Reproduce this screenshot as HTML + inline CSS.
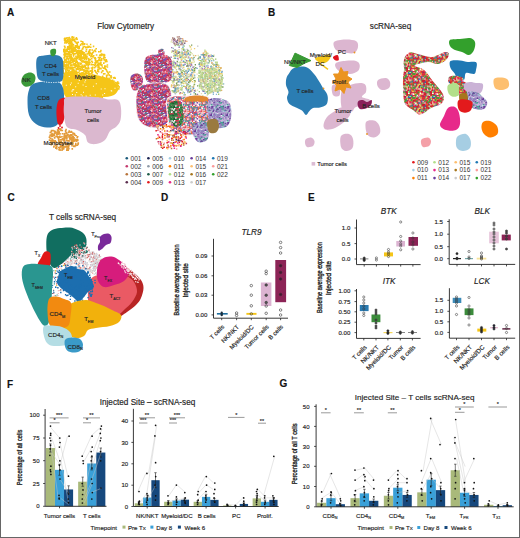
<!DOCTYPE html>
<html><head><meta charset="utf-8"><style>
html,body{margin:0;padding:0;background:#fff;}
svg{display:block;font-family:"Liberation Sans", sans-serif;}
text{stroke:#2a2a2a;stroke-width:0.16px;}
.l{stroke:none;fill:#333;}
</style></head><body>
<svg width="520" height="538" viewBox="0 0 520 538">
<defs><pattern id="pA1" width="16" height="16" patternUnits="userSpaceOnUse"><rect width="16" height="16" fill="#cc4a6e"/><path fill="#f09050" d="M5.9 1.4h1.5v1.5h-1.5zM1.8 4.5h1.5v1.5h-1.5zM8.5 13.0h1.5v1.5h-1.5zM7.1 3.7h1.5v1.5h-1.5zM10.4 3.4h1.5v1.5h-1.5zM12.7 2.4h1.5v1.5h-1.5zM1.5 8.9h1.5v1.5h-1.5zM11.6 3.9h1.5v1.5h-1.5zM9.4 10.4h1.5v1.5h-1.5zM10.8 2.0h1.5v1.5h-1.5zM2.1 5.7h1.5v1.5h-1.5zM9.2 5.6h1.5v1.5h-1.5zM14.9 8.0h1.5v1.5h-1.5zM9.6 9.7h1.5v1.5h-1.5zM6.4 8.5h1.5v1.5h-1.5zM1.9 4.9h1.5v1.5h-1.5zM9.4 -0.2h1.5v1.5h-1.5zM5.4 15.1h1.5v1.5h-1.5zM0.2 14.5h1.5v1.5h-1.5zM5.0 13.7h1.5v1.5h-1.5zM11.5 9.9h1.5v1.5h-1.5zM14.5 2.7h1.5v1.5h-1.5zM4.1 13.1h1.5v1.5h-1.5z"/><path fill="#e03040" d="M2.4 11.5h1.5v1.5h-1.5zM6.2 7.7h1.5v1.5h-1.5zM13.3 7.9h1.5v1.5h-1.5zM8.6 11.8h1.5v1.5h-1.5zM-0.5 12.8h1.5v1.5h-1.5zM4.3 15.2h1.5v1.5h-1.5zM1.1 1.5h1.5v1.5h-1.5zM11.8 3.3h1.5v1.5h-1.5zM14.3 2.0h1.5v1.5h-1.5zM7.3 9.3h1.5v1.5h-1.5zM8.6 1.1h1.5v1.5h-1.5zM7.3 10.6h1.5v1.5h-1.5zM13.5 8.2h1.5v1.5h-1.5zM1.2 14.1h1.5v1.5h-1.5zM9.9 14.6h1.5v1.5h-1.5zM10.4 2.8h1.5v1.5h-1.5zM5.3 8.7h1.5v1.5h-1.5zM8.3 9.3h1.5v1.5h-1.5zM6.3 -0.5h1.5v1.5h-1.5zM10.9 7.5h1.5v1.5h-1.5zM10.8 3.0h1.5v1.5h-1.5zM0.1 6.0h1.5v1.5h-1.5zM4.1 5.6h1.5v1.5h-1.5zM-0.3 0.3h1.5v1.5h-1.5zM12.1 5.5h1.5v1.5h-1.5zM-0.6 -0.1h1.5v1.5h-1.5zM1.0 4.3h1.5v1.5h-1.5zM10.5 10.5h1.5v1.5h-1.5zM13.5 2.0h1.5v1.5h-1.5zM14.5 8.5h1.5v1.5h-1.5zM13.1 4.1h1.5v1.5h-1.5zM12.9 13.0h1.5v1.5h-1.5zM7.6 3.4h1.5v1.5h-1.5zM11.8 1.7h1.5v1.5h-1.5zM13.6 5.7h1.5v1.5h-1.5zM1.9 13.5h1.5v1.5h-1.5zM0.9 1.3h1.5v1.5h-1.5zM7.8 11.7h1.5v1.5h-1.5zM6.2 8.7h1.5v1.5h-1.5zM6.5 14.0h1.5v1.5h-1.5zM4.4 7.8h1.5v1.5h-1.5z"/><path fill="#3a5a9a" d="M5.8 15.2h1.5v1.5h-1.5zM-0.0 0.2h1.5v1.5h-1.5zM11.5 3.4h1.5v1.5h-1.5zM0.6 12.9h1.5v1.5h-1.5zM10.3 6.5h1.5v1.5h-1.5zM3.3 11.9h1.5v1.5h-1.5zM1.6 0.5h1.5v1.5h-1.5zM4.0 12.8h1.5v1.5h-1.5zM2.6 12.0h1.5v1.5h-1.5zM-0.0 -0.3h1.5v1.5h-1.5zM3.9 14.6h1.5v1.5h-1.5zM14.2 4.6h1.5v1.5h-1.5zM9.9 9.2h1.5v1.5h-1.5zM12.9 14.5h1.5v1.5h-1.5zM14.3 14.4h1.5v1.5h-1.5zM14.2 11.0h1.5v1.5h-1.5zM3.5 8.7h1.5v1.5h-1.5zM3.1 8.2h1.5v1.5h-1.5zM11.5 14.1h1.5v1.5h-1.5zM5.7 14.1h1.5v1.5h-1.5zM12.1 6.9h1.5v1.5h-1.5zM2.8 12.1h1.5v1.5h-1.5zM2.8 2.7h1.5v1.5h-1.5zM5.6 2.7h1.5v1.5h-1.5z"/><path fill="#ffffff" d="M0.4 11.3h1.5v1.5h-1.5zM1.1 7.1h1.5v1.5h-1.5zM8.4 12.4h1.5v1.5h-1.5zM13.6 8.4h1.5v1.5h-1.5zM10.5 12.2h1.5v1.5h-1.5zM6.0 -0.3h1.5v1.5h-1.5zM8.7 8.6h1.5v1.5h-1.5zM13.8 10.3h1.5v1.5h-1.5zM14.6 13.6h1.5v1.5h-1.5zM11.2 4.4h1.5v1.5h-1.5zM1.4 2.4h1.5v1.5h-1.5zM7.3 3.4h1.5v1.5h-1.5zM10.3 11.8h1.5v1.5h-1.5zM5.7 -0.7h1.5v1.5h-1.5zM9.2 8.4h1.5v1.5h-1.5zM14.4 12.4h1.5v1.5h-1.5zM4.1 6.7h1.5v1.5h-1.5zM14.0 12.7h1.5v1.5h-1.5zM14.5 8.7h1.5v1.5h-1.5zM12.7 14.2h1.5v1.5h-1.5zM4.2 1.5h1.5v1.5h-1.5zM6.4 11.6h1.5v1.5h-1.5zM2.7 -0.4h1.5v1.5h-1.5zM6.0 10.2h1.5v1.5h-1.5zM4.7 10.8h1.5v1.5h-1.5zM4.3 4.7h1.5v1.5h-1.5zM13.3 8.1h1.5v1.5h-1.5zM0.6 3.4h1.5v1.5h-1.5zM0.3 3.7h1.5v1.5h-1.5zM11.8 0.5h1.5v1.5h-1.5zM13.4 2.7h1.5v1.5h-1.5zM10.7 11.2h1.5v1.5h-1.5zM13.7 9.1h1.5v1.5h-1.5zM9.7 9.9h1.5v1.5h-1.5zM12.5 14.4h1.5v1.5h-1.5zM3.1 2.0h1.5v1.5h-1.5zM6.2 13.5h1.5v1.5h-1.5zM1.8 9.7h1.5v1.5h-1.5zM1.2 4.9h1.5v1.5h-1.5zM4.9 4.7h1.5v1.5h-1.5zM11.9 1.5h1.5v1.5h-1.5zM5.3 0.5h1.5v1.5h-1.5zM0.8 14.8h1.5v1.5h-1.5zM12.9 12.8h1.5v1.5h-1.5zM11.2 5.7h1.5v1.5h-1.5zM0.9 6.5h1.5v1.5h-1.5zM8.1 1.4h1.5v1.5h-1.5z"/><path fill="#40a0a0" d="M7.7 6.0h1.5v1.5h-1.5zM10.9 14.3h1.5v1.5h-1.5zM10.3 10.0h1.5v1.5h-1.5zM8.7 3.6h1.5v1.5h-1.5zM14.4 12.1h1.5v1.5h-1.5zM0.9 2.2h1.5v1.5h-1.5zM7.9 8.4h1.5v1.5h-1.5zM14.5 12.8h1.5v1.5h-1.5zM0.7 7.9h1.5v1.5h-1.5zM12.0 8.8h1.5v1.5h-1.5zM0.4 13.6h1.5v1.5h-1.5zM7.7 5.7h1.5v1.5h-1.5zM-0.1 13.2h1.5v1.5h-1.5zM11.8 9.4h1.5v1.5h-1.5zM11.9 10.5h1.5v1.5h-1.5zM13.8 5.6h1.5v1.5h-1.5zM1.0 13.7h1.5v1.5h-1.5zM1.3 0.5h1.5v1.5h-1.5zM9.8 13.8h1.5v1.5h-1.5zM14.4 1.0h1.5v1.5h-1.5zM6.8 9.9h1.5v1.5h-1.5zM13.5 5.9h1.5v1.5h-1.5zM1.7 13.6h1.5v1.5h-1.5zM9.3 9.6h1.5v1.5h-1.5zM7.6 1.9h1.5v1.5h-1.5zM14.5 1.9h1.5v1.5h-1.5zM0.3 2.3h1.5v1.5h-1.5z"/><path fill="#f8d0d8" d="M9.7 1.1h1.5v1.5h-1.5zM7.7 0.9h1.5v1.5h-1.5zM4.3 7.7h1.5v1.5h-1.5zM7.0 14.3h1.5v1.5h-1.5zM2.5 9.7h1.5v1.5h-1.5zM3.7 3.5h1.5v1.5h-1.5zM11.4 13.1h1.5v1.5h-1.5zM0.4 10.1h1.5v1.5h-1.5zM3.8 10.8h1.5v1.5h-1.5zM8.9 1.4h1.5v1.5h-1.5zM-0.7 0.1h1.5v1.5h-1.5zM11.2 5.8h1.5v1.5h-1.5zM9.7 5.8h1.5v1.5h-1.5zM0.8 6.9h1.5v1.5h-1.5zM11.9 8.7h1.5v1.5h-1.5zM13.4 8.5h1.5v1.5h-1.5zM10.9 3.8h1.5v1.5h-1.5zM14.5 0.4h1.5v1.5h-1.5z"/><path fill="#e85070" d="M5.3 5.2h1.5v1.5h-1.5zM13.1 3.5h1.5v1.5h-1.5zM0.3 5.7h1.5v1.5h-1.5zM3.6 8.8h1.5v1.5h-1.5zM6.6 4.0h1.5v1.5h-1.5zM7.9 0.6h1.5v1.5h-1.5zM5.7 1.3h1.5v1.5h-1.5zM8.2 5.7h1.5v1.5h-1.5zM3.9 8.3h1.5v1.5h-1.5zM-0.5 11.8h1.5v1.5h-1.5zM8.5 12.8h1.5v1.5h-1.5zM1.9 10.5h1.5v1.5h-1.5zM4.7 12.2h1.5v1.5h-1.5zM6.9 9.9h1.5v1.5h-1.5zM3.4 5.9h1.5v1.5h-1.5zM10.1 7.4h1.5v1.5h-1.5zM13.9 12.0h1.5v1.5h-1.5zM8.0 5.7h1.5v1.5h-1.5z"/><path fill="#f080a0" d="M2.2 7.4h1.5v1.5h-1.5zM1.5 5.0h1.5v1.5h-1.5zM10.7 9.0h1.5v1.5h-1.5zM6.3 7.7h1.5v1.5h-1.5zM9.7 13.3h1.5v1.5h-1.5zM13.4 10.6h1.5v1.5h-1.5zM7.8 5.8h1.5v1.5h-1.5zM3.9 13.4h1.5v1.5h-1.5zM6.7 11.0h1.5v1.5h-1.5zM10.5 12.0h1.5v1.5h-1.5zM14.9 3.9h1.5v1.5h-1.5zM5.0 -0.2h1.5v1.5h-1.5z"/><path fill="#6a4aa0" d="M0.2 14.2h1.5v1.5h-1.5zM13.3 12.0h1.5v1.5h-1.5zM9.4 7.2h1.5v1.5h-1.5zM3.6 14.3h1.5v1.5h-1.5zM4.6 0.2h1.5v1.5h-1.5zM9.8 12.5h1.5v1.5h-1.5zM14.5 11.1h1.5v1.5h-1.5zM3.5 11.0h1.5v1.5h-1.5zM7.5 4.4h1.5v1.5h-1.5zM2.8 0.7h1.5v1.5h-1.5zM0.3 6.2h1.5v1.5h-1.5zM6.2 10.2h1.5v1.5h-1.5zM14.7 6.2h1.5v1.5h-1.5zM5.2 0.3h1.5v1.5h-1.5zM1.5 10.1h1.5v1.5h-1.5zM5.7 -0.2h1.5v1.5h-1.5zM13.8 0.8h1.5v1.5h-1.5z"/><path fill="#d02070" d="M4.9 0.2h1.5v1.5h-1.5zM-0.3 2.7h1.5v1.5h-1.5zM11.8 14.6h1.5v1.5h-1.5zM11.7 14.6h1.5v1.5h-1.5zM13.5 8.0h1.5v1.5h-1.5zM7.7 3.3h1.5v1.5h-1.5zM-0.7 14.4h1.5v1.5h-1.5zM2.1 5.2h1.5v1.5h-1.5zM5.5 10.4h1.5v1.5h-1.5zM9.2 2.6h1.5v1.5h-1.5zM11.5 7.7h1.5v1.5h-1.5zM13.8 1.6h1.5v1.5h-1.5zM1.2 12.1h1.5v1.5h-1.5zM4.0 4.6h1.5v1.5h-1.5zM0.5 5.3h1.5v1.5h-1.5zM11.9 14.3h1.5v1.5h-1.5zM-0.3 8.3h1.5v1.5h-1.5zM12.0 -0.7h1.5v1.5h-1.5zM9.3 13.1h1.5v1.5h-1.5zM8.1 5.7h1.5v1.5h-1.5zM14.1 7.4h1.5v1.5h-1.5zM14.8 10.5h1.5v1.5h-1.5z"/><path fill="#8050b0" d="M11.2 -0.7h1.5v1.5h-1.5zM1.3 5.0h1.5v1.5h-1.5zM14.7 12.1h1.5v1.5h-1.5zM11.2 6.4h1.5v1.5h-1.5zM4.6 3.2h1.5v1.5h-1.5zM5.0 1.1h1.5v1.5h-1.5zM7.2 -0.6h1.5v1.5h-1.5zM9.9 2.6h1.5v1.5h-1.5zM9.7 15.0h1.5v1.5h-1.5zM10.0 2.8h1.5v1.5h-1.5zM6.0 -0.3h1.5v1.5h-1.5zM4.8 9.8h1.5v1.5h-1.5zM2.8 11.1h1.5v1.5h-1.5zM4.9 11.3h1.5v1.5h-1.5zM8.9 5.4h1.5v1.5h-1.5zM13.1 11.7h1.5v1.5h-1.5zM0.2 13.7h1.5v1.5h-1.5zM12.9 1.1h1.5v1.5h-1.5zM3.0 11.7h1.5v1.5h-1.5z"/><path fill="#c03050" d="M9.9 0.1h1.5v1.5h-1.5zM4.4 15.0h1.5v1.5h-1.5zM-0.6 8.6h1.5v1.5h-1.5zM11.0 12.2h1.5v1.5h-1.5zM7.4 11.1h1.5v1.5h-1.5zM13.4 14.1h1.5v1.5h-1.5zM5.3 -0.4h1.5v1.5h-1.5zM12.2 4.2h1.5v1.5h-1.5zM14.6 2.6h1.5v1.5h-1.5zM-0.2 8.2h1.5v1.5h-1.5zM12.6 8.5h1.5v1.5h-1.5zM1.3 15.0h1.5v1.5h-1.5zM-0.5 9.1h1.5v1.5h-1.5zM12.1 0.8h1.5v1.5h-1.5zM3.5 6.1h1.5v1.5h-1.5zM1.6 14.5h1.5v1.5h-1.5zM7.4 -0.4h1.5v1.5h-1.5zM8.6 9.1h1.5v1.5h-1.5zM2.0 9.3h1.5v1.5h-1.5zM10.0 10.6h1.5v1.5h-1.5zM5.4 12.2h1.5v1.5h-1.5zM1.4 11.7h1.5v1.5h-1.5zM-0.2 12.6h1.5v1.5h-1.5zM13.2 3.5h1.5v1.5h-1.5zM13.8 12.2h1.5v1.5h-1.5zM7.0 10.7h1.5v1.5h-1.5zM4.4 4.9h1.5v1.5h-1.5zM3.1 13.7h1.5v1.5h-1.5zM4.9 14.0h1.5v1.5h-1.5zM1.4 1.8h1.5v1.5h-1.5zM14.0 10.7h1.5v1.5h-1.5zM10.8 4.3h1.5v1.5h-1.5z"/></pattern><pattern id="pA2" width="16" height="16" patternUnits="userSpaceOnUse"><path fill="#ff7f00" d="M14.7 5.5h1.2v1.2h-1.2zM4.0 9.0h1.2v1.2h-1.2zM15.2 15.2h1.2v1.2h-1.2zM4.1 7.6h1.2v1.2h-1.2zM6.3 12.2h1.2v1.2h-1.2z"/><path fill="#b8733a" d="M3.3 15.0h1.2v1.2h-1.2zM9.3 11.2h1.2v1.2h-1.2zM9.3 0.1h1.2v1.2h-1.2zM-0.4 0.6h1.2v1.2h-1.2z"/><path fill="#a6cee3" d="M8.9 1.4h1.2v1.2h-1.2zM6.4 12.4h1.2v1.2h-1.2zM10.0 4.2h1.2v1.2h-1.2zM5.7 8.9h1.2v1.2h-1.2zM0.4 1.7h1.2v1.2h-1.2z"/><path fill="#33a02c" d="M7.5 7.3h1.2v1.2h-1.2zM2.3 5.9h1.2v1.2h-1.2z"/><path fill="#cccccc" d="M11.1 10.5h1.2v1.2h-1.2zM7.4 -0.4h1.2v1.2h-1.2zM13.9 5.7h1.2v1.2h-1.2zM14.8 12.6h1.2v1.2h-1.2z"/><path fill="#c43a6e" d="M4.5 4.6h1.2v1.2h-1.2zM2.4 0.3h1.2v1.2h-1.2zM-0.3 9.3h1.2v1.2h-1.2z"/><path fill="#6a3d9a" d="M11.3 11.9h1.2v1.2h-1.2zM10.0 1.6h1.2v1.2h-1.2zM13.3 7.4h1.2v1.2h-1.2zM1.7 10.0h1.2v1.2h-1.2z"/><path fill="#fdbf6f" d="M14.0 5.6h1.2v1.2h-1.2zM6.9 9.6h1.2v1.2h-1.2zM13.5 9.8h1.2v1.2h-1.2zM12.7 3.5h1.2v1.2h-1.2zM11.5 15.0h1.2v1.2h-1.2zM9.9 9.0h1.2v1.2h-1.2z"/><path fill="#1f78b4" d="M11.9 5.3h1.2v1.2h-1.2zM14.6 11.1h1.2v1.2h-1.2zM12.7 4.4h1.2v1.2h-1.2zM6.2 2.7h1.2v1.2h-1.2zM2.6 7.6h1.2v1.2h-1.2z"/><path fill="#b2df8a" d="M12.1 15.2h1.2v1.2h-1.2z"/><path fill="#a6761d" d="M1.8 0.6h1.2v1.2h-1.2z"/></pattern><pattern id="pA3" width="16" height="16" patternUnits="userSpaceOnUse"><rect width="16" height="16" fill="#d4506a"/><path fill="#e85050" d="M0.5 8.0h1.5v1.5h-1.5zM7.7 4.2h1.5v1.5h-1.5zM11.6 6.3h1.5v1.5h-1.5zM12.3 0.9h1.5v1.5h-1.5zM12.1 12.8h1.5v1.5h-1.5zM9.5 10.1h1.5v1.5h-1.5zM-0.6 10.5h1.5v1.5h-1.5zM14.2 8.3h1.5v1.5h-1.5zM3.0 9.1h1.5v1.5h-1.5zM13.7 8.8h1.5v1.5h-1.5zM12.9 0.8h1.5v1.5h-1.5zM8.3 1.4h1.5v1.5h-1.5zM4.1 14.0h1.5v1.5h-1.5zM15.2 14.0h1.5v1.5h-1.5zM6.3 4.9h1.5v1.5h-1.5zM8.8 3.5h1.5v1.5h-1.5zM14.1 4.6h1.5v1.5h-1.5zM7.3 3.3h1.5v1.5h-1.5zM7.8 11.9h1.5v1.5h-1.5zM1.7 12.7h1.5v1.5h-1.5zM10.8 9.7h1.5v1.5h-1.5zM0.6 -0.2h1.5v1.5h-1.5zM8.7 14.2h1.5v1.5h-1.5zM13.0 14.1h1.5v1.5h-1.5zM2.8 0.0h1.5v1.5h-1.5zM11.1 8.7h1.5v1.5h-1.5zM5.3 1.3h1.5v1.5h-1.5zM11.9 -0.5h1.5v1.5h-1.5zM5.6 12.2h1.5v1.5h-1.5zM12.3 9.8h1.5v1.5h-1.5zM2.6 -0.4h1.5v1.5h-1.5zM5.5 14.7h1.5v1.5h-1.5zM1.7 11.7h1.5v1.5h-1.5z"/><path fill="#e03040" d="M1.0 6.9h1.5v1.5h-1.5zM2.9 7.4h1.5v1.5h-1.5zM6.4 6.4h1.5v1.5h-1.5zM1.1 11.1h1.5v1.5h-1.5zM10.4 5.6h1.5v1.5h-1.5zM4.6 9.4h1.5v1.5h-1.5zM13.8 3.9h1.5v1.5h-1.5zM1.3 0.5h1.5v1.5h-1.5zM13.5 1.4h1.5v1.5h-1.5zM4.0 6.1h1.5v1.5h-1.5zM11.3 2.6h1.5v1.5h-1.5zM15.2 2.6h1.5v1.5h-1.5zM1.2 6.8h1.5v1.5h-1.5zM13.3 7.8h1.5v1.5h-1.5zM12.6 14.9h1.5v1.5h-1.5zM13.9 5.6h1.5v1.5h-1.5zM5.2 2.0h1.5v1.5h-1.5zM5.2 2.1h1.5v1.5h-1.5zM0.4 6.4h1.5v1.5h-1.5zM11.7 5.5h1.5v1.5h-1.5zM14.7 12.4h1.5v1.5h-1.5zM1.9 6.5h1.5v1.5h-1.5zM11.4 2.5h1.5v1.5h-1.5zM4.3 4.7h1.5v1.5h-1.5z"/><path fill="#d02070" d="M5.6 5.5h1.5v1.5h-1.5zM2.9 1.0h1.5v1.5h-1.5zM-0.6 11.9h1.5v1.5h-1.5zM5.8 0.5h1.5v1.5h-1.5zM8.8 5.1h1.5v1.5h-1.5zM5.0 3.9h1.5v1.5h-1.5zM0.7 1.0h1.5v1.5h-1.5zM7.4 -0.3h1.5v1.5h-1.5zM3.7 14.2h1.5v1.5h-1.5zM1.5 9.7h1.5v1.5h-1.5zM3.2 11.5h1.5v1.5h-1.5zM6.2 -0.7h1.5v1.5h-1.5zM9.8 9.9h1.5v1.5h-1.5zM8.9 4.1h1.5v1.5h-1.5zM5.4 6.5h1.5v1.5h-1.5zM13.4 1.4h1.5v1.5h-1.5zM14.5 0.9h1.5v1.5h-1.5zM0.1 13.8h1.5v1.5h-1.5zM9.8 9.7h1.5v1.5h-1.5zM3.0 5.2h1.5v1.5h-1.5zM11.4 4.1h1.5v1.5h-1.5zM3.7 1.4h1.5v1.5h-1.5zM0.3 5.8h1.5v1.5h-1.5zM8.5 11.1h1.5v1.5h-1.5zM12.2 9.4h1.5v1.5h-1.5zM11.8 11.0h1.5v1.5h-1.5zM-0.6 12.7h1.5v1.5h-1.5z"/><path fill="#f09040" d="M8.2 7.8h1.5v1.5h-1.5zM6.9 2.3h1.5v1.5h-1.5zM0.0 13.7h1.5v1.5h-1.5zM11.9 6.8h1.5v1.5h-1.5zM-0.7 4.0h1.5v1.5h-1.5zM8.4 7.9h1.5v1.5h-1.5zM1.3 1.2h1.5v1.5h-1.5zM13.9 4.5h1.5v1.5h-1.5zM10.0 11.0h1.5v1.5h-1.5zM0.7 10.3h1.5v1.5h-1.5zM12.3 14.8h1.5v1.5h-1.5zM1.0 3.6h1.5v1.5h-1.5zM15.1 2.9h1.5v1.5h-1.5zM3.0 9.0h1.5v1.5h-1.5zM6.5 12.9h1.5v1.5h-1.5zM15.0 15.2h1.5v1.5h-1.5zM-0.6 12.1h1.5v1.5h-1.5zM7.5 3.4h1.5v1.5h-1.5zM6.6 9.2h1.5v1.5h-1.5zM6.3 10.5h1.5v1.5h-1.5zM8.9 5.7h1.5v1.5h-1.5zM2.4 4.9h1.5v1.5h-1.5zM4.7 14.7h1.5v1.5h-1.5zM13.7 3.5h1.5v1.5h-1.5zM10.5 10.0h1.5v1.5h-1.5zM4.6 12.2h1.5v1.5h-1.5zM9.2 9.8h1.5v1.5h-1.5zM5.5 8.6h1.5v1.5h-1.5zM4.6 10.5h1.5v1.5h-1.5zM2.4 3.7h1.5v1.5h-1.5zM9.4 -0.0h1.5v1.5h-1.5zM2.3 9.2h1.5v1.5h-1.5zM14.8 12.8h1.5v1.5h-1.5zM10.7 9.8h1.5v1.5h-1.5zM2.7 13.7h1.5v1.5h-1.5zM9.6 5.2h1.5v1.5h-1.5zM1.5 9.1h1.5v1.5h-1.5zM4.8 5.8h1.5v1.5h-1.5zM8.4 -0.5h1.5v1.5h-1.5zM14.9 7.0h1.5v1.5h-1.5zM10.0 13.8h1.5v1.5h-1.5zM0.0 -0.2h1.5v1.5h-1.5zM13.6 3.3h1.5v1.5h-1.5z"/><path fill="#3a80c0" d="M13.4 2.0h1.5v1.5h-1.5zM-0.4 12.1h1.5v1.5h-1.5zM14.1 9.9h1.5v1.5h-1.5zM3.9 13.7h1.5v1.5h-1.5zM4.8 8.1h1.5v1.5h-1.5zM11.7 13.2h1.5v1.5h-1.5zM9.1 3.4h1.5v1.5h-1.5zM2.4 7.9h1.5v1.5h-1.5zM13.3 1.0h1.5v1.5h-1.5zM10.8 11.5h1.5v1.5h-1.5zM14.5 14.2h1.5v1.5h-1.5zM-0.4 0.0h1.5v1.5h-1.5zM3.0 4.1h1.5v1.5h-1.5zM6.5 7.0h1.5v1.5h-1.5zM3.9 13.2h1.5v1.5h-1.5zM6.6 8.6h1.5v1.5h-1.5zM9.4 2.0h1.5v1.5h-1.5zM2.2 6.5h1.5v1.5h-1.5zM2.8 6.1h1.5v1.5h-1.5zM4.2 11.9h1.5v1.5h-1.5zM12.1 2.4h1.5v1.5h-1.5z"/><path fill="#f080a0" d="M4.3 -0.0h1.5v1.5h-1.5zM12.6 6.3h1.5v1.5h-1.5zM4.7 6.9h1.5v1.5h-1.5zM5.5 -0.3h1.5v1.5h-1.5zM13.4 6.9h1.5v1.5h-1.5zM1.7 14.8h1.5v1.5h-1.5zM8.0 0.0h1.5v1.5h-1.5zM0.5 2.1h1.5v1.5h-1.5zM4.4 7.8h1.5v1.5h-1.5zM10.4 8.8h1.5v1.5h-1.5zM13.5 11.3h1.5v1.5h-1.5zM9.2 12.9h1.5v1.5h-1.5zM14.0 8.1h1.5v1.5h-1.5zM-0.2 4.0h1.5v1.5h-1.5zM10.5 0.6h1.5v1.5h-1.5zM6.7 9.5h1.5v1.5h-1.5zM2.6 7.0h1.5v1.5h-1.5zM4.8 8.1h1.5v1.5h-1.5zM8.7 6.2h1.5v1.5h-1.5zM3.6 11.6h1.5v1.5h-1.5zM14.1 2.1h1.5v1.5h-1.5zM5.4 6.3h1.5v1.5h-1.5zM1.2 8.5h1.5v1.5h-1.5zM3.7 2.5h1.5v1.5h-1.5zM9.1 10.6h1.5v1.5h-1.5zM7.2 13.9h1.5v1.5h-1.5zM1.7 5.7h1.5v1.5h-1.5zM14.9 0.8h1.5v1.5h-1.5zM13.5 4.6h1.5v1.5h-1.5zM5.2 8.0h1.5v1.5h-1.5z"/><path fill="#ffffff" d="M9.2 11.3h1.5v1.5h-1.5zM2.2 6.0h1.5v1.5h-1.5zM3.1 3.8h1.5v1.5h-1.5zM-0.7 2.0h1.5v1.5h-1.5zM11.0 6.4h1.5v1.5h-1.5zM7.2 12.9h1.5v1.5h-1.5zM1.2 8.4h1.5v1.5h-1.5zM5.6 6.3h1.5v1.5h-1.5zM5.9 2.3h1.5v1.5h-1.5zM1.2 15.2h1.5v1.5h-1.5zM3.6 7.2h1.5v1.5h-1.5zM5.1 8.3h1.5v1.5h-1.5zM2.9 6.7h1.5v1.5h-1.5zM12.8 2.9h1.5v1.5h-1.5zM10.3 1.7h1.5v1.5h-1.5zM11.4 11.7h1.5v1.5h-1.5zM9.4 0.3h1.5v1.5h-1.5zM11.8 -0.7h1.5v1.5h-1.5zM5.3 14.1h1.5v1.5h-1.5zM8.2 8.6h1.5v1.5h-1.5zM2.6 12.6h1.5v1.5h-1.5zM9.8 11.7h1.5v1.5h-1.5zM10.6 9.6h1.5v1.5h-1.5zM5.6 9.0h1.5v1.5h-1.5zM5.0 4.6h1.5v1.5h-1.5zM7.1 5.9h1.5v1.5h-1.5zM5.1 7.9h1.5v1.5h-1.5zM14.5 1.1h1.5v1.5h-1.5zM2.0 13.8h1.5v1.5h-1.5zM-0.6 10.2h1.5v1.5h-1.5zM11.2 -0.7h1.5v1.5h-1.5zM3.9 6.2h1.5v1.5h-1.5z"/><path fill="#8050b0" d="M13.8 7.5h1.5v1.5h-1.5zM3.5 1.9h1.5v1.5h-1.5zM9.2 3.1h1.5v1.5h-1.5zM-0.7 3.3h1.5v1.5h-1.5zM0.6 14.6h1.5v1.5h-1.5zM7.7 1.6h1.5v1.5h-1.5zM-0.6 11.3h1.5v1.5h-1.5zM3.7 0.5h1.5v1.5h-1.5zM14.6 14.2h1.5v1.5h-1.5zM0.8 7.0h1.5v1.5h-1.5zM13.5 13.0h1.5v1.5h-1.5zM-0.7 -0.5h1.5v1.5h-1.5zM12.5 4.1h1.5v1.5h-1.5zM11.8 10.0h1.5v1.5h-1.5zM4.5 6.1h1.5v1.5h-1.5zM4.7 10.4h1.5v1.5h-1.5zM1.7 12.8h1.5v1.5h-1.5zM10.8 2.5h1.5v1.5h-1.5zM1.8 1.2h1.5v1.5h-1.5zM3.2 8.4h1.5v1.5h-1.5zM2.6 2.4h1.5v1.5h-1.5z"/><path fill="#40a0a0" d="M6.3 0.7h1.5v1.5h-1.5zM8.3 1.2h1.5v1.5h-1.5zM8.3 5.7h1.5v1.5h-1.5zM14.5 10.1h1.5v1.5h-1.5zM12.8 7.7h1.5v1.5h-1.5zM3.3 11.1h1.5v1.5h-1.5zM15.1 6.3h1.5v1.5h-1.5zM1.6 10.6h1.5v1.5h-1.5zM3.4 1.8h1.5v1.5h-1.5zM11.1 12.3h1.5v1.5h-1.5zM1.4 5.6h1.5v1.5h-1.5zM9.1 8.5h1.5v1.5h-1.5zM13.5 5.3h1.5v1.5h-1.5zM8.6 8.2h1.5v1.5h-1.5zM11.1 8.5h1.5v1.5h-1.5zM7.6 1.5h1.5v1.5h-1.5zM5.8 1.3h1.5v1.5h-1.5zM7.5 11.4h1.5v1.5h-1.5zM5.1 15.1h1.5v1.5h-1.5zM1.8 13.0h1.5v1.5h-1.5zM2.6 1.7h1.5v1.5h-1.5zM12.6 2.0h1.5v1.5h-1.5zM0.0 11.7h1.5v1.5h-1.5zM9.2 1.7h1.5v1.5h-1.5z"/><path fill="#f0c0c8" d="M10.0 14.3h1.5v1.5h-1.5zM14.1 8.4h1.5v1.5h-1.5zM6.8 5.7h1.5v1.5h-1.5zM14.0 12.6h1.5v1.5h-1.5zM6.8 -0.3h1.5v1.5h-1.5zM11.5 4.0h1.5v1.5h-1.5zM3.1 7.4h1.5v1.5h-1.5zM13.2 3.4h1.5v1.5h-1.5zM14.2 14.3h1.5v1.5h-1.5zM9.4 2.6h1.5v1.5h-1.5zM11.4 13.8h1.5v1.5h-1.5zM4.6 15.2h1.5v1.5h-1.5zM13.6 9.0h1.5v1.5h-1.5zM2.7 13.2h1.5v1.5h-1.5zM7.6 6.1h1.5v1.5h-1.5zM5.1 14.7h1.5v1.5h-1.5zM14.5 8.6h1.5v1.5h-1.5zM7.9 1.9h1.5v1.5h-1.5zM5.6 0.6h1.5v1.5h-1.5zM4.1 9.4h1.5v1.5h-1.5zM11.2 6.2h1.5v1.5h-1.5zM3.1 3.4h1.5v1.5h-1.5zM8.5 1.5h1.5v1.5h-1.5zM9.2 0.5h1.5v1.5h-1.5zM3.5 3.7h1.5v1.5h-1.5z"/></pattern><pattern id="pA4" width="16" height="16" patternUnits="userSpaceOnUse"><rect width="16" height="16" fill="#b4a4d0"/><path fill="#e0d0e8" d="M8.1 8.7h1.5v1.5h-1.5zM2.9 8.8h1.5v1.5h-1.5zM8.7 5.2h1.5v1.5h-1.5zM3.5 10.7h1.5v1.5h-1.5zM6.4 0.8h1.5v1.5h-1.5zM3.3 5.3h1.5v1.5h-1.5zM11.1 2.4h1.5v1.5h-1.5zM2.8 13.2h1.5v1.5h-1.5zM4.3 6.0h1.5v1.5h-1.5zM2.7 12.0h1.5v1.5h-1.5zM10.7 11.6h1.5v1.5h-1.5zM1.3 -0.0h1.5v1.5h-1.5zM14.4 13.6h1.5v1.5h-1.5zM14.1 13.8h1.5v1.5h-1.5zM10.7 4.0h1.5v1.5h-1.5zM5.1 15.1h1.5v1.5h-1.5zM6.6 13.0h1.5v1.5h-1.5zM8.5 10.7h1.5v1.5h-1.5zM9.5 1.8h1.5v1.5h-1.5zM10.1 9.6h1.5v1.5h-1.5zM13.5 2.9h1.5v1.5h-1.5zM8.2 1.9h1.5v1.5h-1.5zM12.0 1.9h1.5v1.5h-1.5zM8.6 12.1h1.5v1.5h-1.5z"/><path fill="#ffffff" d="M2.5 9.2h1.5v1.5h-1.5zM2.7 10.8h1.5v1.5h-1.5zM4.1 0.2h1.5v1.5h-1.5zM11.8 5.1h1.5v1.5h-1.5zM3.1 8.7h1.5v1.5h-1.5zM2.3 8.4h1.5v1.5h-1.5zM10.1 1.3h1.5v1.5h-1.5zM2.2 3.6h1.5v1.5h-1.5zM3.1 13.0h1.5v1.5h-1.5zM5.2 15.2h1.5v1.5h-1.5zM3.4 3.2h1.5v1.5h-1.5zM3.4 8.1h1.5v1.5h-1.5zM13.9 7.4h1.5v1.5h-1.5zM5.7 10.4h1.5v1.5h-1.5zM3.0 2.9h1.5v1.5h-1.5zM9.5 8.2h1.5v1.5h-1.5zM-0.5 4.7h1.5v1.5h-1.5zM3.4 1.5h1.5v1.5h-1.5zM11.4 1.4h1.5v1.5h-1.5zM4.3 11.2h1.5v1.5h-1.5zM12.5 2.2h1.5v1.5h-1.5zM9.1 13.1h1.5v1.5h-1.5zM0.9 10.9h1.5v1.5h-1.5zM3.9 12.6h1.5v1.5h-1.5zM14.3 1.0h1.5v1.5h-1.5zM7.7 13.5h1.5v1.5h-1.5zM0.6 2.7h1.5v1.5h-1.5zM10.1 11.9h1.5v1.5h-1.5zM8.8 0.8h1.5v1.5h-1.5z"/><path fill="#8a7ab0" d="M12.8 12.8h1.5v1.5h-1.5zM4.6 15.1h1.5v1.5h-1.5zM1.7 13.5h1.5v1.5h-1.5zM14.5 15.0h1.5v1.5h-1.5zM11.8 11.4h1.5v1.5h-1.5zM12.0 0.8h1.5v1.5h-1.5zM13.9 6.3h1.5v1.5h-1.5zM12.6 14.8h1.5v1.5h-1.5zM1.1 2.1h1.5v1.5h-1.5zM11.1 12.2h1.5v1.5h-1.5zM3.9 12.0h1.5v1.5h-1.5zM13.0 10.9h1.5v1.5h-1.5zM8.9 14.3h1.5v1.5h-1.5zM6.5 12.6h1.5v1.5h-1.5zM-0.1 10.2h1.5v1.5h-1.5zM1.5 0.5h1.5v1.5h-1.5zM7.3 7.9h1.5v1.5h-1.5zM3.4 4.1h1.5v1.5h-1.5zM11.4 13.1h1.5v1.5h-1.5zM11.1 0.9h1.5v1.5h-1.5zM11.5 9.1h1.5v1.5h-1.5zM3.1 10.0h1.5v1.5h-1.5zM4.8 12.9h1.5v1.5h-1.5zM8.6 5.0h1.5v1.5h-1.5zM5.4 3.5h1.5v1.5h-1.5zM6.0 5.6h1.5v1.5h-1.5zM4.3 4.4h1.5v1.5h-1.5zM8.1 15.2h1.5v1.5h-1.5zM12.0 0.9h1.5v1.5h-1.5zM13.2 12.1h1.5v1.5h-1.5zM8.0 2.0h1.5v1.5h-1.5z"/><path fill="#a6cee3" d="M6.2 10.9h1.5v1.5h-1.5zM5.8 7.8h1.5v1.5h-1.5zM0.5 15.2h1.5v1.5h-1.5zM13.7 5.8h1.5v1.5h-1.5zM4.0 9.6h1.5v1.5h-1.5zM6.3 5.3h1.5v1.5h-1.5zM3.1 15.0h1.5v1.5h-1.5zM14.9 4.5h1.5v1.5h-1.5zM12.4 14.0h1.5v1.5h-1.5zM13.0 9.7h1.5v1.5h-1.5zM2.9 -0.7h1.5v1.5h-1.5zM13.5 7.9h1.5v1.5h-1.5zM4.4 13.3h1.5v1.5h-1.5zM6.5 7.2h1.5v1.5h-1.5zM6.5 11.3h1.5v1.5h-1.5zM14.6 12.2h1.5v1.5h-1.5zM1.0 9.6h1.5v1.5h-1.5zM2.6 7.8h1.5v1.5h-1.5zM5.2 9.3h1.5v1.5h-1.5zM10.1 10.3h1.5v1.5h-1.5zM13.8 4.4h1.5v1.5h-1.5zM6.5 12.6h1.5v1.5h-1.5zM1.3 7.0h1.5v1.5h-1.5zM10.3 1.4h1.5v1.5h-1.5zM1.5 3.7h1.5v1.5h-1.5zM3.3 7.8h1.5v1.5h-1.5zM0.6 13.0h1.5v1.5h-1.5zM14.8 2.0h1.5v1.5h-1.5zM3.7 2.4h1.5v1.5h-1.5zM8.8 3.3h1.5v1.5h-1.5zM6.9 1.2h1.5v1.5h-1.5zM8.7 2.5h1.5v1.5h-1.5zM2.0 4.4h1.5v1.5h-1.5zM14.5 14.9h1.5v1.5h-1.5zM11.0 12.1h1.5v1.5h-1.5zM9.1 14.4h1.5v1.5h-1.5zM9.7 10.7h1.5v1.5h-1.5zM8.2 6.0h1.5v1.5h-1.5zM5.0 15.1h1.5v1.5h-1.5z"/><path fill="#cab2d6" d="M2.8 15.2h1.5v1.5h-1.5zM4.3 0.1h1.5v1.5h-1.5zM9.7 6.8h1.5v1.5h-1.5zM7.6 4.6h1.5v1.5h-1.5zM-0.7 13.6h1.5v1.5h-1.5zM11.8 7.7h1.5v1.5h-1.5zM3.1 7.3h1.5v1.5h-1.5zM0.2 6.3h1.5v1.5h-1.5zM7.0 8.2h1.5v1.5h-1.5zM1.7 4.7h1.5v1.5h-1.5zM1.8 0.9h1.5v1.5h-1.5zM9.4 7.4h1.5v1.5h-1.5zM2.8 -0.7h1.5v1.5h-1.5zM6.0 6.7h1.5v1.5h-1.5zM9.5 0.9h1.5v1.5h-1.5zM8.5 9.4h1.5v1.5h-1.5zM9.0 9.2h1.5v1.5h-1.5zM9.4 10.9h1.5v1.5h-1.5zM13.2 7.8h1.5v1.5h-1.5zM14.0 6.9h1.5v1.5h-1.5zM5.5 8.5h1.5v1.5h-1.5zM4.1 7.7h1.5v1.5h-1.5zM9.8 7.8h1.5v1.5h-1.5zM9.9 1.8h1.5v1.5h-1.5zM4.2 6.8h1.5v1.5h-1.5zM13.2 4.7h1.5v1.5h-1.5z"/><path fill="#40a090" d="M9.1 8.5h1.5v1.5h-1.5zM9.8 2.5h1.5v1.5h-1.5zM14.4 2.3h1.5v1.5h-1.5zM3.1 7.9h1.5v1.5h-1.5zM11.4 15.2h1.5v1.5h-1.5zM7.2 10.4h1.5v1.5h-1.5zM12.3 9.9h1.5v1.5h-1.5zM7.8 9.5h1.5v1.5h-1.5zM8.0 11.1h1.5v1.5h-1.5zM0.3 13.7h1.5v1.5h-1.5zM3.1 13.1h1.5v1.5h-1.5zM9.3 3.1h1.5v1.5h-1.5zM3.4 0.2h1.5v1.5h-1.5zM8.0 11.3h1.5v1.5h-1.5zM13.8 10.0h1.5v1.5h-1.5zM10.4 2.3h1.5v1.5h-1.5zM10.0 2.6h1.5v1.5h-1.5zM12.5 5.9h1.5v1.5h-1.5zM14.7 9.6h1.5v1.5h-1.5zM9.1 15.0h1.5v1.5h-1.5zM14.3 13.0h1.5v1.5h-1.5zM14.3 11.7h1.5v1.5h-1.5zM15.2 6.5h1.5v1.5h-1.5zM-0.6 10.4h1.5v1.5h-1.5zM10.2 5.0h1.5v1.5h-1.5zM8.1 13.6h1.5v1.5h-1.5zM9.2 12.2h1.5v1.5h-1.5zM11.2 6.4h1.5v1.5h-1.5z"/><path fill="#6a3d9a" d="M2.2 12.2h1.5v1.5h-1.5zM1.4 2.6h1.5v1.5h-1.5zM4.4 15.1h1.5v1.5h-1.5zM11.0 11.1h1.5v1.5h-1.5zM9.3 12.5h1.5v1.5h-1.5zM3.4 10.0h1.5v1.5h-1.5zM2.6 2.8h1.5v1.5h-1.5zM15.2 10.0h1.5v1.5h-1.5zM2.7 1.2h1.5v1.5h-1.5zM1.0 10.8h1.5v1.5h-1.5zM7.9 12.3h1.5v1.5h-1.5zM5.9 1.4h1.5v1.5h-1.5zM5.3 5.5h1.5v1.5h-1.5zM5.2 8.0h1.5v1.5h-1.5zM13.0 1.4h1.5v1.5h-1.5zM5.9 2.3h1.5v1.5h-1.5zM4.8 13.6h1.5v1.5h-1.5zM11.1 4.7h1.5v1.5h-1.5zM6.7 7.7h1.5v1.5h-1.5zM3.2 10.7h1.5v1.5h-1.5zM4.2 10.1h1.5v1.5h-1.5zM0.8 13.0h1.5v1.5h-1.5zM9.0 7.8h1.5v1.5h-1.5zM3.8 11.4h1.5v1.5h-1.5zM8.6 3.7h1.5v1.5h-1.5zM11.6 1.7h1.5v1.5h-1.5zM0.3 11.8h1.5v1.5h-1.5zM7.2 14.4h1.5v1.5h-1.5z"/><path fill="#b0a0d0" d="M15.1 4.6h1.5v1.5h-1.5zM9.0 10.4h1.5v1.5h-1.5zM1.6 6.5h1.5v1.5h-1.5zM11.3 1.0h1.5v1.5h-1.5zM4.6 7.7h1.5v1.5h-1.5zM11.8 -0.4h1.5v1.5h-1.5zM3.6 13.3h1.5v1.5h-1.5zM3.8 0.6h1.5v1.5h-1.5zM9.6 6.9h1.5v1.5h-1.5zM15.0 5.7h1.5v1.5h-1.5zM14.9 0.9h1.5v1.5h-1.5zM15.2 7.0h1.5v1.5h-1.5zM1.7 12.6h1.5v1.5h-1.5zM7.2 11.5h1.5v1.5h-1.5zM-0.4 10.0h1.5v1.5h-1.5zM8.6 7.0h1.5v1.5h-1.5zM1.4 7.5h1.5v1.5h-1.5zM14.8 1.3h1.5v1.5h-1.5zM6.6 9.8h1.5v1.5h-1.5zM0.3 0.3h1.5v1.5h-1.5zM3.4 13.0h1.5v1.5h-1.5zM0.3 12.1h1.5v1.5h-1.5zM5.0 8.7h1.5v1.5h-1.5zM8.7 6.9h1.5v1.5h-1.5zM4.8 4.6h1.5v1.5h-1.5zM11.0 7.6h1.5v1.5h-1.5zM6.7 7.3h1.5v1.5h-1.5zM9.3 10.6h1.5v1.5h-1.5z"/><path fill="#9a80c0" d="M9.5 4.2h1.5v1.5h-1.5zM6.6 9.2h1.5v1.5h-1.5zM-0.5 3.4h1.5v1.5h-1.5zM12.0 13.8h1.5v1.5h-1.5zM8.9 14.5h1.5v1.5h-1.5zM5.1 1.7h1.5v1.5h-1.5zM0.8 1.2h1.5v1.5h-1.5zM5.3 7.0h1.5v1.5h-1.5zM14.4 0.8h1.5v1.5h-1.5zM6.7 15.0h1.5v1.5h-1.5zM9.2 14.2h1.5v1.5h-1.5zM5.1 7.4h1.5v1.5h-1.5zM5.8 3.1h1.5v1.5h-1.5zM10.9 2.0h1.5v1.5h-1.5zM9.1 3.5h1.5v1.5h-1.5zM9.8 3.5h1.5v1.5h-1.5zM0.9 5.3h1.5v1.5h-1.5zM11.7 14.4h1.5v1.5h-1.5zM9.2 2.1h1.5v1.5h-1.5zM15.2 13.0h1.5v1.5h-1.5zM5.6 2.5h1.5v1.5h-1.5zM14.1 5.4h1.5v1.5h-1.5zM0.3 4.2h1.5v1.5h-1.5zM1.2 4.3h1.5v1.5h-1.5zM7.1 5.3h1.5v1.5h-1.5zM8.8 -0.5h1.5v1.5h-1.5zM4.3 11.8h1.5v1.5h-1.5z"/></pattern><pattern id="pGr" width="12" height="12" patternUnits="userSpaceOnUse"><rect width="12" height="12" fill="#2a7a44"/><path fill="#f080a0" d="M10.1 7.0h1.5v1.5h-1.5zM6.7 2.1h1.5v1.5h-1.5zM3.3 3.1h1.5v1.5h-1.5zM5.2 8.7h1.5v1.5h-1.5zM1.0 3.6h1.5v1.5h-1.5zM9.6 2.2h1.5v1.5h-1.5zM7.3 7.0h1.5v1.5h-1.5zM3.1 8.2h1.5v1.5h-1.5zM9.6 0.6h1.5v1.5h-1.5zM-0.1 1.8h1.5v1.5h-1.5zM10.8 2.0h1.5v1.5h-1.5zM10.3 -0.4h1.5v1.5h-1.5zM0.3 9.6h1.5v1.5h-1.5zM6.2 -0.6h1.5v1.5h-1.5zM2.1 -0.3h1.5v1.5h-1.5zM8.1 8.6h1.5v1.5h-1.5zM3.2 2.5h1.5v1.5h-1.5zM0.4 8.9h1.5v1.5h-1.5z"/><path fill="#2a7a40" d="M2.7 7.0h1.5v1.5h-1.5zM4.1 7.8h1.5v1.5h-1.5zM2.5 5.0h1.5v1.5h-1.5zM0.1 2.7h1.5v1.5h-1.5zM10.9 4.6h1.5v1.5h-1.5zM1.6 10.4h1.5v1.5h-1.5zM3.1 6.2h1.5v1.5h-1.5zM5.2 9.3h1.5v1.5h-1.5zM2.3 4.7h1.5v1.5h-1.5zM2.2 4.5h1.5v1.5h-1.5zM8.7 6.1h1.5v1.5h-1.5zM1.3 7.9h1.5v1.5h-1.5zM2.1 10.4h1.5v1.5h-1.5zM0.7 8.2h1.5v1.5h-1.5zM6.7 0.9h1.5v1.5h-1.5zM6.2 2.6h1.5v1.5h-1.5z"/><path fill="#1e6a3a" d="M5.4 3.0h1.5v1.5h-1.5zM5.0 10.5h1.5v1.5h-1.5zM7.6 0.3h1.5v1.5h-1.5zM1.9 4.7h1.5v1.5h-1.5zM1.6 9.1h1.5v1.5h-1.5zM3.6 9.6h1.5v1.5h-1.5zM3.3 4.1h1.5v1.5h-1.5zM6.8 2.8h1.5v1.5h-1.5zM5.6 11.2h1.5v1.5h-1.5zM2.5 10.1h1.5v1.5h-1.5zM9.4 5.9h1.5v1.5h-1.5zM-0.5 3.0h1.5v1.5h-1.5zM5.5 4.8h1.5v1.5h-1.5zM9.3 6.8h1.5v1.5h-1.5zM2.3 6.3h1.5v1.5h-1.5zM0.2 -0.3h1.5v1.5h-1.5zM5.3 2.0h1.5v1.5h-1.5z"/><path fill="#3a9a4a" d="M-0.1 7.1h1.5v1.5h-1.5zM4.9 6.1h1.5v1.5h-1.5zM4.0 6.9h1.5v1.5h-1.5zM9.6 1.2h1.5v1.5h-1.5zM2.3 7.5h1.5v1.5h-1.5zM3.8 9.7h1.5v1.5h-1.5zM-0.5 1.7h1.5v1.5h-1.5zM11.2 0.5h1.5v1.5h-1.5zM1.1 4.4h1.5v1.5h-1.5zM7.3 7.9h1.5v1.5h-1.5zM1.6 4.2h1.5v1.5h-1.5zM0.6 2.0h1.5v1.5h-1.5z"/><path fill="#1e5a30" d="M5.5 10.6h1.5v1.5h-1.5zM5.0 0.1h1.5v1.5h-1.5zM5.7 9.7h1.5v1.5h-1.5zM3.9 0.9h1.5v1.5h-1.5zM4.8 6.4h1.5v1.5h-1.5zM7.3 6.4h1.5v1.5h-1.5zM10.9 1.6h1.5v1.5h-1.5zM6.0 1.6h1.5v1.5h-1.5zM9.9 6.5h1.5v1.5h-1.5zM5.1 2.2h1.5v1.5h-1.5zM7.2 9.3h1.5v1.5h-1.5zM3.8 6.3h1.5v1.5h-1.5z"/><path fill="#e03050" d="M9.6 6.6h1.5v1.5h-1.5zM10.5 8.4h1.5v1.5h-1.5zM-0.5 6.0h1.5v1.5h-1.5zM2.2 4.9h1.5v1.5h-1.5zM8.5 8.8h1.5v1.5h-1.5zM6.6 -0.5h1.5v1.5h-1.5zM-0.6 5.6h1.5v1.5h-1.5zM8.0 0.2h1.5v1.5h-1.5zM8.1 2.9h1.5v1.5h-1.5zM9.3 -0.3h1.5v1.5h-1.5zM9.3 4.7h1.5v1.5h-1.5zM10.5 5.3h1.5v1.5h-1.5zM4.2 4.7h1.5v1.5h-1.5zM-0.2 7.0h1.5v1.5h-1.5zM9.7 2.3h1.5v1.5h-1.5z"/><path fill="#3a8a4a" d="M11.1 4.8h1.5v1.5h-1.5zM10.4 3.8h1.5v1.5h-1.5zM0.1 -0.3h1.5v1.5h-1.5zM10.9 4.8h1.5v1.5h-1.5zM3.3 -0.1h1.5v1.5h-1.5zM0.0 8.9h1.5v1.5h-1.5zM5.5 1.9h1.5v1.5h-1.5zM-0.5 -0.6h1.5v1.5h-1.5zM-0.4 8.7h1.5v1.5h-1.5zM7.0 3.7h1.5v1.5h-1.5zM1.2 9.1h1.5v1.5h-1.5zM8.3 7.1h1.5v1.5h-1.5zM0.9 -0.6h1.5v1.5h-1.5z"/><path fill="#ffffff" d="M10.9 10.4h1.5v1.5h-1.5zM5.8 0.1h1.5v1.5h-1.5zM7.3 3.3h1.5v1.5h-1.5zM3.0 3.5h1.5v1.5h-1.5zM5.0 1.3h1.5v1.5h-1.5zM3.4 0.3h1.5v1.5h-1.5zM7.1 9.3h1.5v1.5h-1.5z"/></pattern><pattern id="pB1" width="24" height="24" patternUnits="userSpaceOnUse"><rect width="24" height="24" fill="#d83434"/><path fill="#e02830" d="M21.9 20.1h1.7v1.7h-1.7zM4.2 1.3h1.7v1.7h-1.7zM21.5 7.0h1.7v1.7h-1.7zM21.8 21.8h1.7v1.7h-1.7zM3.0 3.8h1.7v1.7h-1.7zM4.9 14.4h1.7v1.7h-1.7zM0.4 5.6h1.7v1.7h-1.7zM21.5 3.8h1.7v1.7h-1.7zM12.9 6.1h1.7v1.7h-1.7zM21.3 3.5h1.7v1.7h-1.7zM6.4 15.0h1.7v1.7h-1.7zM11.7 12.7h1.7v1.7h-1.7zM20.3 14.7h1.7v1.7h-1.7zM2.9 13.0h1.7v1.7h-1.7zM-0.7 10.9h1.7v1.7h-1.7zM11.1 21.6h1.7v1.7h-1.7zM7.7 11.9h1.7v1.7h-1.7zM21.6 16.6h1.7v1.7h-1.7zM16.9 17.1h1.7v1.7h-1.7zM11.1 17.8h1.7v1.7h-1.7zM4.7 11.4h1.7v1.7h-1.7zM10.6 5.5h1.7v1.7h-1.7zM4.0 10.8h1.7v1.7h-1.7zM19.7 20.1h1.7v1.7h-1.7zM0.2 14.2h1.7v1.7h-1.7zM6.8 17.7h1.7v1.7h-1.7zM0.6 1.0h1.7v1.7h-1.7zM10.2 4.1h1.7v1.7h-1.7zM9.7 1.1h1.7v1.7h-1.7zM15.9 16.3h1.7v1.7h-1.7zM5.3 17.6h1.7v1.7h-1.7zM18.2 7.0h1.7v1.7h-1.7zM18.4 16.8h1.7v1.7h-1.7zM2.2 23.0h1.7v1.7h-1.7zM18.6 12.1h1.7v1.7h-1.7zM3.4 0.9h1.7v1.7h-1.7zM-0.6 17.1h1.7v1.7h-1.7zM-0.2 20.5h1.7v1.7h-1.7zM-0.2 5.2h1.7v1.7h-1.7zM6.1 9.6h1.7v1.7h-1.7zM22.2 17.8h1.7v1.7h-1.7zM12.6 7.7h1.7v1.7h-1.7zM12.9 19.2h1.7v1.7h-1.7zM21.6 14.3h1.7v1.7h-1.7zM16.6 10.9h1.7v1.7h-1.7zM19.5 -0.4h1.7v1.7h-1.7zM13.2 14.6h1.7v1.7h-1.7zM11.5 16.5h1.7v1.7h-1.7zM3.1 7.8h1.7v1.7h-1.7zM14.0 15.8h1.7v1.7h-1.7zM2.0 5.0h1.7v1.7h-1.7zM22.0 3.8h1.7v1.7h-1.7zM20.5 12.3h1.7v1.7h-1.7zM13.5 19.0h1.7v1.7h-1.7zM6.4 21.6h1.7v1.7h-1.7zM16.5 16.8h1.7v1.7h-1.7zM3.0 22.2h1.7v1.7h-1.7zM17.7 20.4h1.7v1.7h-1.7zM22.5 2.8h1.7v1.7h-1.7zM-0.3 6.6h1.7v1.7h-1.7zM17.4 8.1h1.7v1.7h-1.7zM2.1 19.9h1.7v1.7h-1.7zM9.5 14.4h1.7v1.7h-1.7zM19.1 3.0h1.7v1.7h-1.7zM19.9 20.5h1.7v1.7h-1.7z"/><path fill="#f04050" d="M15.3 12.0h1.7v1.7h-1.7zM6.6 15.9h1.7v1.7h-1.7zM8.9 22.7h1.7v1.7h-1.7zM22.8 20.6h1.7v1.7h-1.7zM7.0 21.2h1.7v1.7h-1.7zM7.8 3.1h1.7v1.7h-1.7zM18.7 8.0h1.7v1.7h-1.7zM14.2 21.3h1.7v1.7h-1.7zM10.5 7.8h1.7v1.7h-1.7zM12.4 11.9h1.7v1.7h-1.7zM19.0 1.3h1.7v1.7h-1.7zM13.3 3.2h1.7v1.7h-1.7zM13.8 22.7h1.7v1.7h-1.7zM10.5 11.7h1.7v1.7h-1.7zM23.1 19.7h1.7v1.7h-1.7zM6.5 18.7h1.7v1.7h-1.7zM8.9 18.7h1.7v1.7h-1.7zM13.4 12.7h1.7v1.7h-1.7zM15.3 23.0h1.7v1.7h-1.7zM14.3 7.6h1.7v1.7h-1.7zM5.2 9.0h1.7v1.7h-1.7zM9.7 14.4h1.7v1.7h-1.7zM17.0 3.7h1.7v1.7h-1.7zM7.8 8.1h1.7v1.7h-1.7zM4.7 4.1h1.7v1.7h-1.7zM4.0 16.3h1.7v1.7h-1.7z"/><path fill="#e7298a" d="M20.4 9.4h1.7v1.7h-1.7zM14.4 -0.3h1.7v1.7h-1.7zM5.5 17.5h1.7v1.7h-1.7zM20.1 12.3h1.7v1.7h-1.7zM1.4 1.9h1.7v1.7h-1.7zM21.5 3.8h1.7v1.7h-1.7zM4.6 21.5h1.7v1.7h-1.7zM14.4 20.0h1.7v1.7h-1.7zM4.0 13.6h1.7v1.7h-1.7zM3.7 18.8h1.7v1.7h-1.7zM5.8 7.6h1.7v1.7h-1.7zM10.1 16.2h1.7v1.7h-1.7zM2.5 6.0h1.7v1.7h-1.7zM2.7 13.6h1.7v1.7h-1.7zM14.7 22.4h1.7v1.7h-1.7zM9.6 16.4h1.7v1.7h-1.7zM14.0 9.8h1.7v1.7h-1.7zM8.4 4.4h1.7v1.7h-1.7zM17.9 16.3h1.7v1.7h-1.7zM20.4 1.3h1.7v1.7h-1.7zM20.4 9.5h1.7v1.7h-1.7zM15.9 5.1h1.7v1.7h-1.7zM9.4 18.8h1.7v1.7h-1.7zM10.5 16.2h1.7v1.7h-1.7zM20.4 13.5h1.7v1.7h-1.7zM6.0 12.6h1.7v1.7h-1.7zM5.9 1.9h1.7v1.7h-1.7zM15.1 6.5h1.7v1.7h-1.7zM19.8 4.3h1.7v1.7h-1.7zM3.7 0.6h1.7v1.7h-1.7zM8.5 17.0h1.7v1.7h-1.7zM14.5 16.5h1.7v1.7h-1.7zM15.1 13.4h1.7v1.7h-1.7zM17.1 1.2h1.7v1.7h-1.7zM10.1 15.0h1.7v1.7h-1.7zM2.4 22.1h1.7v1.7h-1.7zM17.4 18.8h1.7v1.7h-1.7zM9.4 23.1h1.7v1.7h-1.7zM10.4 0.8h1.7v1.7h-1.7z"/><path fill="#ffffff" d="M14.5 11.2h1.7v1.7h-1.7zM18.3 16.2h1.7v1.7h-1.7zM20.4 22.0h1.7v1.7h-1.7zM12.0 16.8h1.7v1.7h-1.7zM0.2 15.0h1.7v1.7h-1.7zM15.5 7.2h1.7v1.7h-1.7zM19.5 20.6h1.7v1.7h-1.7zM0.3 13.1h1.7v1.7h-1.7zM19.0 21.3h1.7v1.7h-1.7zM4.9 17.6h1.7v1.7h-1.7zM8.2 22.2h1.7v1.7h-1.7zM15.7 6.3h1.7v1.7h-1.7zM11.5 20.7h1.7v1.7h-1.7zM9.6 -0.6h1.7v1.7h-1.7zM11.3 6.8h1.7v1.7h-1.7zM1.4 -0.8h1.7v1.7h-1.7zM17.8 2.2h1.7v1.7h-1.7zM7.0 6.4h1.7v1.7h-1.7zM11.2 19.3h1.7v1.7h-1.7zM16.2 11.4h1.7v1.7h-1.7zM17.0 17.3h1.7v1.7h-1.7zM0.0 20.4h1.7v1.7h-1.7zM4.7 21.2h1.7v1.7h-1.7zM0.3 18.2h1.7v1.7h-1.7zM12.4 14.1h1.7v1.7h-1.7zM21.1 7.2h1.7v1.7h-1.7zM6.6 7.9h1.7v1.7h-1.7zM15.0 8.6h1.7v1.7h-1.7z"/><path fill="#f08a30" d="M21.1 3.8h1.7v1.7h-1.7zM9.1 19.8h1.7v1.7h-1.7zM4.6 3.2h1.7v1.7h-1.7zM6.4 17.7h1.7v1.7h-1.7zM12.2 12.0h1.7v1.7h-1.7zM22.9 12.7h1.7v1.7h-1.7zM0.2 14.1h1.7v1.7h-1.7zM18.5 9.4h1.7v1.7h-1.7zM17.5 2.4h1.7v1.7h-1.7zM3.2 17.5h1.7v1.7h-1.7zM11.7 0.4h1.7v1.7h-1.7zM18.5 6.9h1.7v1.7h-1.7zM6.4 20.9h1.7v1.7h-1.7zM18.7 12.8h1.7v1.7h-1.7zM10.2 19.4h1.7v1.7h-1.7zM10.8 18.8h1.7v1.7h-1.7zM2.0 9.7h1.7v1.7h-1.7zM18.3 18.9h1.7v1.7h-1.7zM2.7 2.2h1.7v1.7h-1.7zM12.3 1.1h1.7v1.7h-1.7zM8.4 17.2h1.7v1.7h-1.7zM22.4 -0.6h1.7v1.7h-1.7z"/><path fill="#8a3a8a" d="M18.6 21.3h1.7v1.7h-1.7zM18.2 18.8h1.7v1.7h-1.7zM6.7 8.4h1.7v1.7h-1.7zM-0.8 19.2h1.7v1.7h-1.7zM14.9 8.4h1.7v1.7h-1.7zM9.1 12.0h1.7v1.7h-1.7zM9.8 0.5h1.7v1.7h-1.7zM16.8 12.4h1.7v1.7h-1.7zM3.0 8.0h1.7v1.7h-1.7zM20.2 11.3h1.7v1.7h-1.7zM15.6 3.9h1.7v1.7h-1.7zM6.7 15.2h1.7v1.7h-1.7zM3.9 -0.5h1.7v1.7h-1.7zM16.8 19.3h1.7v1.7h-1.7zM20.9 0.2h1.7v1.7h-1.7zM15.1 11.5h1.7v1.7h-1.7zM4.6 4.3h1.7v1.7h-1.7zM20.8 -0.1h1.7v1.7h-1.7zM11.9 7.9h1.7v1.7h-1.7zM17.2 16.2h1.7v1.7h-1.7zM9.5 12.6h1.7v1.7h-1.7zM11.6 7.3h1.7v1.7h-1.7zM5.0 -0.5h1.7v1.7h-1.7zM15.9 12.1h1.7v1.7h-1.7zM6.1 20.2h1.7v1.7h-1.7zM7.0 17.0h1.7v1.7h-1.7zM10.3 10.5h1.7v1.7h-1.7zM18.5 22.7h1.7v1.7h-1.7zM1.3 1.4h1.7v1.7h-1.7zM21.0 20.8h1.7v1.7h-1.7zM18.1 20.1h1.7v1.7h-1.7zM18.3 14.6h1.7v1.7h-1.7zM1.2 18.7h1.7v1.7h-1.7z"/><path fill="#1f78b4" d="M9.6 14.9h1.7v1.7h-1.7zM1.5 9.0h1.7v1.7h-1.7zM16.4 9.4h1.7v1.7h-1.7zM15.6 8.2h1.7v1.7h-1.7zM2.5 22.6h1.7v1.7h-1.7zM10.3 6.3h1.7v1.7h-1.7zM13.4 4.9h1.7v1.7h-1.7zM20.0 7.6h1.7v1.7h-1.7zM20.7 4.0h1.7v1.7h-1.7zM1.0 12.8h1.7v1.7h-1.7zM20.7 19.1h1.7v1.7h-1.7zM11.6 12.9h1.7v1.7h-1.7zM20.5 11.7h1.7v1.7h-1.7zM14.8 10.3h1.7v1.7h-1.7zM3.7 9.2h1.7v1.7h-1.7zM14.4 17.4h1.7v1.7h-1.7zM13.1 4.6h1.7v1.7h-1.7zM14.2 -0.8h1.7v1.7h-1.7zM6.6 10.9h1.7v1.7h-1.7zM10.4 2.8h1.7v1.7h-1.7zM1.1 0.9h1.7v1.7h-1.7zM14.5 13.8h1.7v1.7h-1.7zM15.8 19.5h1.7v1.7h-1.7zM-0.3 0.3h1.7v1.7h-1.7zM7.2 12.8h1.7v1.7h-1.7zM0.8 17.0h1.7v1.7h-1.7zM20.0 17.2h1.7v1.7h-1.7zM8.0 8.2h1.7v1.7h-1.7zM22.4 2.9h1.7v1.7h-1.7zM17.2 -0.3h1.7v1.7h-1.7z"/><path fill="#6ab04a" d="M8.2 21.4h1.7v1.7h-1.7zM2.1 2.9h1.7v1.7h-1.7zM19.0 14.3h1.7v1.7h-1.7zM5.1 18.0h1.7v1.7h-1.7zM-0.2 22.7h1.7v1.7h-1.7zM20.8 2.6h1.7v1.7h-1.7zM16.8 12.8h1.7v1.7h-1.7zM16.4 15.5h1.7v1.7h-1.7zM0.5 18.8h1.7v1.7h-1.7zM22.1 -0.1h1.7v1.7h-1.7zM10.0 2.8h1.7v1.7h-1.7zM4.3 10.1h1.7v1.7h-1.7zM13.5 13.5h1.7v1.7h-1.7zM17.6 19.6h1.7v1.7h-1.7zM5.9 20.1h1.7v1.7h-1.7zM14.1 21.5h1.7v1.7h-1.7zM15.7 3.6h1.7v1.7h-1.7zM4.5 -0.4h1.7v1.7h-1.7zM11.0 1.2h1.7v1.7h-1.7zM4.6 15.8h1.7v1.7h-1.7zM13.7 7.0h1.7v1.7h-1.7zM12.0 8.1h1.7v1.7h-1.7zM17.1 18.3h1.7v1.7h-1.7zM3.5 15.7h1.7v1.7h-1.7zM2.8 7.2h1.7v1.7h-1.7zM15.2 11.4h1.7v1.7h-1.7zM19.5 19.5h1.7v1.7h-1.7zM17.8 0.9h1.7v1.7h-1.7zM20.7 21.1h1.7v1.7h-1.7z"/><path fill="#c82030" d="M9.9 17.8h1.7v1.7h-1.7zM8.0 1.2h1.7v1.7h-1.7zM14.5 7.9h1.7v1.7h-1.7zM18.5 5.8h1.7v1.7h-1.7zM8.0 18.1h1.7v1.7h-1.7zM14.5 -0.5h1.7v1.7h-1.7zM10.4 14.0h1.7v1.7h-1.7zM10.7 1.4h1.7v1.7h-1.7zM14.7 21.9h1.7v1.7h-1.7zM21.3 19.2h1.7v1.7h-1.7zM-0.7 15.0h1.7v1.7h-1.7zM-0.6 17.2h1.7v1.7h-1.7zM21.3 12.9h1.7v1.7h-1.7zM17.1 16.7h1.7v1.7h-1.7zM13.7 10.7h1.7v1.7h-1.7zM9.3 8.3h1.7v1.7h-1.7zM4.8 4.0h1.7v1.7h-1.7zM13.7 8.1h1.7v1.7h-1.7zM5.7 12.0h1.7v1.7h-1.7zM19.9 11.2h1.7v1.7h-1.7zM8.3 9.0h1.7v1.7h-1.7zM6.1 20.2h1.7v1.7h-1.7zM22.9 7.1h1.7v1.7h-1.7zM15.6 19.4h1.7v1.7h-1.7zM16.6 21.1h1.7v1.7h-1.7zM4.3 17.5h1.7v1.7h-1.7zM22.4 19.9h1.7v1.7h-1.7zM0.5 8.2h1.7v1.7h-1.7zM19.3 -0.8h1.7v1.7h-1.7zM15.3 7.4h1.7v1.7h-1.7z"/><path fill="#d01f2a" d="M22.9 9.2h1.7v1.7h-1.7zM1.0 2.3h1.7v1.7h-1.7zM18.6 1.0h1.7v1.7h-1.7zM23.0 1.4h1.7v1.7h-1.7zM8.0 13.0h1.7v1.7h-1.7zM5.9 4.2h1.7v1.7h-1.7zM2.2 20.7h1.7v1.7h-1.7zM22.0 9.2h1.7v1.7h-1.7zM17.9 9.5h1.7v1.7h-1.7zM0.4 16.2h1.7v1.7h-1.7zM21.0 -0.5h1.7v1.7h-1.7zM22.1 7.6h1.7v1.7h-1.7zM21.6 8.0h1.7v1.7h-1.7zM22.4 21.2h1.7v1.7h-1.7zM10.6 3.1h1.7v1.7h-1.7zM8.9 20.0h1.7v1.7h-1.7zM15.8 21.2h1.7v1.7h-1.7zM4.3 17.6h1.7v1.7h-1.7zM19.6 8.2h1.7v1.7h-1.7zM3.5 14.3h1.7v1.7h-1.7zM13.7 21.9h1.7v1.7h-1.7zM12.4 18.5h1.7v1.7h-1.7zM4.9 9.9h1.7v1.7h-1.7zM15.2 8.9h1.7v1.7h-1.7zM8.5 13.2h1.7v1.7h-1.7zM10.5 12.4h1.7v1.7h-1.7zM4.5 -0.1h1.7v1.7h-1.7zM13.5 10.0h1.7v1.7h-1.7zM15.4 11.6h1.7v1.7h-1.7z"/><path fill="#f5d050" d="M0.8 7.8h1.7v1.7h-1.7zM11.6 16.5h1.7v1.7h-1.7zM11.1 16.0h1.7v1.7h-1.7zM4.1 18.4h1.7v1.7h-1.7zM11.5 9.1h1.7v1.7h-1.7zM6.0 1.1h1.7v1.7h-1.7zM8.2 14.7h1.7v1.7h-1.7zM10.6 11.4h1.7v1.7h-1.7zM20.2 4.3h1.7v1.7h-1.7zM13.1 21.3h1.7v1.7h-1.7zM9.4 12.3h1.7v1.7h-1.7zM21.8 13.5h1.7v1.7h-1.7zM2.7 3.9h1.7v1.7h-1.7zM6.3 21.3h1.7v1.7h-1.7zM17.7 0.4h1.7v1.7h-1.7z"/><path fill="#b2df8a" d="M-0.5 19.3h1.7v1.7h-1.7zM8.1 7.8h1.7v1.7h-1.7zM21.5 17.4h1.7v1.7h-1.7zM12.7 14.0h1.7v1.7h-1.7zM21.1 13.5h1.7v1.7h-1.7zM5.8 5.7h1.7v1.7h-1.7zM21.6 11.1h1.7v1.7h-1.7zM18.7 22.0h1.7v1.7h-1.7zM22.7 2.2h1.7v1.7h-1.7zM0.0 6.8h1.7v1.7h-1.7zM7.8 -0.2h1.7v1.7h-1.7zM20.4 9.4h1.7v1.7h-1.7zM8.8 13.8h1.7v1.7h-1.7zM10.7 1.2h1.7v1.7h-1.7zM15.0 18.5h1.7v1.7h-1.7zM13.2 10.6h1.7v1.7h-1.7zM22.2 0.3h1.7v1.7h-1.7zM2.0 -0.6h1.7v1.7h-1.7zM22.4 14.4h1.7v1.7h-1.7zM4.6 14.3h1.7v1.7h-1.7zM6.1 11.8h1.7v1.7h-1.7zM15.8 14.9h1.7v1.7h-1.7z"/><path fill="#4a9a3a" d="M6.2 15.1h1.7v1.7h-1.7zM20.7 4.3h1.7v1.7h-1.7zM1.5 14.2h1.7v1.7h-1.7zM0.6 11.7h1.7v1.7h-1.7zM7.9 4.2h1.7v1.7h-1.7zM14.8 5.2h1.7v1.7h-1.7zM3.1 -0.7h1.7v1.7h-1.7zM16.9 15.2h1.7v1.7h-1.7zM17.0 3.5h1.7v1.7h-1.7zM4.2 0.9h1.7v1.7h-1.7zM19.2 5.2h1.7v1.7h-1.7zM21.0 3.1h1.7v1.7h-1.7zM0.8 22.9h1.7v1.7h-1.7zM4.3 1.3h1.7v1.7h-1.7zM6.0 1.1h1.7v1.7h-1.7zM5.4 1.4h1.7v1.7h-1.7zM3.8 12.5h1.7v1.7h-1.7zM2.8 3.5h1.7v1.7h-1.7zM19.9 15.7h1.7v1.7h-1.7zM4.7 14.8h1.7v1.7h-1.7zM9.6 19.5h1.7v1.7h-1.7zM6.9 22.2h1.7v1.7h-1.7zM18.6 20.5h1.7v1.7h-1.7zM12.7 14.4h1.7v1.7h-1.7zM22.4 12.1h1.7v1.7h-1.7zM2.2 7.9h1.7v1.7h-1.7zM2.3 2.9h1.7v1.7h-1.7zM19.3 13.0h1.7v1.7h-1.7z"/><path fill="#f4a0a0" d="M13.8 21.3h1.7v1.7h-1.7zM19.1 17.4h1.7v1.7h-1.7zM0.7 16.0h1.7v1.7h-1.7zM10.9 7.8h1.7v1.7h-1.7zM10.1 16.1h1.7v1.7h-1.7zM22.5 -0.8h1.7v1.7h-1.7zM10.2 4.4h1.7v1.7h-1.7zM18.8 21.2h1.7v1.7h-1.7zM7.5 15.7h1.7v1.7h-1.7zM2.5 13.5h1.7v1.7h-1.7zM14.3 4.9h1.7v1.7h-1.7zM1.9 7.5h1.7v1.7h-1.7zM22.0 7.9h1.7v1.7h-1.7zM3.4 21.1h1.7v1.7h-1.7zM-0.5 6.5h1.7v1.7h-1.7zM22.7 16.0h1.7v1.7h-1.7zM10.6 4.6h1.7v1.7h-1.7zM11.9 17.4h1.7v1.7h-1.7zM19.1 13.6h1.7v1.7h-1.7zM-0.4 5.3h1.7v1.7h-1.7zM0.7 3.1h1.7v1.7h-1.7zM5.2 -0.8h1.7v1.7h-1.7zM11.9 2.4h1.7v1.7h-1.7zM10.7 22.2h1.7v1.7h-1.7z"/></pattern></defs>
<rect width="520" height="538" fill="#fff"/>
<text x="7" y="16" font-size="10" text-anchor="start" fill="#111" font-weight="bold">A</text>
<text x="268" y="16" font-size="10" text-anchor="start" fill="#111" font-weight="bold">B</text>
<text x="7.5" y="201" font-size="10" text-anchor="start" fill="#111" font-weight="bold">C</text>
<text x="161" y="201" font-size="10" text-anchor="start" fill="#111" font-weight="bold">D</text>
<text x="308" y="201" font-size="10" text-anchor="start" fill="#111" font-weight="bold">E</text>
<text x="7" y="388" font-size="10" text-anchor="start" fill="#111" font-weight="bold">F</text>
<text x="279.5" y="386.5" font-size="10" text-anchor="start" fill="#111" font-weight="bold">G</text>
<text x="125.7" y="28.8" font-size="8.2" text-anchor="middle" fill="#222">Flow Cytometry</text>
<path fill="#f5c518" d="M68.1 37.0h1.5v1.5h-1.5zM73.0 36.4h1.5v1.5h-1.5zM71.3 38.9h1.5v1.5h-1.5zM64.1 40.1h1.5v1.5h-1.5zM63.8 39.4h1.5v1.5h-1.5zM69.6 42.8h1.5v1.5h-1.5zM65.1 37.6h1.5v1.5h-1.5zM72.7 43.8h1.5v1.5h-1.5zM71.9 39.1h1.5v1.5h-1.5zM76.1 38.2h1.5v1.5h-1.5zM67.9 42.7h1.5v1.5h-1.5zM66.0 40.7h1.5v1.5h-1.5zM72.8 38.9h1.5v1.5h-1.5zM71.5 36.3h1.5v1.5h-1.5zM64.1 37.5h1.5v1.5h-1.5zM73.5 39.4h1.5v1.5h-1.5zM68.0 40.7h1.5v1.5h-1.5zM70.0 38.3h1.5v1.5h-1.5zM75.2 41.7h1.5v1.5h-1.5zM66.9 40.6h1.5v1.5h-1.5zM71.1 43.2h1.5v1.5h-1.5zM74.2 38.2h1.5v1.5h-1.5zM69.5 42.2h1.5v1.5h-1.5zM65.5 39.9h1.5v1.5h-1.5zM74.7 40.6h1.5v1.5h-1.5zM76.4 38.4h1.5v1.5h-1.5zM73.7 40.8h1.5v1.5h-1.5zM71.9 39.6h1.5v1.5h-1.5zM70.4 41.4h1.5v1.5h-1.5zM64.2 41.7h1.5v1.5h-1.5zM75.6 38.2h1.5v1.5h-1.5zM69.0 41.4h1.5v1.5h-1.5zM64.1 42.3h1.5v1.5h-1.5zM65.2 37.9h1.5v1.5h-1.5zM69.1 43.2h1.5v1.5h-1.5zM64.5 39.6h1.5v1.5h-1.5zM71.5 43.3h1.5v1.5h-1.5zM67.4 39.3h1.5v1.5h-1.5zM68.6 43.3h1.5v1.5h-1.5zM65.9 37.7h1.5v1.5h-1.5zM66.8 39.9h1.5v1.5h-1.5zM72.1 38.0h1.5v1.5h-1.5zM68.8 40.6h1.5v1.5h-1.5zM77.5 41.6h1.5v1.5h-1.5zM71.0 41.0h1.5v1.5h-1.5zM76.7 42.4h1.5v1.5h-1.5zM76.4 42.5h1.5v1.5h-1.5zM69.1 39.1h1.5v1.5h-1.5zM64.8 41.1h1.5v1.5h-1.5zM66.4 37.1h1.5v1.5h-1.5zM64.8 38.8h1.5v1.5h-1.5zM72.5 37.0h1.5v1.5h-1.5zM67.0 38.7h1.5v1.5h-1.5zM68.7 36.8h1.5v1.5h-1.5zM70.2 39.9h1.5v1.5h-1.5zM68.4 38.0h1.5v1.5h-1.5zM75.7 37.1h1.5v1.5h-1.5zM71.2 37.0h1.5v1.5h-1.5zM71.4 36.0h1.5v1.5h-1.5zM71.2 44.1h1.5v1.5h-1.5zM76.2 41.7h1.5v1.5h-1.5zM67.2 38.9h1.5v1.5h-1.5zM65.8 42.3h1.5v1.5h-1.5zM71.2 42.4h1.5v1.5h-1.5zM68.2 37.6h1.5v1.5h-1.5zM76.0 42.6h1.5v1.5h-1.5zM75.5 42.0h1.5v1.5h-1.5zM66.7 40.1h1.5v1.5h-1.5zM63.7 38.1h1.5v1.5h-1.5zM67.1 41.6h1.5v1.5h-1.5z"/>
<path fill="#f5c518" d="M81.8 41.1h1.4v1.4h-1.4zM81.4 40.9h1.4v1.4h-1.4zM88.3 46.5h1.4v1.4h-1.4zM88.7 45.7h1.4v1.4h-1.4zM92.9 45.6h1.4v1.4h-1.4zM83.6 45.7h1.4v1.4h-1.4zM84.7 46.9h1.4v1.4h-1.4zM80.3 40.5h1.4v1.4h-1.4zM92.8 45.8h1.4v1.4h-1.4zM83.9 43.7h1.4v1.4h-1.4zM86.7 46.8h1.4v1.4h-1.4zM85.2 46.3h1.4v1.4h-1.4zM82.3 41.6h1.4v1.4h-1.4zM82.1 44.0h1.4v1.4h-1.4zM82.4 42.7h1.4v1.4h-1.4zM84.0 43.0h1.4v1.4h-1.4zM87.6 46.5h1.4v1.4h-1.4zM85.0 46.6h1.4v1.4h-1.4zM86.3 43.6h1.4v1.4h-1.4zM81.1 43.1h1.4v1.4h-1.4zM89.9 43.8h1.4v1.4h-1.4zM83.5 43.4h1.4v1.4h-1.4zM87.2 45.6h1.4v1.4h-1.4zM80.0 43.8h1.4v1.4h-1.4zM82.3 41.5h1.4v1.4h-1.4z"/>
<path fill="#f5c518" d="M106.2 70.6h1.6v1.6h-1.6zM94.2 84.2h1.6v1.6h-1.6zM97.1 70.5h1.6v1.6h-1.6zM91.4 80.6h1.6v1.6h-1.6zM88.0 72.0h1.6v1.6h-1.6zM89.4 94.0h1.6v1.6h-1.6zM102.1 90.5h1.6v1.6h-1.6zM94.1 94.1h1.6v1.6h-1.6zM69.1 67.1h1.6v1.6h-1.6zM66.3 56.2h1.6v1.6h-1.6zM66.4 79.4h1.6v1.6h-1.6zM106.9 91.6h1.6v1.6h-1.6zM71.0 81.9h1.6v1.6h-1.6zM99.8 50.9h1.6v1.6h-1.6zM74.7 94.6h1.6v1.6h-1.6zM84.9 69.5h1.6v1.6h-1.6zM71.4 66.5h1.6v1.6h-1.6zM91.6 61.5h1.6v1.6h-1.6zM73.4 60.4h1.6v1.6h-1.6zM93.8 67.0h1.6v1.6h-1.6zM63.2 61.1h1.6v1.6h-1.6zM97.8 70.9h1.6v1.6h-1.6zM68.2 57.5h1.6v1.6h-1.6zM64.5 85.3h1.6v1.6h-1.6zM77.6 50.2h1.6v1.6h-1.6zM86.3 92.4h1.6v1.6h-1.6zM70.7 92.8h1.6v1.6h-1.6zM94.7 81.0h1.6v1.6h-1.6zM67.3 46.3h1.6v1.6h-1.6zM101.4 66.2h1.6v1.6h-1.6zM66.3 93.9h1.6v1.6h-1.6zM98.4 86.5h1.6v1.6h-1.6zM67.0 89.4h1.6v1.6h-1.6zM66.0 89.8h1.6v1.6h-1.6zM88.1 61.5h1.6v1.6h-1.6zM93.7 93.2h1.6v1.6h-1.6zM77.5 50.2h1.6v1.6h-1.6zM92.2 56.1h1.6v1.6h-1.6zM68.4 51.9h1.6v1.6h-1.6zM65.1 54.1h1.6v1.6h-1.6zM80.0 59.7h1.6v1.6h-1.6zM105.5 58.9h1.6v1.6h-1.6zM90.7 52.8h1.6v1.6h-1.6zM76.5 44.0h1.6v1.6h-1.6zM104.0 73.0h1.6v1.6h-1.6zM73.0 68.8h1.6v1.6h-1.6zM90.4 88.3h1.6v1.6h-1.6zM84.6 70.6h1.6v1.6h-1.6zM101.4 96.3h1.6v1.6h-1.6zM81.7 88.1h1.6v1.6h-1.6zM102.5 77.5h1.6v1.6h-1.6zM85.3 62.0h1.6v1.6h-1.6zM65.3 50.2h1.6v1.6h-1.6zM66.2 83.2h1.6v1.6h-1.6zM76.8 52.0h1.6v1.6h-1.6zM67.0 88.6h1.6v1.6h-1.6zM111.8 79.4h1.6v1.6h-1.6zM78.3 56.3h1.6v1.6h-1.6zM78.9 68.0h1.6v1.6h-1.6zM71.2 67.3h1.6v1.6h-1.6zM77.2 95.1h1.6v1.6h-1.6zM76.1 95.3h1.6v1.6h-1.6zM79.8 62.5h1.6v1.6h-1.6zM89.3 70.3h1.6v1.6h-1.6zM73.7 70.5h1.6v1.6h-1.6zM67.3 64.8h1.6v1.6h-1.6zM79.5 55.8h1.6v1.6h-1.6zM95.6 71.8h1.6v1.6h-1.6zM105.0 78.7h1.6v1.6h-1.6zM103.0 90.7h1.6v1.6h-1.6zM84.4 60.8h1.6v1.6h-1.6zM103.5 77.9h1.6v1.6h-1.6zM64.7 88.3h1.6v1.6h-1.6zM113.0 77.1h1.6v1.6h-1.6zM104.0 87.1h1.6v1.6h-1.6zM70.1 71.5h1.6v1.6h-1.6zM90.9 88.3h1.6v1.6h-1.6zM108.1 87.8h1.6v1.6h-1.6zM95.5 91.4h1.6v1.6h-1.6zM101.1 80.6h1.6v1.6h-1.6zM75.3 44.9h1.6v1.6h-1.6zM69.8 62.7h1.6v1.6h-1.6zM68.2 88.3h1.6v1.6h-1.6zM94.0 77.1h1.6v1.6h-1.6zM97.9 80.0h1.6v1.6h-1.6zM107.7 83.6h1.6v1.6h-1.6zM90.9 72.1h1.6v1.6h-1.6zM104.2 56.8h1.6v1.6h-1.6zM66.4 57.5h1.6v1.6h-1.6zM103.8 54.3h1.6v1.6h-1.6zM90.4 63.9h1.6v1.6h-1.6zM89.5 80.1h1.6v1.6h-1.6zM105.9 76.5h1.6v1.6h-1.6zM70.6 56.9h1.6v1.6h-1.6zM104.6 59.6h1.6v1.6h-1.6zM65.7 57.7h1.6v1.6h-1.6zM100.5 80.6h1.6v1.6h-1.6zM100.7 58.9h1.6v1.6h-1.6zM91.6 68.3h1.6v1.6h-1.6zM88.8 49.6h1.6v1.6h-1.6zM63.2 68.0h1.6v1.6h-1.6zM87.8 57.7h1.6v1.6h-1.6zM74.2 94.3h1.6v1.6h-1.6zM74.2 74.6h1.6v1.6h-1.6zM70.3 71.5h1.6v1.6h-1.6zM112.8 81.2h1.6v1.6h-1.6zM75.4 91.7h1.6v1.6h-1.6zM62.4 69.8h1.6v1.6h-1.6zM87.9 59.5h1.6v1.6h-1.6zM70.2 61.8h1.6v1.6h-1.6zM80.2 88.6h1.6v1.6h-1.6zM62.3 83.7h1.6v1.6h-1.6zM115.0 81.7h1.6v1.6h-1.6zM83.4 64.4h1.6v1.6h-1.6zM82.8 66.3h1.6v1.6h-1.6zM77.9 45.8h1.6v1.6h-1.6zM68.0 88.3h1.6v1.6h-1.6zM78.5 93.7h1.6v1.6h-1.6zM76.4 57.5h1.6v1.6h-1.6zM91.3 53.5h1.6v1.6h-1.6zM83.5 94.8h1.6v1.6h-1.6zM112.6 87.0h1.6v1.6h-1.6zM98.2 92.5h1.6v1.6h-1.6zM103.9 67.5h1.6v1.6h-1.6zM105.1 78.0h1.6v1.6h-1.6zM78.5 45.8h1.6v1.6h-1.6zM89.1 61.8h1.6v1.6h-1.6zM79.2 83.1h1.6v1.6h-1.6zM99.6 59.4h1.6v1.6h-1.6zM94.0 64.5h1.6v1.6h-1.6zM71.7 51.9h1.6v1.6h-1.6zM74.0 92.1h1.6v1.6h-1.6zM90.5 55.1h1.6v1.6h-1.6zM87.8 50.7h1.6v1.6h-1.6zM73.2 48.1h1.6v1.6h-1.6zM81.7 48.1h1.6v1.6h-1.6zM75.8 57.2h1.6v1.6h-1.6zM94.7 91.1h1.6v1.6h-1.6zM104.9 65.5h1.6v1.6h-1.6zM85.8 71.5h1.6v1.6h-1.6zM83.7 61.5h1.6v1.6h-1.6zM65.7 58.2h1.6v1.6h-1.6zM90.9 77.2h1.6v1.6h-1.6zM77.6 56.6h1.6v1.6h-1.6zM85.0 67.3h1.6v1.6h-1.6zM116.6 89.0h1.6v1.6h-1.6zM64.0 81.5h1.6v1.6h-1.6zM84.5 93.2h1.6v1.6h-1.6zM109.3 89.4h1.6v1.6h-1.6zM68.4 51.5h1.6v1.6h-1.6zM92.0 80.0h1.6v1.6h-1.6zM115.9 82.2h1.6v1.6h-1.6zM99.1 84.5h1.6v1.6h-1.6zM88.3 73.0h1.6v1.6h-1.6zM64.5 85.4h1.6v1.6h-1.6zM75.5 92.9h1.6v1.6h-1.6zM99.0 59.6h1.6v1.6h-1.6zM69.5 56.8h1.6v1.6h-1.6zM98.5 80.9h1.6v1.6h-1.6zM68.6 47.0h1.6v1.6h-1.6zM92.1 74.7h1.6v1.6h-1.6zM84.3 55.3h1.6v1.6h-1.6zM79.4 68.1h1.6v1.6h-1.6zM75.6 56.5h1.6v1.6h-1.6zM117.0 81.3h1.6v1.6h-1.6zM79.7 44.4h1.6v1.6h-1.6zM90.6 79.6h1.6v1.6h-1.6zM86.1 57.1h1.6v1.6h-1.6zM100.2 93.2h1.6v1.6h-1.6zM75.1 45.0h1.6v1.6h-1.6zM81.5 65.9h1.6v1.6h-1.6zM101.1 53.9h1.6v1.6h-1.6zM107.6 83.1h1.6v1.6h-1.6zM91.0 54.3h1.6v1.6h-1.6zM74.8 84.3h1.6v1.6h-1.6zM79.0 94.6h1.6v1.6h-1.6zM90.5 53.3h1.6v1.6h-1.6zM74.9 65.7h1.6v1.6h-1.6zM100.1 94.4h1.6v1.6h-1.6zM70.5 64.4h1.6v1.6h-1.6zM74.3 95.8h1.6v1.6h-1.6zM70.3 46.0h1.6v1.6h-1.6zM65.6 64.4h1.6v1.6h-1.6zM113.4 90.9h1.6v1.6h-1.6zM72.8 93.7h1.6v1.6h-1.6zM100.1 63.6h1.6v1.6h-1.6zM83.5 61.1h1.6v1.6h-1.6zM78.1 62.2h1.6v1.6h-1.6zM82.5 87.6h1.6v1.6h-1.6zM65.0 68.8h1.6v1.6h-1.6zM83.4 92.9h1.6v1.6h-1.6zM73.2 62.9h1.6v1.6h-1.6zM85.6 87.0h1.6v1.6h-1.6zM64.2 46.6h1.6v1.6h-1.6zM104.8 91.7h1.6v1.6h-1.6zM81.5 57.9h1.6v1.6h-1.6zM77.1 81.9h1.6v1.6h-1.6zM80.2 58.1h1.6v1.6h-1.6zM62.4 84.0h1.6v1.6h-1.6zM114.4 77.4h1.6v1.6h-1.6zM75.5 68.9h1.6v1.6h-1.6zM84.2 56.8h1.6v1.6h-1.6zM86.7 69.8h1.6v1.6h-1.6zM107.9 83.1h1.6v1.6h-1.6zM109.1 84.9h1.6v1.6h-1.6zM96.8 60.9h1.6v1.6h-1.6zM80.4 62.7h1.6v1.6h-1.6zM73.4 83.9h1.6v1.6h-1.6zM76.3 46.7h1.6v1.6h-1.6zM64.1 73.0h1.6v1.6h-1.6zM80.8 96.1h1.6v1.6h-1.6zM77.3 47.7h1.6v1.6h-1.6zM67.7 70.1h1.6v1.6h-1.6zM102.7 67.3h1.6v1.6h-1.6zM75.5 65.7h1.6v1.6h-1.6zM97.6 79.6h1.6v1.6h-1.6zM104.8 88.9h1.6v1.6h-1.6zM100.1 49.7h1.6v1.6h-1.6zM94.5 63.3h1.6v1.6h-1.6zM76.3 56.4h1.6v1.6h-1.6zM70.9 90.9h1.6v1.6h-1.6zM95.2 60.8h1.6v1.6h-1.6zM84.8 96.8h1.6v1.6h-1.6zM91.1 55.7h1.6v1.6h-1.6zM108.3 78.5h1.6v1.6h-1.6zM89.3 87.4h1.6v1.6h-1.6zM110.1 92.6h1.6v1.6h-1.6zM64.5 59.1h1.6v1.6h-1.6zM69.0 53.4h1.6v1.6h-1.6zM77.0 85.2h1.6v1.6h-1.6zM96.2 76.7h1.6v1.6h-1.6zM74.6 63.1h1.6v1.6h-1.6zM70.3 54.2h1.6v1.6h-1.6zM76.7 75.6h1.6v1.6h-1.6zM99.3 54.2h1.6v1.6h-1.6zM62.8 60.9h1.6v1.6h-1.6zM100.9 53.2h1.6v1.6h-1.6zM80.0 54.2h1.6v1.6h-1.6zM107.5 72.8h1.6v1.6h-1.6zM65.8 48.7h1.6v1.6h-1.6zM84.7 72.9h1.6v1.6h-1.6zM71.5 80.8h1.6v1.6h-1.6zM85.6 58.5h1.6v1.6h-1.6zM79.7 94.7h1.6v1.6h-1.6zM80.0 73.8h1.6v1.6h-1.6zM82.6 65.7h1.6v1.6h-1.6zM82.9 53.8h1.6v1.6h-1.6zM103.7 54.2h1.6v1.6h-1.6zM86.4 87.5h1.6v1.6h-1.6zM85.4 90.9h1.6v1.6h-1.6zM88.5 52.0h1.6v1.6h-1.6zM63.0 73.0h1.6v1.6h-1.6zM98.7 92.3h1.6v1.6h-1.6zM67.3 76.8h1.6v1.6h-1.6zM83.3 70.4h1.6v1.6h-1.6zM70.5 58.5h1.6v1.6h-1.6zM91.9 93.2h1.6v1.6h-1.6zM68.4 69.7h1.6v1.6h-1.6zM73.4 50.0h1.6v1.6h-1.6zM113.7 76.7h1.6v1.6h-1.6zM85.3 88.9h1.6v1.6h-1.6zM74.6 64.8h1.6v1.6h-1.6zM91.7 63.9h1.6v1.6h-1.6zM69.2 56.5h1.6v1.6h-1.6zM103.5 91.7h1.6v1.6h-1.6zM64.5 73.6h1.6v1.6h-1.6zM96.4 72.9h1.6v1.6h-1.6zM97.9 59.7h1.6v1.6h-1.6zM86.1 74.7h1.6v1.6h-1.6zM86.5 78.8h1.6v1.6h-1.6zM87.7 66.9h1.6v1.6h-1.6zM63.5 76.6h1.6v1.6h-1.6zM90.1 55.9h1.6v1.6h-1.6zM105.7 85.3h1.6v1.6h-1.6zM88.3 52.9h1.6v1.6h-1.6zM89.2 49.0h1.6v1.6h-1.6zM69.5 66.5h1.6v1.6h-1.6zM67.4 67.1h1.6v1.6h-1.6zM104.0 85.2h1.6v1.6h-1.6zM90.9 63.6h1.6v1.6h-1.6zM103.9 87.2h1.6v1.6h-1.6zM73.2 96.2h1.6v1.6h-1.6zM90.2 94.9h1.6v1.6h-1.6zM107.1 93.5h1.6v1.6h-1.6zM65.9 62.1h1.6v1.6h-1.6zM90.8 92.9h1.6v1.6h-1.6zM74.1 57.4h1.6v1.6h-1.6zM91.0 60.4h1.6v1.6h-1.6zM64.3 53.0h1.6v1.6h-1.6zM71.4 93.8h1.6v1.6h-1.6zM100.9 91.6h1.6v1.6h-1.6zM71.8 85.6h1.6v1.6h-1.6zM68.8 71.9h1.6v1.6h-1.6zM98.5 62.6h1.6v1.6h-1.6zM95.3 90.9h1.6v1.6h-1.6zM98.1 64.5h1.6v1.6h-1.6zM82.7 84.5h1.6v1.6h-1.6zM87.4 52.7h1.6v1.6h-1.6zM98.6 96.3h1.6v1.6h-1.6zM95.6 79.0h1.6v1.6h-1.6zM64.1 51.3h1.6v1.6h-1.6zM97.3 66.5h1.6v1.6h-1.6zM91.4 91.6h1.6v1.6h-1.6zM69.7 55.5h1.6v1.6h-1.6zM68.3 62.5h1.6v1.6h-1.6zM75.0 74.7h1.6v1.6h-1.6zM95.8 54.2h1.6v1.6h-1.6zM97.8 68.8h1.6v1.6h-1.6zM69.9 93.8h1.6v1.6h-1.6zM76.1 51.3h1.6v1.6h-1.6zM67.7 77.7h1.6v1.6h-1.6zM111.9 85.4h1.6v1.6h-1.6zM85.1 57.5h1.6v1.6h-1.6zM62.9 78.0h1.6v1.6h-1.6zM94.3 62.1h1.6v1.6h-1.6zM99.0 67.2h1.6v1.6h-1.6zM115.6 82.8h1.6v1.6h-1.6zM76.4 92.0h1.6v1.6h-1.6zM64.7 71.9h1.6v1.6h-1.6zM85.3 56.0h1.6v1.6h-1.6zM65.5 85.3h1.6v1.6h-1.6zM62.9 72.9h1.6v1.6h-1.6zM73.6 76.0h1.6v1.6h-1.6zM91.1 77.8h1.6v1.6h-1.6zM79.8 59.4h1.6v1.6h-1.6zM65.0 91.2h1.6v1.6h-1.6zM106.8 81.8h1.6v1.6h-1.6zM62.6 88.8h1.6v1.6h-1.6zM104.7 68.3h1.6v1.6h-1.6zM104.5 67.6h1.6v1.6h-1.6zM75.1 48.9h1.6v1.6h-1.6zM75.4 45.3h1.6v1.6h-1.6zM81.3 83.7h1.6v1.6h-1.6zM101.8 88.8h1.6v1.6h-1.6zM102.8 57.6h1.6v1.6h-1.6zM93.8 66.7h1.6v1.6h-1.6zM107.1 71.5h1.6v1.6h-1.6zM77.3 77.9h1.6v1.6h-1.6zM77.0 55.9h1.6v1.6h-1.6zM104.6 94.2h1.6v1.6h-1.6zM104.7 60.9h1.6v1.6h-1.6zM75.8 92.2h1.6v1.6h-1.6zM98.1 80.6h1.6v1.6h-1.6zM100.1 96.1h1.6v1.6h-1.6zM89.0 88.5h1.6v1.6h-1.6zM102.0 89.5h1.6v1.6h-1.6zM87.1 82.3h1.6v1.6h-1.6zM94.7 59.8h1.6v1.6h-1.6zM74.3 76.8h1.6v1.6h-1.6zM66.6 92.4h1.6v1.6h-1.6zM70.4 44.7h1.6v1.6h-1.6zM68.3 93.4h1.6v1.6h-1.6zM81.9 50.9h1.6v1.6h-1.6zM63.8 45.4h1.6v1.6h-1.6zM101.7 77.4h1.6v1.6h-1.6zM101.9 83.0h1.6v1.6h-1.6zM65.9 75.1h1.6v1.6h-1.6zM82.9 87.3h1.6v1.6h-1.6zM108.9 91.3h1.6v1.6h-1.6zM66.0 90.1h1.6v1.6h-1.6zM68.3 54.3h1.6v1.6h-1.6zM68.6 45.1h1.6v1.6h-1.6zM110.5 87.0h1.6v1.6h-1.6zM98.3 87.8h1.6v1.6h-1.6zM98.2 58.7h1.6v1.6h-1.6zM67.9 48.5h1.6v1.6h-1.6zM80.4 66.1h1.6v1.6h-1.6zM63.4 57.1h1.6v1.6h-1.6zM78.3 81.9h1.6v1.6h-1.6zM83.2 60.5h1.6v1.6h-1.6zM110.7 76.6h1.6v1.6h-1.6zM64.0 65.5h1.6v1.6h-1.6zM87.1 84.9h1.6v1.6h-1.6zM82.0 81.3h1.6v1.6h-1.6zM92.9 54.9h1.6v1.6h-1.6zM62.4 69.7h1.6v1.6h-1.6zM90.2 86.2h1.6v1.6h-1.6zM72.7 69.9h1.6v1.6h-1.6zM82.0 88.1h1.6v1.6h-1.6zM77.1 94.2h1.6v1.6h-1.6zM78.4 54.8h1.6v1.6h-1.6zM102.1 70.1h1.6v1.6h-1.6zM68.5 77.6h1.6v1.6h-1.6zM66.8 85.7h1.6v1.6h-1.6zM101.9 85.7h1.6v1.6h-1.6zM98.0 62.4h1.6v1.6h-1.6zM85.1 64.5h1.6v1.6h-1.6zM73.9 57.4h1.6v1.6h-1.6zM83.8 90.9h1.6v1.6h-1.6zM75.5 68.1h1.6v1.6h-1.6zM92.5 83.9h1.6v1.6h-1.6zM105.1 78.1h1.6v1.6h-1.6zM82.1 60.8h1.6v1.6h-1.6zM71.1 88.7h1.6v1.6h-1.6zM99.9 83.3h1.6v1.6h-1.6zM71.9 66.9h1.6v1.6h-1.6zM106.3 74.5h1.6v1.6h-1.6zM69.4 68.1h1.6v1.6h-1.6zM73.1 59.5h1.6v1.6h-1.6zM102.3 88.8h1.6v1.6h-1.6zM71.0 51.6h1.6v1.6h-1.6zM76.3 60.8h1.6v1.6h-1.6zM92.0 51.9h1.6v1.6h-1.6zM80.9 53.4h1.6v1.6h-1.6zM117.8 82.6h1.6v1.6h-1.6zM68.0 95.2h1.6v1.6h-1.6zM68.0 63.9h1.6v1.6h-1.6zM118.3 86.1h1.6v1.6h-1.6zM104.0 66.7h1.6v1.6h-1.6zM73.4 77.7h1.6v1.6h-1.6zM68.3 54.3h1.6v1.6h-1.6zM84.9 85.9h1.6v1.6h-1.6zM101.7 70.2h1.6v1.6h-1.6zM98.2 68.2h1.6v1.6h-1.6zM70.3 75.8h1.6v1.6h-1.6zM85.3 83.2h1.6v1.6h-1.6zM94.9 83.7h1.6v1.6h-1.6zM86.2 55.5h1.6v1.6h-1.6zM103.4 90.7h1.6v1.6h-1.6zM106.3 81.0h1.6v1.6h-1.6zM110.8 79.9h1.6v1.6h-1.6zM98.8 67.7h1.6v1.6h-1.6zM80.0 77.1h1.6v1.6h-1.6zM67.8 65.9h1.6v1.6h-1.6zM106.8 81.7h1.6v1.6h-1.6zM98.1 56.7h1.6v1.6h-1.6zM86.3 67.8h1.6v1.6h-1.6zM97.6 65.3h1.6v1.6h-1.6zM100.7 93.4h1.6v1.6h-1.6zM72.6 78.5h1.6v1.6h-1.6zM106.6 64.2h1.6v1.6h-1.6zM90.1 95.8h1.6v1.6h-1.6zM64.4 72.5h1.6v1.6h-1.6zM71.4 85.4h1.6v1.6h-1.6zM68.0 74.2h1.6v1.6h-1.6zM93.0 81.9h1.6v1.6h-1.6zM91.4 77.7h1.6v1.6h-1.6zM85.6 94.4h1.6v1.6h-1.6zM74.2 80.2h1.6v1.6h-1.6zM84.6 84.4h1.6v1.6h-1.6zM69.2 96.4h1.6v1.6h-1.6zM82.5 46.3h1.6v1.6h-1.6zM77.8 64.8h1.6v1.6h-1.6zM63.0 65.8h1.6v1.6h-1.6zM86.2 80.9h1.6v1.6h-1.6zM82.3 57.5h1.6v1.6h-1.6zM75.0 83.2h1.6v1.6h-1.6zM74.7 86.5h1.6v1.6h-1.6zM84.5 54.6h1.6v1.6h-1.6zM69.6 85.1h1.6v1.6h-1.6zM108.3 77.5h1.6v1.6h-1.6zM88.9 73.6h1.6v1.6h-1.6zM75.1 95.2h1.6v1.6h-1.6zM82.3 77.7h1.6v1.6h-1.6zM108.9 87.3h1.6v1.6h-1.6zM88.9 59.1h1.6v1.6h-1.6zM93.5 50.0h1.6v1.6h-1.6zM83.6 56.9h1.6v1.6h-1.6zM86.5 53.2h1.6v1.6h-1.6zM62.4 82.2h1.6v1.6h-1.6zM78.2 56.4h1.6v1.6h-1.6zM79.4 69.1h1.6v1.6h-1.6zM86.6 77.6h1.6v1.6h-1.6zM99.8 62.8h1.6v1.6h-1.6zM115.1 89.3h1.6v1.6h-1.6zM65.5 87.9h1.6v1.6h-1.6zM113.8 85.5h1.6v1.6h-1.6zM70.2 88.1h1.6v1.6h-1.6zM99.6 56.7h1.6v1.6h-1.6zM68.0 50.9h1.6v1.6h-1.6zM75.5 85.1h1.6v1.6h-1.6zM81.9 51.4h1.6v1.6h-1.6zM113.7 86.0h1.6v1.6h-1.6zM71.8 91.3h1.6v1.6h-1.6zM96.9 85.4h1.6v1.6h-1.6zM100.3 91.5h1.6v1.6h-1.6zM107.1 88.5h1.6v1.6h-1.6zM73.5 80.6h1.6v1.6h-1.6zM92.5 83.3h1.6v1.6h-1.6zM87.2 90.9h1.6v1.6h-1.6zM93.8 57.5h1.6v1.6h-1.6zM75.5 50.7h1.6v1.6h-1.6zM88.8 51.0h1.6v1.6h-1.6zM90.2 70.1h1.6v1.6h-1.6zM93.0 89.8h1.6v1.6h-1.6zM62.6 88.6h1.6v1.6h-1.6zM88.9 73.6h1.6v1.6h-1.6zM100.1 88.6h1.6v1.6h-1.6zM83.6 65.8h1.6v1.6h-1.6zM98.5 77.6h1.6v1.6h-1.6zM63.8 76.1h1.6v1.6h-1.6zM101.1 93.5h1.6v1.6h-1.6zM81.0 96.2h1.6v1.6h-1.6zM91.3 69.4h1.6v1.6h-1.6zM103.1 77.0h1.6v1.6h-1.6zM81.5 89.7h1.6v1.6h-1.6zM83.1 68.8h1.6v1.6h-1.6zM92.2 84.8h1.6v1.6h-1.6zM74.2 66.7h1.6v1.6h-1.6zM86.3 73.1h1.6v1.6h-1.6zM90.9 57.9h1.6v1.6h-1.6zM91.1 95.8h1.6v1.6h-1.6zM99.5 86.0h1.6v1.6h-1.6zM81.1 60.3h1.6v1.6h-1.6zM79.3 74.9h1.6v1.6h-1.6zM98.4 85.5h1.6v1.6h-1.6zM64.5 82.2h1.6v1.6h-1.6zM65.0 59.4h1.6v1.6h-1.6zM99.7 85.8h1.6v1.6h-1.6zM97.4 77.0h1.6v1.6h-1.6zM101.9 75.4h1.6v1.6h-1.6zM101.0 54.7h1.6v1.6h-1.6zM100.2 67.9h1.6v1.6h-1.6zM72.5 45.2h1.6v1.6h-1.6zM106.3 92.6h1.6v1.6h-1.6zM99.6 63.1h1.6v1.6h-1.6zM109.1 85.7h1.6v1.6h-1.6zM94.2 57.1h1.6v1.6h-1.6zM79.4 66.0h1.6v1.6h-1.6zM80.4 66.5h1.6v1.6h-1.6zM98.8 93.6h1.6v1.6h-1.6zM65.3 73.8h1.6v1.6h-1.6zM64.4 49.6h1.6v1.6h-1.6zM108.4 74.3h1.6v1.6h-1.6zM63.0 64.1h1.6v1.6h-1.6zM95.9 93.8h1.6v1.6h-1.6zM85.7 48.7h1.6v1.6h-1.6zM98.9 54.7h1.6v1.6h-1.6zM70.9 44.0h1.6v1.6h-1.6zM62.5 80.1h1.6v1.6h-1.6zM69.1 95.4h1.6v1.6h-1.6zM67.2 90.2h1.6v1.6h-1.6zM69.6 44.2h1.6v1.6h-1.6zM103.2 56.3h1.6v1.6h-1.6zM65.1 85.0h1.6v1.6h-1.6zM102.9 89.4h1.6v1.6h-1.6zM98.0 81.5h1.6v1.6h-1.6zM88.5 93.5h1.6v1.6h-1.6zM76.7 95.3h1.6v1.6h-1.6zM63.0 78.3h1.6v1.6h-1.6zM79.9 82.6h1.6v1.6h-1.6zM71.7 89.7h1.6v1.6h-1.6zM89.9 46.4h1.6v1.6h-1.6zM83.2 74.2h1.6v1.6h-1.6zM87.2 79.8h1.6v1.6h-1.6zM70.5 86.3h1.6v1.6h-1.6zM82.9 78.0h1.6v1.6h-1.6zM98.1 65.8h1.6v1.6h-1.6zM84.2 85.7h1.6v1.6h-1.6zM116.1 85.6h1.6v1.6h-1.6zM94.5 59.0h1.6v1.6h-1.6zM102.3 87.9h1.6v1.6h-1.6zM81.1 75.9h1.6v1.6h-1.6zM117.9 88.1h1.6v1.6h-1.6zM96.5 59.9h1.6v1.6h-1.6zM86.6 91.2h1.6v1.6h-1.6zM83.7 80.2h1.6v1.6h-1.6zM96.5 91.6h1.6v1.6h-1.6zM86.3 74.9h1.6v1.6h-1.6zM108.7 91.1h1.6v1.6h-1.6zM64.6 88.2h1.6v1.6h-1.6zM108.5 90.0h1.6v1.6h-1.6zM94.8 58.0h1.6v1.6h-1.6zM110.7 86.8h1.6v1.6h-1.6zM101.2 92.5h1.6v1.6h-1.6zM82.0 47.8h1.6v1.6h-1.6zM93.8 86.3h1.6v1.6h-1.6zM73.6 83.7h1.6v1.6h-1.6zM96.8 79.8h1.6v1.6h-1.6zM88.7 54.4h1.6v1.6h-1.6zM76.7 83.8h1.6v1.6h-1.6zM67.2 86.8h1.6v1.6h-1.6zM95.2 91.6h1.6v1.6h-1.6zM89.4 75.0h1.6v1.6h-1.6zM73.0 53.6h1.6v1.6h-1.6zM72.5 81.1h1.6v1.6h-1.6zM82.9 73.7h1.6v1.6h-1.6zM85.1 71.1h1.6v1.6h-1.6zM70.7 45.6h1.6v1.6h-1.6zM68.2 77.4h1.6v1.6h-1.6zM96.2 61.8h1.6v1.6h-1.6zM94.5 57.3h1.6v1.6h-1.6zM106.6 66.2h1.6v1.6h-1.6zM116.2 84.6h1.6v1.6h-1.6zM76.7 45.2h1.6v1.6h-1.6zM73.7 53.0h1.6v1.6h-1.6zM67.0 46.0h1.6v1.6h-1.6zM94.0 90.2h1.6v1.6h-1.6zM88.3 94.3h1.6v1.6h-1.6zM96.3 64.7h1.6v1.6h-1.6zM69.0 95.0h1.6v1.6h-1.6zM76.9 73.7h1.6v1.6h-1.6zM98.7 94.8h1.6v1.6h-1.6zM100.4 64.4h1.6v1.6h-1.6zM87.8 51.8h1.6v1.6h-1.6zM74.8 45.3h1.6v1.6h-1.6zM76.8 62.2h1.6v1.6h-1.6zM113.7 92.0h1.6v1.6h-1.6zM107.0 81.5h1.6v1.6h-1.6zM99.1 96.4h1.6v1.6h-1.6zM65.4 51.0h1.6v1.6h-1.6zM105.2 93.9h1.6v1.6h-1.6zM100.8 59.3h1.6v1.6h-1.6zM95.9 84.1h1.6v1.6h-1.6zM68.2 60.7h1.6v1.6h-1.6zM76.8 49.9h1.6v1.6h-1.6zM89.6 52.3h1.6v1.6h-1.6zM75.8 50.9h1.6v1.6h-1.6zM103.1 53.7h1.6v1.6h-1.6zM74.8 93.6h1.6v1.6h-1.6zM111.6 91.2h1.6v1.6h-1.6zM70.2 67.4h1.6v1.6h-1.6zM67.7 93.4h1.6v1.6h-1.6zM110.2 77.1h1.6v1.6h-1.6zM88.0 61.5h1.6v1.6h-1.6zM98.0 50.9h1.6v1.6h-1.6zM74.8 46.3h1.6v1.6h-1.6zM102.9 73.1h1.6v1.6h-1.6zM70.4 90.2h1.6v1.6h-1.6zM77.4 65.4h1.6v1.6h-1.6zM71.1 57.8h1.6v1.6h-1.6zM71.8 69.7h1.6v1.6h-1.6zM80.3 92.0h1.6v1.6h-1.6zM68.7 96.0h1.6v1.6h-1.6zM65.4 91.5h1.6v1.6h-1.6zM100.3 54.6h1.6v1.6h-1.6zM89.4 58.7h1.6v1.6h-1.6zM76.9 54.1h1.6v1.6h-1.6zM83.0 96.7h1.6v1.6h-1.6zM67.8 58.8h1.6v1.6h-1.6zM103.6 59.1h1.6v1.6h-1.6zM72.8 66.7h1.6v1.6h-1.6zM94.8 50.7h1.6v1.6h-1.6zM72.5 84.8h1.6v1.6h-1.6zM102.8 53.8h1.6v1.6h-1.6zM66.7 47.9h1.6v1.6h-1.6zM96.9 70.0h1.6v1.6h-1.6zM77.8 54.3h1.6v1.6h-1.6zM97.1 81.4h1.6v1.6h-1.6zM108.5 74.7h1.6v1.6h-1.6zM73.7 46.7h1.6v1.6h-1.6zM104.0 65.2h1.6v1.6h-1.6zM110.2 89.9h1.6v1.6h-1.6zM72.8 88.1h1.6v1.6h-1.6zM83.1 52.0h1.6v1.6h-1.6zM83.4 75.3h1.6v1.6h-1.6zM62.5 71.3h1.6v1.6h-1.6zM87.6 71.0h1.6v1.6h-1.6zM69.1 81.8h1.6v1.6h-1.6zM108.7 89.9h1.6v1.6h-1.6zM80.5 81.6h1.6v1.6h-1.6zM83.9 83.8h1.6v1.6h-1.6zM65.7 90.3h1.6v1.6h-1.6zM91.5 71.8h1.6v1.6h-1.6zM72.6 48.7h1.6v1.6h-1.6zM76.5 87.3h1.6v1.6h-1.6zM63.9 48.4h1.6v1.6h-1.6zM102.0 53.7h1.6v1.6h-1.6zM63.2 75.6h1.6v1.6h-1.6zM95.1 71.4h1.6v1.6h-1.6zM111.8 81.9h1.6v1.6h-1.6zM64.8 49.8h1.6v1.6h-1.6zM90.3 70.2h1.6v1.6h-1.6zM78.1 49.8h1.6v1.6h-1.6zM85.3 50.6h1.6v1.6h-1.6zM95.9 89.7h1.6v1.6h-1.6zM70.6 74.1h1.6v1.6h-1.6zM109.3 93.8h1.6v1.6h-1.6zM84.4 65.9h1.6v1.6h-1.6zM84.8 94.0h1.6v1.6h-1.6zM75.9 61.3h1.6v1.6h-1.6zM87.0 96.2h1.6v1.6h-1.6zM108.0 92.5h1.6v1.6h-1.6zM108.7 89.0h1.6v1.6h-1.6zM65.3 71.1h1.6v1.6h-1.6zM76.4 66.0h1.6v1.6h-1.6zM98.3 62.9h1.6v1.6h-1.6zM86.9 70.5h1.6v1.6h-1.6zM63.4 50.7h1.6v1.6h-1.6zM117.5 85.1h1.6v1.6h-1.6zM108.3 91.0h1.6v1.6h-1.6zM98.8 57.6h1.6v1.6h-1.6zM100.9 58.0h1.6v1.6h-1.6zM93.1 93.1h1.6v1.6h-1.6zM97.6 56.7h1.6v1.6h-1.6zM91.9 66.6h1.6v1.6h-1.6zM79.6 78.2h1.6v1.6h-1.6zM69.1 75.3h1.6v1.6h-1.6zM77.5 68.4h1.6v1.6h-1.6zM92.6 51.2h1.6v1.6h-1.6zM69.3 50.3h1.6v1.6h-1.6zM78.9 65.2h1.6v1.6h-1.6zM78.6 56.3h1.6v1.6h-1.6zM67.2 72.7h1.6v1.6h-1.6zM110.1 76.1h1.6v1.6h-1.6zM94.7 78.3h1.6v1.6h-1.6zM73.7 81.6h1.6v1.6h-1.6zM88.5 72.8h1.6v1.6h-1.6zM97.1 68.5h1.6v1.6h-1.6zM79.9 56.3h1.6v1.6h-1.6zM74.8 70.9h1.6v1.6h-1.6zM84.0 74.8h1.6v1.6h-1.6zM62.9 62.2h1.6v1.6h-1.6zM93.9 69.7h1.6v1.6h-1.6zM78.4 96.5h1.6v1.6h-1.6zM79.0 84.9h1.6v1.6h-1.6zM71.2 46.8h1.6v1.6h-1.6zM65.7 64.1h1.6v1.6h-1.6zM87.3 82.9h1.6v1.6h-1.6zM68.4 55.4h1.6v1.6h-1.6zM116.9 83.1h1.6v1.6h-1.6zM71.0 61.4h1.6v1.6h-1.6zM82.3 79.7h1.6v1.6h-1.6zM97.3 89.1h1.6v1.6h-1.6zM109.0 71.2h1.6v1.6h-1.6zM104.3 83.3h1.6v1.6h-1.6zM105.5 68.9h1.6v1.6h-1.6zM106.9 81.5h1.6v1.6h-1.6zM105.8 74.8h1.6v1.6h-1.6zM90.6 95.2h1.6v1.6h-1.6zM94.8 65.8h1.6v1.6h-1.6zM106.9 90.3h1.6v1.6h-1.6zM96.8 63.7h1.6v1.6h-1.6zM88.0 67.9h1.6v1.6h-1.6zM103.4 59.0h1.6v1.6h-1.6zM84.5 73.2h1.6v1.6h-1.6zM84.1 60.6h1.6v1.6h-1.6zM107.1 89.1h1.6v1.6h-1.6zM90.7 67.2h1.6v1.6h-1.6zM72.7 59.6h1.6v1.6h-1.6zM70.5 74.3h1.6v1.6h-1.6zM95.4 47.9h1.6v1.6h-1.6zM110.3 88.5h1.6v1.6h-1.6zM86.5 92.4h1.6v1.6h-1.6zM94.4 70.1h1.6v1.6h-1.6zM114.7 85.0h1.6v1.6h-1.6zM91.7 71.1h1.6v1.6h-1.6zM101.3 64.2h1.6v1.6h-1.6zM82.6 75.3h1.6v1.6h-1.6zM82.2 94.4h1.6v1.6h-1.6zM100.8 71.6h1.6v1.6h-1.6zM67.8 63.4h1.6v1.6h-1.6zM85.1 73.5h1.6v1.6h-1.6zM94.9 90.7h1.6v1.6h-1.6zM87.3 76.9h1.6v1.6h-1.6zM92.4 87.3h1.6v1.6h-1.6zM71.9 60.4h1.6v1.6h-1.6zM118.0 87.8h1.6v1.6h-1.6zM91.4 49.2h1.6v1.6h-1.6zM113.2 80.5h1.6v1.6h-1.6zM71.1 58.9h1.6v1.6h-1.6zM91.4 70.5h1.6v1.6h-1.6zM72.9 53.1h1.6v1.6h-1.6zM98.1 75.8h1.6v1.6h-1.6zM82.3 96.9h1.6v1.6h-1.6zM85.7 85.7h1.6v1.6h-1.6zM79.7 80.5h1.6v1.6h-1.6zM110.2 74.9h1.6v1.6h-1.6zM100.3 53.8h1.6v1.6h-1.6zM90.6 73.1h1.6v1.6h-1.6zM77.4 78.1h1.6v1.6h-1.6zM94.9 65.4h1.6v1.6h-1.6zM69.1 51.7h1.6v1.6h-1.6zM67.9 52.4h1.6v1.6h-1.6zM92.0 87.6h1.6v1.6h-1.6zM97.1 86.8h1.6v1.6h-1.6zM106.1 60.6h1.6v1.6h-1.6zM103.0 62.3h1.6v1.6h-1.6zM71.9 57.6h1.6v1.6h-1.6zM67.9 92.0h1.6v1.6h-1.6zM95.4 62.0h1.6v1.6h-1.6zM87.8 64.0h1.6v1.6h-1.6zM65.3 91.3h1.6v1.6h-1.6zM95.4 95.0h1.6v1.6h-1.6zM87.3 76.7h1.6v1.6h-1.6zM76.4 45.6h1.6v1.6h-1.6zM115.3 89.4h1.6v1.6h-1.6zM80.1 91.7h1.6v1.6h-1.6zM96.5 95.0h1.6v1.6h-1.6zM90.4 94.5h1.6v1.6h-1.6zM76.0 64.2h1.6v1.6h-1.6zM103.2 55.2h1.6v1.6h-1.6zM79.8 90.5h1.6v1.6h-1.6zM89.8 86.0h1.6v1.6h-1.6zM76.1 52.6h1.6v1.6h-1.6zM82.6 53.3h1.6v1.6h-1.6zM94.2 49.4h1.6v1.6h-1.6zM92.6 64.0h1.6v1.6h-1.6zM85.2 46.7h1.6v1.6h-1.6zM69.2 87.8h1.6v1.6h-1.6zM82.2 56.4h1.6v1.6h-1.6zM73.1 58.5h1.6v1.6h-1.6zM75.7 45.1h1.6v1.6h-1.6zM100.1 61.6h1.6v1.6h-1.6zM71.1 81.3h1.6v1.6h-1.6zM67.5 57.8h1.6v1.6h-1.6zM87.5 88.4h1.6v1.6h-1.6zM82.3 82.2h1.6v1.6h-1.6zM83.7 95.0h1.6v1.6h-1.6zM74.1 94.6h1.6v1.6h-1.6z"/>
<path fill="#f5c518" d="M75.8 51.4h1.6v1.6h-1.6zM74.4 48.6h1.6v1.6h-1.6zM81.3 52.4h1.6v1.6h-1.6zM86.5 62.0h1.6v1.6h-1.6zM72.1 52.0h1.6v1.6h-1.6zM78.6 51.0h1.6v1.6h-1.6zM76.1 60.7h1.6v1.6h-1.6zM69.5 67.5h1.6v1.6h-1.6zM72.6 64.1h1.6v1.6h-1.6zM77.5 53.9h1.6v1.6h-1.6zM72.7 47.2h1.6v1.6h-1.6zM67.0 69.8h1.6v1.6h-1.6zM70.9 64.3h1.6v1.6h-1.6zM65.1 61.3h1.6v1.6h-1.6zM72.0 59.5h1.6v1.6h-1.6zM70.2 46.6h1.6v1.6h-1.6zM70.6 51.4h1.6v1.6h-1.6zM65.6 65.8h1.6v1.6h-1.6zM69.8 56.6h1.6v1.6h-1.6zM86.7 67.6h1.6v1.6h-1.6zM86.0 70.1h1.6v1.6h-1.6zM65.8 52.9h1.6v1.6h-1.6zM63.0 64.7h1.6v1.6h-1.6zM80.1 55.1h1.6v1.6h-1.6zM73.3 64.1h1.6v1.6h-1.6zM81.1 52.0h1.6v1.6h-1.6zM85.1 55.1h1.6v1.6h-1.6zM79.2 50.1h1.6v1.6h-1.6zM65.3 71.6h1.6v1.6h-1.6zM82.0 65.7h1.6v1.6h-1.6zM66.6 50.5h1.6v1.6h-1.6zM70.4 55.9h1.6v1.6h-1.6zM63.3 53.9h1.6v1.6h-1.6zM79.4 50.0h1.6v1.6h-1.6zM84.9 61.5h1.6v1.6h-1.6zM81.5 52.2h1.6v1.6h-1.6zM73.9 64.9h1.6v1.6h-1.6zM84.7 67.6h1.6v1.6h-1.6zM69.9 46.0h1.6v1.6h-1.6zM85.3 62.6h1.6v1.6h-1.6zM63.5 51.9h1.6v1.6h-1.6zM65.2 68.0h1.6v1.6h-1.6zM67.9 71.7h1.6v1.6h-1.6zM81.0 56.3h1.6v1.6h-1.6zM82.4 69.1h1.6v1.6h-1.6zM69.8 47.4h1.6v1.6h-1.6zM87.3 65.1h1.6v1.6h-1.6zM82.1 69.2h1.6v1.6h-1.6zM79.2 58.1h1.6v1.6h-1.6zM63.7 65.3h1.6v1.6h-1.6zM73.8 59.8h1.6v1.6h-1.6zM81.2 68.5h1.6v1.6h-1.6zM69.3 60.8h1.6v1.6h-1.6zM88.4 63.5h1.6v1.6h-1.6zM76.9 52.1h1.6v1.6h-1.6zM63.8 55.3h1.6v1.6h-1.6zM73.3 50.6h1.6v1.6h-1.6zM70.6 48.7h1.6v1.6h-1.6zM81.3 64.5h1.6v1.6h-1.6zM68.6 51.8h1.6v1.6h-1.6zM76.1 57.8h1.6v1.6h-1.6zM70.3 70.8h1.6v1.6h-1.6zM66.0 61.3h1.6v1.6h-1.6zM71.2 68.8h1.6v1.6h-1.6zM77.0 67.1h1.6v1.6h-1.6zM66.8 64.4h1.6v1.6h-1.6zM78.4 58.3h1.6v1.6h-1.6zM82.9 69.2h1.6v1.6h-1.6zM65.3 53.2h1.6v1.6h-1.6zM71.9 50.8h1.6v1.6h-1.6zM63.8 53.0h1.6v1.6h-1.6zM67.5 65.4h1.6v1.6h-1.6zM74.3 48.0h1.6v1.6h-1.6zM71.0 58.5h1.6v1.6h-1.6zM72.0 49.7h1.6v1.6h-1.6zM64.5 65.9h1.6v1.6h-1.6zM88.7 61.3h1.6v1.6h-1.6zM65.1 59.1h1.6v1.6h-1.6zM73.9 50.3h1.6v1.6h-1.6zM87.0 63.7h1.6v1.6h-1.6zM79.1 72.3h1.6v1.6h-1.6zM79.8 52.1h1.6v1.6h-1.6zM68.8 48.8h1.6v1.6h-1.6zM62.9 67.5h1.6v1.6h-1.6zM84.9 53.4h1.6v1.6h-1.6zM67.2 63.5h1.6v1.6h-1.6zM85.0 72.0h1.6v1.6h-1.6zM66.7 67.8h1.6v1.6h-1.6zM84.6 66.6h1.6v1.6h-1.6zM71.0 50.1h1.6v1.6h-1.6zM84.5 54.1h1.6v1.6h-1.6zM72.2 61.0h1.6v1.6h-1.6zM72.2 69.2h1.6v1.6h-1.6zM68.7 45.9h1.6v1.6h-1.6zM77.5 63.2h1.6v1.6h-1.6zM84.3 65.5h1.6v1.6h-1.6zM86.6 72.6h1.6v1.6h-1.6zM75.5 59.4h1.6v1.6h-1.6zM66.5 53.5h1.6v1.6h-1.6zM77.9 47.1h1.6v1.6h-1.6zM80.8 49.5h1.6v1.6h-1.6zM74.2 73.3h1.6v1.6h-1.6zM74.1 50.3h1.6v1.6h-1.6zM84.9 69.9h1.6v1.6h-1.6zM83.4 57.3h1.6v1.6h-1.6zM69.8 64.2h1.6v1.6h-1.6zM76.1 57.1h1.6v1.6h-1.6zM71.3 57.6h1.6v1.6h-1.6zM80.2 69.1h1.6v1.6h-1.6zM70.2 57.8h1.6v1.6h-1.6zM77.4 55.0h1.6v1.6h-1.6zM67.5 47.2h1.6v1.6h-1.6zM70.9 58.3h1.6v1.6h-1.6zM85.6 73.4h1.6v1.6h-1.6zM88.2 63.0h1.6v1.6h-1.6zM80.5 62.7h1.6v1.6h-1.6zM70.2 61.5h1.6v1.6h-1.6zM87.9 58.9h1.6v1.6h-1.6zM79.7 53.5h1.6v1.6h-1.6zM71.5 70.8h1.6v1.6h-1.6zM63.0 50.3h1.6v1.6h-1.6zM80.5 57.9h1.6v1.6h-1.6zM64.5 64.2h1.6v1.6h-1.6zM72.2 61.8h1.6v1.6h-1.6zM73.4 60.3h1.6v1.6h-1.6zM77.5 56.4h1.6v1.6h-1.6zM65.3 50.0h1.6v1.6h-1.6zM86.2 60.9h1.6v1.6h-1.6zM65.2 70.1h1.6v1.6h-1.6zM69.0 47.5h1.6v1.6h-1.6zM76.5 52.1h1.6v1.6h-1.6zM75.4 61.0h1.6v1.6h-1.6zM68.3 61.6h1.6v1.6h-1.6zM65.3 59.8h1.6v1.6h-1.6zM78.1 47.1h1.6v1.6h-1.6zM73.2 46.9h1.6v1.6h-1.6zM74.1 70.2h1.6v1.6h-1.6zM77.1 65.8h1.6v1.6h-1.6zM65.0 69.2h1.6v1.6h-1.6zM72.8 49.8h1.6v1.6h-1.6zM88.1 61.3h1.6v1.6h-1.6zM68.6 55.7h1.6v1.6h-1.6zM62.6 62.2h1.6v1.6h-1.6zM68.0 53.5h1.6v1.6h-1.6zM81.3 57.3h1.6v1.6h-1.6zM86.2 63.0h1.6v1.6h-1.6zM85.7 61.3h1.6v1.6h-1.6zM87.0 70.4h1.6v1.6h-1.6zM66.7 66.7h1.6v1.6h-1.6zM71.4 67.2h1.6v1.6h-1.6zM80.6 69.1h1.6v1.6h-1.6zM65.5 55.7h1.6v1.6h-1.6zM82.1 72.7h1.6v1.6h-1.6zM78.5 47.6h1.6v1.6h-1.6zM77.0 68.4h1.6v1.6h-1.6zM65.3 72.0h1.6v1.6h-1.6zM80.4 52.2h1.6v1.6h-1.6zM67.4 57.9h1.6v1.6h-1.6zM84.8 61.9h1.6v1.6h-1.6zM65.2 68.3h1.6v1.6h-1.6zM67.2 61.1h1.6v1.6h-1.6zM70.0 65.0h1.6v1.6h-1.6zM72.5 49.0h1.6v1.6h-1.6zM85.8 60.6h1.6v1.6h-1.6zM80.8 68.5h1.6v1.6h-1.6zM71.4 49.2h1.6v1.6h-1.6zM75.7 70.5h1.6v1.6h-1.6zM67.1 68.8h1.6v1.6h-1.6zM80.5 56.3h1.6v1.6h-1.6zM75.0 49.4h1.6v1.6h-1.6zM85.0 56.3h1.6v1.6h-1.6zM85.8 62.7h1.6v1.6h-1.6zM64.2 54.4h1.6v1.6h-1.6zM68.0 71.1h1.6v1.6h-1.6zM66.8 55.3h1.6v1.6h-1.6zM74.8 61.7h1.6v1.6h-1.6zM72.7 55.1h1.6v1.6h-1.6zM62.4 61.8h1.6v1.6h-1.6zM71.2 45.3h1.6v1.6h-1.6zM74.6 73.8h1.6v1.6h-1.6zM63.4 49.0h1.6v1.6h-1.6zM80.3 52.7h1.6v1.6h-1.6zM69.6 59.5h1.6v1.6h-1.6zM69.3 61.5h1.6v1.6h-1.6zM76.5 72.9h1.6v1.6h-1.6zM77.3 67.4h1.6v1.6h-1.6zM85.8 67.5h1.6v1.6h-1.6zM79.3 63.4h1.6v1.6h-1.6zM72.0 53.0h1.6v1.6h-1.6zM83.7 70.4h1.6v1.6h-1.6zM87.5 64.8h1.6v1.6h-1.6zM70.4 67.2h1.6v1.6h-1.6zM82.2 59.7h1.6v1.6h-1.6zM79.4 55.0h1.6v1.6h-1.6zM77.1 56.7h1.6v1.6h-1.6zM63.8 54.6h1.6v1.6h-1.6zM70.9 73.9h1.6v1.6h-1.6zM75.2 55.5h1.6v1.6h-1.6zM68.8 51.6h1.6v1.6h-1.6zM71.6 48.7h1.6v1.6h-1.6zM62.4 70.4h1.6v1.6h-1.6zM74.4 57.8h1.6v1.6h-1.6zM77.6 53.6h1.6v1.6h-1.6zM66.8 46.7h1.6v1.6h-1.6zM70.3 53.8h1.6v1.6h-1.6zM81.8 61.0h1.6v1.6h-1.6zM87.1 61.9h1.6v1.6h-1.6zM64.4 50.0h1.6v1.6h-1.6zM77.9 73.8h1.6v1.6h-1.6zM71.8 67.5h1.6v1.6h-1.6zM73.8 70.3h1.6v1.6h-1.6zM64.0 59.0h1.6v1.6h-1.6zM66.6 52.6h1.6v1.6h-1.6zM81.2 51.1h1.6v1.6h-1.6zM73.0 50.6h1.6v1.6h-1.6zM78.5 70.2h1.6v1.6h-1.6zM79.7 50.5h1.6v1.6h-1.6zM82.0 73.1h1.6v1.6h-1.6zM78.4 47.0h1.6v1.6h-1.6zM84.1 70.5h1.6v1.6h-1.6zM71.4 48.7h1.6v1.6h-1.6zM67.3 60.5h1.6v1.6h-1.6zM85.8 63.6h1.6v1.6h-1.6zM71.0 66.8h1.6v1.6h-1.6zM79.7 56.7h1.6v1.6h-1.6zM80.5 54.7h1.6v1.6h-1.6zM63.8 56.9h1.6v1.6h-1.6zM63.4 63.2h1.6v1.6h-1.6zM71.2 59.3h1.6v1.6h-1.6zM78.3 52.3h1.6v1.6h-1.6zM74.7 45.1h1.6v1.6h-1.6zM87.2 61.3h1.6v1.6h-1.6zM78.8 66.1h1.6v1.6h-1.6zM71.1 47.5h1.6v1.6h-1.6zM66.4 48.9h1.6v1.6h-1.6zM84.2 57.2h1.6v1.6h-1.6zM76.7 62.1h1.6v1.6h-1.6zM77.2 64.1h1.6v1.6h-1.6zM78.4 54.5h1.6v1.6h-1.6zM82.2 52.3h1.6v1.6h-1.6zM81.4 67.2h1.6v1.6h-1.6zM83.2 53.8h1.6v1.6h-1.6zM83.1 73.5h1.6v1.6h-1.6zM74.4 52.9h1.6v1.6h-1.6zM76.3 72.5h1.6v1.6h-1.6zM75.0 64.0h1.6v1.6h-1.6zM83.1 55.4h1.6v1.6h-1.6zM63.0 48.7h1.6v1.6h-1.6zM63.8 59.5h1.6v1.6h-1.6zM77.2 50.1h1.6v1.6h-1.6zM66.2 49.9h1.6v1.6h-1.6zM82.1 71.9h1.6v1.6h-1.6zM83.2 51.9h1.6v1.6h-1.6zM79.4 54.9h1.6v1.6h-1.6zM83.8 58.3h1.6v1.6h-1.6zM70.9 71.4h1.6v1.6h-1.6zM65.1 66.3h1.6v1.6h-1.6zM64.0 63.7h1.6v1.6h-1.6zM73.1 70.2h1.6v1.6h-1.6zM63.8 61.3h1.6v1.6h-1.6z"/>
<path d="M64.0,74.0C66.5,70.0 74.0,71.7 80.0,72.0C86.0,72.3 94.7,74.7 100.0,76.0C105.3,77.3 109.0,78.0 112.0,80.0C115.0,82.0 117.7,85.5 118.0,88.0C118.3,90.5 117.0,93.4 114.0,95.0C111.0,96.6 105.7,97.0 100.0,97.5C94.3,98.0 85.8,98.2 80.0,98.0C74.2,97.8 67.7,100.0 65.0,96.0C62.3,92.0 61.5,78.0 64.0,74.0Z" fill="#f5c518"/>
<path fill="#fff" d="M85.6 95.4h1v1h-1zM114.5 87.8h1v1h-1zM75.6 78.1h1v1h-1zM77.7 82.8h1v1h-1zM76.0 76.8h1v1h-1zM104.5 88.2h1v1h-1zM79.6 97.4h1v1h-1zM75.2 86.3h1v1h-1zM72.0 93.9h1v1h-1zM104.1 92.9h1v1h-1zM78.8 80.1h1v1h-1zM89.7 94.7h1v1h-1zM72.2 89.3h1v1h-1zM95.8 83.3h1v1h-1zM94.8 94.5h1v1h-1zM74.8 94.5h1v1h-1zM83.0 91.8h1v1h-1zM79.6 72.1h1v1h-1zM71.6 90.6h1v1h-1zM68.8 75.9h1v1h-1zM81.8 95.4h1v1h-1zM102.2 94.4h1v1h-1zM76.2 92.1h1v1h-1zM90.8 77.5h1v1h-1zM86.7 74.2h1v1h-1zM80.6 94.3h1v1h-1zM70.0 84.2h1v1h-1zM70.8 82.6h1v1h-1zM73.2 89.3h1v1h-1zM71.5 90.7h1v1h-1zM90.5 74.4h1v1h-1zM82.6 84.4h1v1h-1zM75.1 96.7h1v1h-1zM111.2 90.5h1v1h-1zM78.2 76.1h1v1h-1zM77.8 73.3h1v1h-1zM65.8 84.7h1v1h-1zM85.5 86.0h1v1h-1zM100.7 88.5h1v1h-1zM92.9 85.8h1v1h-1zM110.7 90.2h1v1h-1zM85.1 79.8h1v1h-1zM86.1 96.8h1v1h-1zM84.4 81.5h1v1h-1zM85.6 75.2h1v1h-1z"/>
<path d="M37.0,58.0C38.2,55.6 41.0,56.0 44.0,55.5C47.0,55.0 52.0,54.6 55.0,55.0C58.0,55.4 60.6,55.8 62.0,58.0C63.4,60.2 63.4,64.3 63.5,68.0C63.6,71.7 63.8,77.5 62.5,80.0C61.2,82.5 58.8,82.6 56.0,83.0C53.2,83.4 48.9,83.2 46.0,82.5C43.1,81.8 40.1,81.1 38.5,79.0C36.9,76.9 36.8,73.5 36.5,70.0C36.2,66.5 35.8,60.4 37.0,58.0Z" fill="#2f7bb0"/>
<path d="M50.5,50.0C51.2,48.9 54.6,48.5 55.5,49.0C56.4,49.5 56.2,51.8 56.0,53.0C55.8,54.2 54.8,55.6 54.0,56.0C53.2,56.4 51.6,56.5 51.0,55.5C50.4,54.5 49.8,51.1 50.5,50.0Z" fill="#3b9a3a"/>
<path d="M22.0,78.0C22.6,76.5 23.7,74.9 25.0,74.0C26.3,73.1 28.5,72.5 30.0,72.5C31.5,72.5 33.1,73.1 34.0,74.0C34.9,74.9 35.5,76.5 35.5,78.0C35.5,79.5 34.9,81.7 34.0,83.0C33.1,84.3 31.5,85.4 30.0,86.0C28.5,86.6 26.4,87.0 25.0,86.5C23.6,86.0 22.0,84.4 21.5,83.0C21.0,81.6 21.4,79.5 22.0,78.0Z" fill="#3b9a3a"/>
<path d="M33.0,84.0C35.7,82.6 40.8,81.8 45.0,81.5C49.2,81.2 55.0,80.9 58.0,82.0C61.0,83.1 62.0,85.0 63.0,88.0C64.0,91.0 64.2,95.5 64.0,100.0C63.8,104.5 63.2,110.8 62.0,115.0C60.8,119.2 59.5,122.9 57.0,125.0C54.5,127.1 50.5,127.7 47.0,127.5C43.5,127.3 39.0,126.1 36.0,124.0C33.0,121.9 30.4,119.0 29.0,115.0C27.6,111.0 27.5,104.2 27.5,100.0C27.5,95.8 28.1,92.7 29.0,90.0C29.9,87.3 30.3,85.4 33.0,84.0Z" fill="#2f7bb0"/>
<path d="M39,80.5Q50,84 63,81.5" stroke="#fff" stroke-width="0.9" stroke-dasharray="1.2 1.2" fill="none"/>
<path d="M60.0,99.0C61.8,97.8 66.5,97.3 68.0,98.0C69.5,98.7 69.2,101.0 69.0,103.0C68.8,105.0 67.2,107.5 66.5,110.0C65.8,112.5 65.2,115.7 64.5,118.0C63.8,120.3 63.1,123.0 62.0,124.0C60.9,125.0 58.9,125.5 58.0,124.0C57.1,122.5 56.7,118.2 56.5,115.0C56.3,111.8 56.4,107.7 57.0,105.0C57.6,102.3 58.2,100.2 60.0,99.0Z" fill="#e0141e"/>
<path d="M66.0,97.5C69.0,96.2 76.3,96.5 82.0,96.5C87.7,96.5 95.7,97.0 100.0,97.5C104.3,98.0 105.0,99.1 108.0,99.5C111.0,99.9 115.8,98.6 118.0,100.0C120.2,101.4 120.6,104.7 121.0,108.0C121.4,111.3 121.3,116.8 120.5,120.0C119.7,123.2 117.8,125.2 116.0,127.0C114.2,128.8 111.8,128.8 110.0,131.0C108.2,133.2 107.3,137.8 105.0,140.0C102.7,142.2 98.8,143.6 96.0,144.0C93.2,144.4 89.8,144.0 88.0,142.5C86.2,141.0 86.8,137.1 85.0,135.0C83.2,132.9 80.0,131.3 77.0,130.0C74.0,128.7 69.2,129.5 67.0,127.0C64.8,124.5 64.5,118.8 64.0,115.0C63.5,111.2 63.7,106.9 64.0,104.0C64.3,101.1 63.0,98.8 66.0,97.5Z" fill="#dbb8cf"/>
<path fill="#e39b3a" d="M66.2 148.5h1.6v1.6h-1.6zM55.5 141.4h1.6v1.6h-1.6zM59.2 133.1h1.6v1.6h-1.6zM53.8 130.3h1.6v1.6h-1.6zM73.4 145.3h1.6v1.6h-1.6zM68.9 135.0h1.6v1.6h-1.6zM67.4 140.1h1.6v1.6h-1.6zM73.7 139.2h1.6v1.6h-1.6zM54.9 141.9h1.6v1.6h-1.6zM70.4 136.2h1.6v1.6h-1.6zM69.4 136.6h1.6v1.6h-1.6zM63.8 141.5h1.6v1.6h-1.6zM68.4 134.9h1.6v1.6h-1.6zM66.9 139.9h1.6v1.6h-1.6zM54.5 141.5h1.6v1.6h-1.6zM62.1 143.9h1.6v1.6h-1.6zM63.6 138.4h1.6v1.6h-1.6zM54.4 130.9h1.6v1.6h-1.6zM76.0 139.6h1.6v1.6h-1.6zM63.7 139.6h1.6v1.6h-1.6zM72.5 133.1h1.6v1.6h-1.6zM53.0 146.2h1.6v1.6h-1.6zM61.7 142.1h1.6v1.6h-1.6zM59.3 146.4h1.6v1.6h-1.6zM52.4 133.4h1.6v1.6h-1.6zM50.8 135.7h1.6v1.6h-1.6zM72.2 139.4h1.6v1.6h-1.6zM61.5 129.7h1.6v1.6h-1.6zM68.9 137.8h1.6v1.6h-1.6zM62.3 145.7h1.6v1.6h-1.6zM70.8 131.1h1.6v1.6h-1.6zM68.4 136.0h1.6v1.6h-1.6zM63.6 133.0h1.6v1.6h-1.6zM59.0 135.4h1.6v1.6h-1.6zM59.3 128.1h1.6v1.6h-1.6zM53.8 140.5h1.6v1.6h-1.6zM49.5 131.7h1.6v1.6h-1.6zM69.6 133.9h1.6v1.6h-1.6zM57.6 133.1h1.6v1.6h-1.6zM67.1 147.0h1.6v1.6h-1.6zM53.9 137.2h1.6v1.6h-1.6zM71.9 141.6h1.6v1.6h-1.6zM59.0 128.7h1.6v1.6h-1.6zM61.2 136.0h1.6v1.6h-1.6zM69.4 134.3h1.6v1.6h-1.6zM60.1 142.3h1.6v1.6h-1.6zM72.4 135.6h1.6v1.6h-1.6zM59.5 140.7h1.6v1.6h-1.6zM77.3 143.7h1.6v1.6h-1.6zM59.1 142.7h1.6v1.6h-1.6zM57.7 129.3h1.6v1.6h-1.6zM70.8 136.2h1.6v1.6h-1.6zM63.7 138.9h1.6v1.6h-1.6zM75.2 144.7h1.6v1.6h-1.6zM61.8 138.1h1.6v1.6h-1.6zM73.3 137.0h1.6v1.6h-1.6zM62.1 147.7h1.6v1.6h-1.6zM61.1 138.8h1.6v1.6h-1.6zM63.3 146.3h1.6v1.6h-1.6zM68.1 144.4h1.6v1.6h-1.6zM60.0 128.6h1.6v1.6h-1.6zM68.4 140.2h1.6v1.6h-1.6zM71.2 145.0h1.6v1.6h-1.6zM51.3 132.7h1.6v1.6h-1.6zM70.7 140.4h1.6v1.6h-1.6zM69.4 138.6h1.6v1.6h-1.6zM60.4 140.8h1.6v1.6h-1.6zM57.9 139.4h1.6v1.6h-1.6zM56.1 133.6h1.6v1.6h-1.6zM57.2 133.4h1.6v1.6h-1.6zM73.9 140.2h1.6v1.6h-1.6zM63.3 137.2h1.6v1.6h-1.6zM49.3 134.6h1.6v1.6h-1.6zM74.1 145.7h1.6v1.6h-1.6zM73.8 133.5h1.6v1.6h-1.6zM64.1 136.1h1.6v1.6h-1.6zM61.9 138.7h1.6v1.6h-1.6zM65.5 135.9h1.6v1.6h-1.6zM72.1 132.2h1.6v1.6h-1.6zM75.7 140.2h1.6v1.6h-1.6zM49.3 134.8h1.6v1.6h-1.6zM64.0 136.9h1.6v1.6h-1.6zM64.9 135.0h1.6v1.6h-1.6zM56.0 145.6h1.6v1.6h-1.6zM56.6 143.7h1.6v1.6h-1.6zM72.2 141.0h1.6v1.6h-1.6zM61.6 148.7h1.6v1.6h-1.6zM61.3 147.5h1.6v1.6h-1.6zM49.5 137.5h1.6v1.6h-1.6zM65.9 131.8h1.6v1.6h-1.6zM75.8 140.3h1.6v1.6h-1.6zM72.1 138.9h1.6v1.6h-1.6zM68.3 142.9h1.6v1.6h-1.6zM56.7 132.4h1.6v1.6h-1.6zM50.8 129.8h1.6v1.6h-1.6zM60.3 142.5h1.6v1.6h-1.6zM68.6 131.2h1.6v1.6h-1.6zM56.7 132.9h1.6v1.6h-1.6zM65.5 134.9h1.6v1.6h-1.6zM64.8 131.2h1.6v1.6h-1.6zM75.5 135.0h1.6v1.6h-1.6zM59.6 128.4h1.6v1.6h-1.6zM59.3 142.1h1.6v1.6h-1.6zM54.5 140.0h1.6v1.6h-1.6zM50.6 138.2h1.6v1.6h-1.6zM69.9 137.4h1.6v1.6h-1.6zM68.4 130.3h1.6v1.6h-1.6zM76.4 139.5h1.6v1.6h-1.6zM56.6 135.5h1.6v1.6h-1.6zM70.6 138.9h1.6v1.6h-1.6zM62.5 147.1h1.6v1.6h-1.6zM65.9 139.9h1.6v1.6h-1.6zM50.4 130.8h1.6v1.6h-1.6zM56.0 147.8h1.6v1.6h-1.6zM73.5 132.8h1.6v1.6h-1.6zM66.0 149.5h1.6v1.6h-1.6zM58.2 148.9h1.6v1.6h-1.6zM57.9 137.8h1.6v1.6h-1.6zM55.2 144.4h1.6v1.6h-1.6zM53.2 145.4h1.6v1.6h-1.6zM56.8 129.3h1.6v1.6h-1.6zM64.8 129.9h1.6v1.6h-1.6zM64.5 145.4h1.6v1.6h-1.6zM65.9 138.1h1.6v1.6h-1.6zM48.7 139.3h1.6v1.6h-1.6zM50.7 142.3h1.6v1.6h-1.6zM51.7 140.7h1.6v1.6h-1.6zM58.5 136.1h1.6v1.6h-1.6zM67.9 131.4h1.6v1.6h-1.6zM57.8 146.7h1.6v1.6h-1.6zM74.3 138.5h1.6v1.6h-1.6zM52.2 129.8h1.6v1.6h-1.6zM62.8 139.8h1.6v1.6h-1.6zM51.3 138.2h1.6v1.6h-1.6zM52.7 139.7h1.6v1.6h-1.6zM63.2 136.0h1.6v1.6h-1.6zM53.7 136.8h1.6v1.6h-1.6zM53.9 130.6h1.6v1.6h-1.6zM55.0 147.3h1.6v1.6h-1.6zM63.0 147.7h1.6v1.6h-1.6zM62.6 145.5h1.6v1.6h-1.6zM65.1 143.2h1.6v1.6h-1.6zM54.7 144.6h1.6v1.6h-1.6zM52.4 133.6h1.6v1.6h-1.6zM48.6 136.5h1.6v1.6h-1.6zM63.5 134.3h1.6v1.6h-1.6zM65.3 133.0h1.6v1.6h-1.6zM65.9 145.3h1.6v1.6h-1.6zM55.2 141.2h1.6v1.6h-1.6zM66.6 143.3h1.6v1.6h-1.6zM72.5 135.4h1.6v1.6h-1.6zM72.4 138.1h1.6v1.6h-1.6zM76.4 137.0h1.6v1.6h-1.6zM60.1 129.7h1.6v1.6h-1.6zM55.2 144.2h1.6v1.6h-1.6zM68.4 131.1h1.6v1.6h-1.6zM58.2 130.9h1.6v1.6h-1.6zM53.7 132.6h1.6v1.6h-1.6zM62.3 138.9h1.6v1.6h-1.6zM71.5 148.1h1.6v1.6h-1.6zM70.6 142.0h1.6v1.6h-1.6zM53.8 141.8h1.6v1.6h-1.6zM73.5 145.4h1.6v1.6h-1.6zM50.5 143.8h1.6v1.6h-1.6zM58.4 131.4h1.6v1.6h-1.6zM77.2 142.8h1.6v1.6h-1.6zM70.4 130.7h1.6v1.6h-1.6zM75.3 144.5h1.6v1.6h-1.6zM73.1 145.7h1.6v1.6h-1.6zM65.7 137.5h1.6v1.6h-1.6zM72.9 145.3h1.6v1.6h-1.6zM74.3 134.4h1.6v1.6h-1.6zM77.0 139.7h1.6v1.6h-1.6zM55.4 146.6h1.6v1.6h-1.6zM54.8 132.2h1.6v1.6h-1.6zM61.7 133.0h1.6v1.6h-1.6zM62.7 148.1h1.6v1.6h-1.6zM68.6 143.7h1.6v1.6h-1.6zM59.7 145.3h1.6v1.6h-1.6zM71.9 143.1h1.6v1.6h-1.6zM60.1 129.7h1.6v1.6h-1.6zM67.6 146.5h1.6v1.6h-1.6zM58.1 141.1h1.6v1.6h-1.6zM73.2 145.5h1.6v1.6h-1.6zM72.5 137.1h1.6v1.6h-1.6zM66.1 138.0h1.6v1.6h-1.6zM57.9 132.5h1.6v1.6h-1.6zM58.5 146.7h1.6v1.6h-1.6zM66.6 134.3h1.6v1.6h-1.6zM50.4 133.8h1.6v1.6h-1.6zM69.1 137.6h1.6v1.6h-1.6zM67.9 145.9h1.6v1.6h-1.6zM51.4 143.1h1.6v1.6h-1.6zM53.3 133.8h1.6v1.6h-1.6zM76.9 135.9h1.6v1.6h-1.6zM66.3 147.8h1.6v1.6h-1.6zM59.7 138.9h1.6v1.6h-1.6zM76.9 139.1h1.6v1.6h-1.6zM61.6 145.9h1.6v1.6h-1.6zM55.3 135.6h1.6v1.6h-1.6zM50.8 140.1h1.6v1.6h-1.6zM74.0 139.3h1.6v1.6h-1.6zM59.2 148.6h1.6v1.6h-1.6zM75.0 142.7h1.6v1.6h-1.6zM50.0 141.7h1.6v1.6h-1.6zM61.2 149.3h1.6v1.6h-1.6zM58.7 142.6h1.6v1.6h-1.6zM67.0 136.2h1.6v1.6h-1.6zM63.6 142.9h1.6v1.6h-1.6zM75.4 138.9h1.6v1.6h-1.6zM68.5 140.2h1.6v1.6h-1.6zM61.4 144.6h1.6v1.6h-1.6zM74.9 144.1h1.6v1.6h-1.6zM57.6 130.8h1.6v1.6h-1.6zM52.1 140.9h1.6v1.6h-1.6zM65.3 128.8h1.6v1.6h-1.6zM59.7 144.5h1.6v1.6h-1.6zM67.3 134.0h1.6v1.6h-1.6zM71.0 134.3h1.6v1.6h-1.6zM64.3 137.2h1.6v1.6h-1.6zM77.5 142.3h1.6v1.6h-1.6zM72.2 142.9h1.6v1.6h-1.6zM59.3 149.4h1.6v1.6h-1.6zM69.3 143.2h1.6v1.6h-1.6zM56.2 131.3h1.6v1.6h-1.6zM65.2 146.3h1.6v1.6h-1.6zM71.9 135.5h1.6v1.6h-1.6zM52.0 139.3h1.6v1.6h-1.6zM70.2 131.5h1.6v1.6h-1.6zM57.2 128.9h1.6v1.6h-1.6zM56.8 136.3h1.6v1.6h-1.6zM53.4 134.7h1.6v1.6h-1.6zM57.5 137.6h1.6v1.6h-1.6zM51.0 133.6h1.6v1.6h-1.6zM59.7 136.4h1.6v1.6h-1.6zM61.4 146.5h1.6v1.6h-1.6zM67.1 145.2h1.6v1.6h-1.6zM57.3 131.1h1.6v1.6h-1.6zM70.8 138.3h1.6v1.6h-1.6zM64.7 142.8h1.6v1.6h-1.6zM70.7 133.9h1.6v1.6h-1.6zM58.8 148.3h1.6v1.6h-1.6zM63.8 134.2h1.6v1.6h-1.6zM66.9 133.5h1.6v1.6h-1.6zM72.9 140.4h1.6v1.6h-1.6zM58.5 148.8h1.6v1.6h-1.6zM55.8 133.2h1.6v1.6h-1.6zM49.8 140.0h1.6v1.6h-1.6zM70.7 143.0h1.6v1.6h-1.6zM60.3 145.9h1.6v1.6h-1.6zM51.1 134.6h1.6v1.6h-1.6zM67.4 149.5h1.6v1.6h-1.6zM67.0 143.3h1.6v1.6h-1.6zM71.3 136.6h1.6v1.6h-1.6zM76.4 144.4h1.6v1.6h-1.6zM58.1 136.5h1.6v1.6h-1.6zM72.3 135.6h1.6v1.6h-1.6zM63.9 139.4h1.6v1.6h-1.6zM68.1 148.0h1.6v1.6h-1.6zM51.8 135.3h1.6v1.6h-1.6z"/>
<circle cx="60" cy="126" r="0.9" fill="#e0141e"/>
<circle cx="58.5" cy="128" r="0.9" fill="#e0141e"/>
<circle cx="62" cy="127.5" r="0.9" fill="#e0141e"/>
<text x="50.7" y="45.3" font-size="6" text-anchor="middle" fill="#222">NKT</text>
<text x="50.5" y="68" font-size="6.2" text-anchor="middle" fill="#222">CD4</text>
<text x="50.5" y="76.3" font-size="6" text-anchor="middle" fill="#222">T cells</text>
<text x="26.5" y="82" font-size="6" text-anchor="middle" fill="#222">NK</text>
<text x="43.5" y="100" font-size="6.2" text-anchor="middle" fill="#222">CD8</text>
<text x="43.5" y="109" font-size="6" text-anchor="middle" fill="#222">T cells</text>
<text x="85" y="79" font-size="6" text-anchor="middle" fill="#222">Myeloid</text>
<text x="93" y="113" font-size="6" text-anchor="middle" fill="#222">Tumor</text>
<text x="93" y="122" font-size="6" text-anchor="middle" fill="#222">cells</text>
<text x="58" y="145" font-size="6" text-anchor="middle" fill="#222">Monocytes</text>
<path fill="#d0b0a0" d="M171.3 39.3h1.4v1.4h-1.4zM180.9 41.8h1.4v1.4h-1.4zM183.7 41.9h1.4v1.4h-1.4zM179.4 40.1h1.4v1.4h-1.4zM174.5 44.1h1.4v1.4h-1.4zM178.9 39.5h1.4v1.4h-1.4zM181.5 43.9h1.4v1.4h-1.4zM183.3 41.9h1.4v1.4h-1.4zM181.0 43.8h1.4v1.4h-1.4z"/><path fill="#b08080" d="M173.8 39.5h1.4v1.4h-1.4zM178.9 38.1h1.4v1.4h-1.4zM172.6 41.5h1.4v1.4h-1.4zM173.6 39.7h1.4v1.4h-1.4zM184.8 40.3h1.4v1.4h-1.4zM173.6 42.5h1.4v1.4h-1.4zM178.4 36.1h1.4v1.4h-1.4zM177.1 38.7h1.4v1.4h-1.4zM172.0 37.2h1.4v1.4h-1.4zM174.3 38.8h1.4v1.4h-1.4zM180.1 43.8h1.4v1.4h-1.4z"/><path fill="#8a6a7a" d="M177.8 43.4h1.4v1.4h-1.4zM173.5 37.7h1.4v1.4h-1.4zM175.7 40.6h1.4v1.4h-1.4zM175.7 41.7h1.4v1.4h-1.4zM179.2 40.9h1.4v1.4h-1.4zM173.7 43.2h1.4v1.4h-1.4zM172.9 38.8h1.4v1.4h-1.4zM182.4 39.7h1.4v1.4h-1.4zM182.0 39.8h1.4v1.4h-1.4z"/><path fill="#7a6a8a" d="M181.4 42.8h1.4v1.4h-1.4zM177.0 40.1h1.4v1.4h-1.4zM181.2 40.8h1.4v1.4h-1.4zM176.2 43.9h1.4v1.4h-1.4zM180.2 37.9h1.4v1.4h-1.4zM184.0 42.6h1.4v1.4h-1.4zM176.9 42.0h1.4v1.4h-1.4z"/><path fill="#c0a090" d="M172.0 37.7h1.4v1.4h-1.4zM176.7 36.3h1.4v1.4h-1.4zM182.4 44.0h1.4v1.4h-1.4zM182.2 42.1h1.4v1.4h-1.4zM173.3 42.2h1.4v1.4h-1.4zM178.8 38.5h1.4v1.4h-1.4zM175.4 43.1h1.4v1.4h-1.4zM183.0 40.3h1.4v1.4h-1.4zM177.9 37.6h1.4v1.4h-1.4z"/>
<path fill="#9a70b0" d="M178.0 90.1h1.3v1.3h-1.3zM180.9 71.5h1.3v1.3h-1.3zM199.4 71.0h1.3v1.3h-1.3zM196.9 93.8h1.3v1.3h-1.3zM180.9 59.5h1.3v1.3h-1.3zM184.2 51.3h1.3v1.3h-1.3zM173.1 40.4h1.3v1.3h-1.3zM199.3 65.9h1.3v1.3h-1.3zM171.1 47.0h1.3v1.3h-1.3zM201.0 63.5h1.3v1.3h-1.3zM198.7 57.1h1.3v1.3h-1.3zM209.9 86.7h1.3v1.3h-1.3zM175.1 40.6h1.3v1.3h-1.3zM178.2 68.3h1.3v1.3h-1.3zM178.5 46.8h1.3v1.3h-1.3zM183.0 75.7h1.3v1.3h-1.3zM216.4 72.6h1.3v1.3h-1.3z"/><path fill="#d8e49a" d="M170.8 85.1h1.3v1.3h-1.3zM217.4 68.4h1.3v1.3h-1.3zM180.4 57.6h1.3v1.3h-1.3zM206.4 91.2h1.3v1.3h-1.3zM178.1 67.1h1.3v1.3h-1.3zM215.3 69.7h1.3v1.3h-1.3zM180.5 62.1h1.3v1.3h-1.3zM197.4 77.0h1.3v1.3h-1.3zM208.8 87.3h1.3v1.3h-1.3zM218.8 80.3h1.3v1.3h-1.3zM182.2 56.9h1.3v1.3h-1.3zM206.6 94.4h1.3v1.3h-1.3zM207.9 62.2h1.3v1.3h-1.3zM188.9 44.9h1.3v1.3h-1.3zM193.4 80.0h1.3v1.3h-1.3zM179.1 45.0h1.3v1.3h-1.3zM189.1 67.7h1.3v1.3h-1.3zM178.4 61.7h1.3v1.3h-1.3zM221.6 79.1h1.3v1.3h-1.3zM172.1 91.2h1.3v1.3h-1.3zM204.6 67.1h1.3v1.3h-1.3zM170.6 41.3h1.3v1.3h-1.3zM195.1 55.0h1.3v1.3h-1.3zM211.0 62.6h1.3v1.3h-1.3zM194.1 69.5h1.3v1.3h-1.3zM187.7 51.3h1.3v1.3h-1.3zM181.6 40.6h1.3v1.3h-1.3zM218.5 69.4h1.3v1.3h-1.3z"/><path fill="#c0c0c0" d="M199.6 64.1h1.3v1.3h-1.3zM193.1 70.7h1.3v1.3h-1.3zM174.3 88.3h1.3v1.3h-1.3zM183.4 94.2h1.3v1.3h-1.3zM215.5 84.5h1.3v1.3h-1.3zM173.3 41.7h1.3v1.3h-1.3zM176.5 84.8h1.3v1.3h-1.3zM186.5 48.7h1.3v1.3h-1.3zM179.1 37.0h1.3v1.3h-1.3zM213.2 90.5h1.3v1.3h-1.3zM204.4 82.7h1.3v1.3h-1.3zM189.7 54.4h1.3v1.3h-1.3zM180.4 55.0h1.3v1.3h-1.3zM197.1 45.4h1.3v1.3h-1.3zM171.2 75.8h1.3v1.3h-1.3zM175.3 50.0h1.3v1.3h-1.3zM220.0 81.0h1.3v1.3h-1.3zM180.6 68.9h1.3v1.3h-1.3z"/><path fill="#c8d890" d="M174.6 89.0h1.3v1.3h-1.3zM190.0 78.3h1.3v1.3h-1.3zM204.3 50.9h1.3v1.3h-1.3zM172.0 50.8h1.3v1.3h-1.3zM202.1 95.1h1.3v1.3h-1.3zM219.2 70.8h1.3v1.3h-1.3zM175.9 63.8h1.3v1.3h-1.3zM187.5 73.8h1.3v1.3h-1.3zM181.4 48.0h1.3v1.3h-1.3zM210.5 87.5h1.3v1.3h-1.3zM184.7 94.9h1.3v1.3h-1.3zM185.8 55.2h1.3v1.3h-1.3zM183.0 70.6h1.3v1.3h-1.3zM221.1 83.5h1.3v1.3h-1.3zM176.2 49.7h1.3v1.3h-1.3zM187.8 65.9h1.3v1.3h-1.3zM190.2 79.4h1.3v1.3h-1.3zM174.4 71.5h1.3v1.3h-1.3zM216.7 64.1h1.3v1.3h-1.3zM207.6 58.1h1.3v1.3h-1.3zM192.9 54.8h1.3v1.3h-1.3zM216.9 76.3h1.3v1.3h-1.3zM211.9 57.7h1.3v1.3h-1.3z"/><path fill="#f0b070" d="M200.1 79.5h1.3v1.3h-1.3zM214.2 85.0h1.3v1.3h-1.3zM179.1 92.9h1.3v1.3h-1.3zM206.5 52.8h1.3v1.3h-1.3zM182.0 38.1h1.3v1.3h-1.3zM194.8 54.9h1.3v1.3h-1.3zM209.4 73.8h1.3v1.3h-1.3zM221.0 89.7h1.3v1.3h-1.3zM178.2 40.2h1.3v1.3h-1.3zM186.2 40.7h1.3v1.3h-1.3zM212.2 63.5h1.3v1.3h-1.3zM212.7 67.2h1.3v1.3h-1.3zM202.0 53.7h1.3v1.3h-1.3zM209.8 91.3h1.3v1.3h-1.3z"/><path fill="#7a9a5a" d="M178.5 75.5h1.3v1.3h-1.3zM169.6 70.3h1.3v1.3h-1.3zM213.8 74.4h1.3v1.3h-1.3zM195.2 93.7h1.3v1.3h-1.3zM212.1 68.6h1.3v1.3h-1.3zM180.6 78.8h1.3v1.3h-1.3zM218.6 86.6h1.3v1.3h-1.3zM193.0 77.6h1.3v1.3h-1.3zM194.6 93.1h1.3v1.3h-1.3zM204.8 75.4h1.3v1.3h-1.3zM181.6 72.2h1.3v1.3h-1.3zM195.1 67.0h1.3v1.3h-1.3zM193.9 70.1h1.3v1.3h-1.3zM183.3 85.7h1.3v1.3h-1.3zM193.4 56.8h1.3v1.3h-1.3zM191.0 44.4h1.3v1.3h-1.3zM186.3 85.0h1.3v1.3h-1.3zM204.0 74.4h1.3v1.3h-1.3zM181.8 52.3h1.3v1.3h-1.3zM185.1 74.7h1.3v1.3h-1.3zM214.0 79.3h1.3v1.3h-1.3zM186.7 83.5h1.3v1.3h-1.3zM197.5 58.1h1.3v1.3h-1.3zM186.5 65.0h1.3v1.3h-1.3zM177.2 78.2h1.3v1.3h-1.3zM183.4 80.8h1.3v1.3h-1.3zM197.0 85.2h1.3v1.3h-1.3zM219.0 84.6h1.3v1.3h-1.3zM194.7 64.1h1.3v1.3h-1.3zM194.8 90.3h1.3v1.3h-1.3zM201.3 62.3h1.3v1.3h-1.3zM181.2 89.3h1.3v1.3h-1.3zM192.8 59.2h1.3v1.3h-1.3zM185.6 56.1h1.3v1.3h-1.3zM170.6 66.5h1.3v1.3h-1.3z"/><path fill="#e8e0b0" d="M194.7 89.2h1.3v1.3h-1.3zM177.0 90.9h1.3v1.3h-1.3zM196.5 73.5h1.3v1.3h-1.3zM175.5 77.9h1.3v1.3h-1.3zM183.1 41.7h1.3v1.3h-1.3zM181.4 81.0h1.3v1.3h-1.3zM195.9 95.9h1.3v1.3h-1.3zM177.7 85.1h1.3v1.3h-1.3zM173.5 90.2h1.3v1.3h-1.3zM196.9 89.4h1.3v1.3h-1.3zM200.8 92.9h1.3v1.3h-1.3zM215.2 88.9h1.3v1.3h-1.3zM171.8 90.2h1.3v1.3h-1.3zM178.1 41.8h1.3v1.3h-1.3zM174.4 76.2h1.3v1.3h-1.3zM197.6 54.7h1.3v1.3h-1.3zM176.3 64.3h1.3v1.3h-1.3zM213.7 88.1h1.3v1.3h-1.3zM191.5 74.5h1.3v1.3h-1.3zM203.8 89.6h1.3v1.3h-1.3z"/><path fill="#b8dc8a" d="M183.5 45.6h1.3v1.3h-1.3zM215.2 62.2h1.3v1.3h-1.3zM204.3 49.4h1.3v1.3h-1.3zM190.5 56.9h1.3v1.3h-1.3zM181.4 40.2h1.3v1.3h-1.3zM184.8 59.2h1.3v1.3h-1.3zM204.0 64.7h1.3v1.3h-1.3zM172.6 62.3h1.3v1.3h-1.3zM173.8 49.4h1.3v1.3h-1.3zM189.5 46.1h1.3v1.3h-1.3zM176.7 55.6h1.3v1.3h-1.3zM180.8 56.0h1.3v1.3h-1.3zM202.0 95.7h1.3v1.3h-1.3zM206.2 75.9h1.3v1.3h-1.3zM198.5 56.5h1.3v1.3h-1.3zM175.7 89.5h1.3v1.3h-1.3zM173.0 63.1h1.3v1.3h-1.3zM212.2 72.6h1.3v1.3h-1.3z"/><path fill="#a0c870" d="M174.6 44.9h1.3v1.3h-1.3zM194.0 76.6h1.3v1.3h-1.3zM198.4 56.8h1.3v1.3h-1.3zM203.2 58.4h1.3v1.3h-1.3zM198.0 75.3h1.3v1.3h-1.3zM182.6 91.4h1.3v1.3h-1.3zM208.4 75.3h1.3v1.3h-1.3zM194.7 80.8h1.3v1.3h-1.3zM190.2 52.0h1.3v1.3h-1.3zM177.4 44.6h1.3v1.3h-1.3zM216.4 61.6h1.3v1.3h-1.3zM193.4 66.3h1.3v1.3h-1.3zM201.0 84.4h1.3v1.3h-1.3zM204.1 61.1h1.3v1.3h-1.3zM203.3 53.9h1.3v1.3h-1.3zM191.9 78.7h1.3v1.3h-1.3zM176.5 87.8h1.3v1.3h-1.3zM198.7 91.0h1.3v1.3h-1.3zM201.1 86.1h1.3v1.3h-1.3zM179.3 53.8h1.3v1.3h-1.3zM218.0 93.6h1.3v1.3h-1.3z"/><path fill="#8ab8d0" d="M172.3 69.1h1.3v1.3h-1.3zM174.2 52.8h1.3v1.3h-1.3zM183.1 44.4h1.3v1.3h-1.3zM179.0 42.4h1.3v1.3h-1.3zM205.1 55.1h1.3v1.3h-1.3zM172.6 47.8h1.3v1.3h-1.3zM180.8 41.3h1.3v1.3h-1.3zM207.3 64.8h1.3v1.3h-1.3zM215.8 93.8h1.3v1.3h-1.3zM190.0 87.9h1.3v1.3h-1.3zM210.7 54.4h1.3v1.3h-1.3zM198.2 79.9h1.3v1.3h-1.3zM185.1 81.2h1.3v1.3h-1.3zM187.3 92.0h1.3v1.3h-1.3zM214.7 63.8h1.3v1.3h-1.3zM194.0 74.6h1.3v1.3h-1.3zM187.9 83.6h1.3v1.3h-1.3zM181.7 55.4h1.3v1.3h-1.3zM202.7 60.0h1.3v1.3h-1.3zM178.6 45.4h1.3v1.3h-1.3zM215.8 74.8h1.3v1.3h-1.3zM212.7 93.6h1.3v1.3h-1.3z"/><path fill="#f0d070" d="M208.7 76.6h1.3v1.3h-1.3zM190.0 46.1h1.3v1.3h-1.3zM190.7 78.2h1.3v1.3h-1.3zM189.0 79.7h1.3v1.3h-1.3zM216.5 90.9h1.3v1.3h-1.3zM175.7 65.1h1.3v1.3h-1.3zM202.0 75.4h1.3v1.3h-1.3zM173.2 81.6h1.3v1.3h-1.3zM170.3 76.9h1.3v1.3h-1.3zM170.9 84.3h1.3v1.3h-1.3zM174.0 51.3h1.3v1.3h-1.3zM193.9 47.9h1.3v1.3h-1.3zM184.9 82.4h1.3v1.3h-1.3zM218.2 64.7h1.3v1.3h-1.3zM190.6 48.5h1.3v1.3h-1.3z"/><path fill="#60a0c0" d="M219.7 82.1h1.3v1.3h-1.3zM217.2 91.6h1.3v1.3h-1.3zM215.9 64.0h1.3v1.3h-1.3zM183.8 92.2h1.3v1.3h-1.3zM189.3 80.6h1.3v1.3h-1.3zM172.1 76.2h1.3v1.3h-1.3zM188.9 64.5h1.3v1.3h-1.3zM182.3 46.6h1.3v1.3h-1.3zM190.3 89.6h1.3v1.3h-1.3zM209.3 87.8h1.3v1.3h-1.3zM184.0 94.8h1.3v1.3h-1.3zM181.9 80.5h1.3v1.3h-1.3zM189.9 66.0h1.3v1.3h-1.3zM201.3 82.5h1.3v1.3h-1.3zM187.5 67.7h1.3v1.3h-1.3zM176.5 88.4h1.3v1.3h-1.3zM196.4 67.7h1.3v1.3h-1.3zM172.7 64.1h1.3v1.3h-1.3zM212.2 54.9h1.3v1.3h-1.3zM186.4 54.0h1.3v1.3h-1.3zM193.5 92.0h1.3v1.3h-1.3zM198.0 78.4h1.3v1.3h-1.3zM175.1 85.2h1.3v1.3h-1.3zM177.4 87.6h1.3v1.3h-1.3zM186.3 80.1h1.3v1.3h-1.3zM202.1 90.3h1.3v1.3h-1.3zM188.0 87.0h1.3v1.3h-1.3zM214.6 80.7h1.3v1.3h-1.3zM173.5 61.4h1.3v1.3h-1.3z"/>
<path fill="#c8d890" d="M180.9 54.7h1.4v1.4h-1.4zM184.4 58.5h1.4v1.4h-1.4zM175.1 55.7h1.4v1.4h-1.4zM177.7 84.1h1.4v1.4h-1.4zM176.9 55.1h1.4v1.4h-1.4zM178.7 50.9h1.4v1.4h-1.4zM188.6 54.4h1.4v1.4h-1.4zM180.9 52.4h1.4v1.4h-1.4zM184.5 79.6h1.4v1.4h-1.4zM173.3 90.3h1.4v1.4h-1.4zM178.1 88.2h1.4v1.4h-1.4zM177.7 55.2h1.4v1.4h-1.4zM185.9 55.7h1.4v1.4h-1.4zM185.9 83.5h1.4v1.4h-1.4zM175.3 86.9h1.4v1.4h-1.4zM175.8 69.1h1.4v1.4h-1.4zM174.9 66.4h1.4v1.4h-1.4zM176.0 79.5h1.4v1.4h-1.4zM182.1 75.5h1.4v1.4h-1.4zM181.4 82.4h1.4v1.4h-1.4zM187.6 57.3h1.4v1.4h-1.4zM170.8 79.7h1.4v1.4h-1.4zM171.8 81.3h1.4v1.4h-1.4zM171.6 69.4h1.4v1.4h-1.4zM175.3 88.4h1.4v1.4h-1.4zM170.7 65.6h1.4v1.4h-1.4zM171.6 69.5h1.4v1.4h-1.4zM189.0 69.2h1.4v1.4h-1.4zM187.9 87.2h1.4v1.4h-1.4zM183.5 73.1h1.4v1.4h-1.4zM192.2 58.0h1.4v1.4h-1.4zM181.6 48.4h1.4v1.4h-1.4zM174.6 49.7h1.4v1.4h-1.4zM180.8 74.9h1.4v1.4h-1.4zM185.0 77.6h1.4v1.4h-1.4zM180.2 77.8h1.4v1.4h-1.4zM178.9 68.2h1.4v1.4h-1.4zM173.0 60.4h1.4v1.4h-1.4zM180.9 87.6h1.4v1.4h-1.4z"/><path fill="#b8dc8a" d="M172.9 77.6h1.4v1.4h-1.4zM176.4 53.8h1.4v1.4h-1.4zM181.7 64.7h1.4v1.4h-1.4zM180.5 70.5h1.4v1.4h-1.4zM182.6 80.0h1.4v1.4h-1.4zM169.6 68.4h1.4v1.4h-1.4zM182.1 54.4h1.4v1.4h-1.4zM181.6 87.1h1.4v1.4h-1.4zM181.2 51.5h1.4v1.4h-1.4zM180.0 89.1h1.4v1.4h-1.4zM182.9 48.0h1.4v1.4h-1.4zM175.2 54.0h1.4v1.4h-1.4zM179.0 63.4h1.4v1.4h-1.4zM174.9 79.5h1.4v1.4h-1.4zM180.6 71.4h1.4v1.4h-1.4zM189.1 61.0h1.4v1.4h-1.4zM171.0 51.4h1.4v1.4h-1.4zM172.1 62.8h1.4v1.4h-1.4zM193.8 68.3h1.4v1.4h-1.4zM174.2 90.3h1.4v1.4h-1.4zM177.6 88.2h1.4v1.4h-1.4zM179.1 56.2h1.4v1.4h-1.4zM172.6 62.0h1.4v1.4h-1.4zM190.3 62.5h1.4v1.4h-1.4zM170.8 74.8h1.4v1.4h-1.4zM172.9 66.2h1.4v1.4h-1.4zM175.1 50.6h1.4v1.4h-1.4zM176.8 81.7h1.4v1.4h-1.4z"/><path fill="#8ab8d0" d="M179.9 76.2h1.4v1.4h-1.4zM188.1 76.0h1.4v1.4h-1.4zM180.2 66.1h1.4v1.4h-1.4zM183.6 73.5h1.4v1.4h-1.4zM180.3 82.2h1.4v1.4h-1.4zM176.8 50.4h1.4v1.4h-1.4zM190.2 86.2h1.4v1.4h-1.4zM185.4 87.5h1.4v1.4h-1.4zM181.1 85.0h1.4v1.4h-1.4zM189.9 93.5h1.4v1.4h-1.4zM191.8 69.8h1.4v1.4h-1.4zM177.8 51.1h1.4v1.4h-1.4zM175.4 54.7h1.4v1.4h-1.4zM179.5 73.0h1.4v1.4h-1.4zM174.8 92.8h1.4v1.4h-1.4zM184.2 49.4h1.4v1.4h-1.4zM182.9 73.4h1.4v1.4h-1.4zM179.4 81.3h1.4v1.4h-1.4zM182.4 79.5h1.4v1.4h-1.4zM173.9 54.9h1.4v1.4h-1.4zM182.0 52.6h1.4v1.4h-1.4zM186.2 76.6h1.4v1.4h-1.4zM182.6 64.6h1.4v1.4h-1.4zM185.8 89.0h1.4v1.4h-1.4zM187.6 52.6h1.4v1.4h-1.4zM192.8 57.9h1.4v1.4h-1.4zM173.2 62.0h1.4v1.4h-1.4zM174.2 57.2h1.4v1.4h-1.4zM181.0 53.6h1.4v1.4h-1.4zM186.1 61.1h1.4v1.4h-1.4zM184.0 78.6h1.4v1.4h-1.4zM174.7 87.5h1.4v1.4h-1.4zM177.2 87.3h1.4v1.4h-1.4zM173.6 78.5h1.4v1.4h-1.4zM192.8 87.3h1.4v1.4h-1.4z"/><path fill="#d8e49a" d="M182.1 69.8h1.4v1.4h-1.4zM193.7 81.9h1.4v1.4h-1.4zM192.9 68.5h1.4v1.4h-1.4zM172.9 55.4h1.4v1.4h-1.4zM178.1 65.7h1.4v1.4h-1.4zM172.9 73.7h1.4v1.4h-1.4zM187.0 77.5h1.4v1.4h-1.4zM180.0 92.1h1.4v1.4h-1.4zM173.9 53.9h1.4v1.4h-1.4zM192.0 76.7h1.4v1.4h-1.4zM186.0 80.1h1.4v1.4h-1.4zM173.8 87.2h1.4v1.4h-1.4zM173.1 52.6h1.4v1.4h-1.4zM184.4 56.0h1.4v1.4h-1.4zM175.8 84.5h1.4v1.4h-1.4zM180.1 92.0h1.4v1.4h-1.4zM183.4 68.8h1.4v1.4h-1.4zM187.3 85.2h1.4v1.4h-1.4zM185.8 59.8h1.4v1.4h-1.4zM186.6 50.5h1.4v1.4h-1.4zM183.4 60.9h1.4v1.4h-1.4zM184.8 81.7h1.4v1.4h-1.4zM189.9 78.6h1.4v1.4h-1.4zM187.5 60.1h1.4v1.4h-1.4zM187.4 64.3h1.4v1.4h-1.4zM175.9 64.0h1.4v1.4h-1.4zM187.1 68.3h1.4v1.4h-1.4zM185.4 70.6h1.4v1.4h-1.4zM173.6 63.9h1.4v1.4h-1.4zM183.1 82.5h1.4v1.4h-1.4zM189.0 82.0h1.4v1.4h-1.4zM188.2 88.7h1.4v1.4h-1.4zM194.2 71.7h1.4v1.4h-1.4zM172.2 82.4h1.4v1.4h-1.4zM187.8 90.3h1.4v1.4h-1.4zM182.3 74.0h1.4v1.4h-1.4zM180.3 83.9h1.4v1.4h-1.4zM181.9 77.9h1.4v1.4h-1.4zM183.1 76.3h1.4v1.4h-1.4zM179.5 76.0h1.4v1.4h-1.4zM181.7 58.3h1.4v1.4h-1.4zM174.6 63.5h1.4v1.4h-1.4zM193.6 61.2h1.4v1.4h-1.4z"/><path fill="#7a9a5a" d="M188.6 85.8h1.4v1.4h-1.4zM188.0 81.5h1.4v1.4h-1.4zM183.0 49.3h1.4v1.4h-1.4zM181.2 71.7h1.4v1.4h-1.4zM176.5 71.1h1.4v1.4h-1.4zM175.9 82.5h1.4v1.4h-1.4zM170.3 71.1h1.4v1.4h-1.4zM178.9 51.8h1.4v1.4h-1.4zM171.7 71.0h1.4v1.4h-1.4zM174.7 76.1h1.4v1.4h-1.4zM189.4 80.0h1.4v1.4h-1.4zM184.4 61.7h1.4v1.4h-1.4zM194.1 79.9h1.4v1.4h-1.4zM186.2 65.7h1.4v1.4h-1.4zM170.0 75.9h1.4v1.4h-1.4zM184.0 71.2h1.4v1.4h-1.4zM177.7 52.2h1.4v1.4h-1.4zM172.5 80.2h1.4v1.4h-1.4zM176.2 84.3h1.4v1.4h-1.4zM187.5 88.7h1.4v1.4h-1.4zM193.9 68.0h1.4v1.4h-1.4zM186.2 77.8h1.4v1.4h-1.4zM181.1 81.8h1.4v1.4h-1.4zM189.6 60.2h1.4v1.4h-1.4zM193.8 83.7h1.4v1.4h-1.4zM179.6 69.2h1.4v1.4h-1.4zM178.0 65.0h1.4v1.4h-1.4zM173.4 91.3h1.4v1.4h-1.4zM173.6 78.3h1.4v1.4h-1.4zM190.1 79.5h1.4v1.4h-1.4zM175.0 51.5h1.4v1.4h-1.4zM187.3 49.7h1.4v1.4h-1.4zM176.6 60.7h1.4v1.4h-1.4zM192.5 86.2h1.4v1.4h-1.4zM177.5 52.5h1.4v1.4h-1.4zM188.8 91.3h1.4v1.4h-1.4zM171.8 50.4h1.4v1.4h-1.4zM186.9 64.6h1.4v1.4h-1.4z"/><path fill="#a0c870" d="M173.4 84.9h1.4v1.4h-1.4zM191.0 90.4h1.4v1.4h-1.4zM173.6 57.7h1.4v1.4h-1.4zM182.3 69.9h1.4v1.4h-1.4zM189.4 85.0h1.4v1.4h-1.4zM186.5 62.6h1.4v1.4h-1.4zM179.7 61.4h1.4v1.4h-1.4zM176.2 65.1h1.4v1.4h-1.4zM173.3 80.1h1.4v1.4h-1.4zM183.1 57.2h1.4v1.4h-1.4zM177.3 90.9h1.4v1.4h-1.4zM188.9 87.6h1.4v1.4h-1.4zM175.5 91.7h1.4v1.4h-1.4zM172.1 61.2h1.4v1.4h-1.4zM190.5 76.2h1.4v1.4h-1.4zM182.9 85.7h1.4v1.4h-1.4zM174.0 86.2h1.4v1.4h-1.4zM177.0 79.9h1.4v1.4h-1.4zM173.7 87.0h1.4v1.4h-1.4zM184.4 93.9h1.4v1.4h-1.4zM192.3 69.9h1.4v1.4h-1.4zM186.2 75.4h1.4v1.4h-1.4zM173.8 66.3h1.4v1.4h-1.4zM185.4 51.4h1.4v1.4h-1.4zM189.3 53.8h1.4v1.4h-1.4zM185.5 86.2h1.4v1.4h-1.4zM193.4 84.6h1.4v1.4h-1.4zM186.4 51.0h1.4v1.4h-1.4zM171.5 90.1h1.4v1.4h-1.4zM182.4 54.2h1.4v1.4h-1.4z"/><path fill="#f0d070" d="M175.7 72.1h1.4v1.4h-1.4zM177.2 71.5h1.4v1.4h-1.4zM174.8 85.8h1.4v1.4h-1.4zM183.0 66.6h1.4v1.4h-1.4zM170.8 86.0h1.4v1.4h-1.4zM194.2 81.2h1.4v1.4h-1.4zM192.2 74.2h1.4v1.4h-1.4zM181.7 80.3h1.4v1.4h-1.4zM175.9 76.6h1.4v1.4h-1.4zM182.8 82.8h1.4v1.4h-1.4zM175.8 50.2h1.4v1.4h-1.4zM177.3 90.0h1.4v1.4h-1.4zM188.3 75.6h1.4v1.4h-1.4zM191.9 75.6h1.4v1.4h-1.4zM188.0 60.3h1.4v1.4h-1.4zM175.7 54.1h1.4v1.4h-1.4zM187.0 67.9h1.4v1.4h-1.4zM179.5 87.0h1.4v1.4h-1.4zM190.9 77.9h1.4v1.4h-1.4zM184.8 79.0h1.4v1.4h-1.4zM172.7 76.7h1.4v1.4h-1.4zM181.6 73.7h1.4v1.4h-1.4zM180.6 58.8h1.4v1.4h-1.4zM183.1 76.7h1.4v1.4h-1.4zM191.1 61.8h1.4v1.4h-1.4zM191.7 80.9h1.4v1.4h-1.4zM173.2 55.6h1.4v1.4h-1.4zM179.0 54.4h1.4v1.4h-1.4zM187.3 87.7h1.4v1.4h-1.4zM190.1 70.1h1.4v1.4h-1.4zM176.9 73.5h1.4v1.4h-1.4zM182.2 56.3h1.4v1.4h-1.4zM177.1 65.0h1.4v1.4h-1.4zM190.4 79.4h1.4v1.4h-1.4z"/><path fill="#9a70b0" d="M174.7 87.4h1.4v1.4h-1.4zM191.0 64.4h1.4v1.4h-1.4zM179.4 64.3h1.4v1.4h-1.4zM177.7 81.1h1.4v1.4h-1.4zM192.3 66.6h1.4v1.4h-1.4zM172.9 64.9h1.4v1.4h-1.4zM177.1 57.8h1.4v1.4h-1.4zM184.3 63.5h1.4v1.4h-1.4zM184.0 53.7h1.4v1.4h-1.4zM176.2 52.8h1.4v1.4h-1.4zM177.9 51.9h1.4v1.4h-1.4zM186.0 60.1h1.4v1.4h-1.4zM188.0 56.5h1.4v1.4h-1.4zM173.5 79.4h1.4v1.4h-1.4zM170.2 67.3h1.4v1.4h-1.4zM172.5 50.5h1.4v1.4h-1.4zM172.6 73.4h1.4v1.4h-1.4zM187.1 90.3h1.4v1.4h-1.4zM191.0 68.4h1.4v1.4h-1.4zM174.6 62.2h1.4v1.4h-1.4zM175.0 63.2h1.4v1.4h-1.4zM190.4 73.6h1.4v1.4h-1.4zM190.4 63.6h1.4v1.4h-1.4zM178.8 73.4h1.4v1.4h-1.4zM187.6 78.9h1.4v1.4h-1.4zM173.2 84.0h1.4v1.4h-1.4zM177.2 78.2h1.4v1.4h-1.4zM174.5 49.1h1.4v1.4h-1.4zM179.6 92.0h1.4v1.4h-1.4zM190.0 90.8h1.4v1.4h-1.4zM171.3 65.0h1.4v1.4h-1.4zM185.5 87.3h1.4v1.4h-1.4zM173.1 72.2h1.4v1.4h-1.4zM172.7 86.7h1.4v1.4h-1.4zM187.3 65.2h1.4v1.4h-1.4zM193.8 90.1h1.4v1.4h-1.4zM185.4 72.7h1.4v1.4h-1.4zM170.4 56.5h1.4v1.4h-1.4zM176.4 78.9h1.4v1.4h-1.4z"/><path fill="#f0b070" d="M186.2 54.1h1.4v1.4h-1.4zM181.5 92.7h1.4v1.4h-1.4zM184.7 86.0h1.4v1.4h-1.4zM185.0 78.8h1.4v1.4h-1.4zM179.3 92.9h1.4v1.4h-1.4zM175.8 71.6h1.4v1.4h-1.4zM185.1 72.9h1.4v1.4h-1.4zM174.6 67.3h1.4v1.4h-1.4zM178.9 78.6h1.4v1.4h-1.4zM183.4 52.0h1.4v1.4h-1.4zM188.6 62.6h1.4v1.4h-1.4zM171.7 71.1h1.4v1.4h-1.4zM171.2 84.7h1.4v1.4h-1.4zM171.8 71.4h1.4v1.4h-1.4zM175.6 52.1h1.4v1.4h-1.4zM192.6 86.4h1.4v1.4h-1.4zM174.2 72.2h1.4v1.4h-1.4zM180.4 65.3h1.4v1.4h-1.4zM173.5 71.8h1.4v1.4h-1.4zM175.1 85.2h1.4v1.4h-1.4zM186.4 79.7h1.4v1.4h-1.4zM183.1 53.7h1.4v1.4h-1.4zM191.9 89.1h1.4v1.4h-1.4zM180.8 64.0h1.4v1.4h-1.4zM179.3 55.0h1.4v1.4h-1.4zM181.2 73.1h1.4v1.4h-1.4zM175.6 51.4h1.4v1.4h-1.4zM193.0 71.9h1.4v1.4h-1.4zM182.4 61.7h1.4v1.4h-1.4zM178.8 56.9h1.4v1.4h-1.4zM191.1 57.0h1.4v1.4h-1.4zM189.6 64.8h1.4v1.4h-1.4zM184.7 56.6h1.4v1.4h-1.4zM185.8 52.3h1.4v1.4h-1.4z"/><path fill="#e8e0b0" d="M180.4 54.1h1.4v1.4h-1.4zM179.7 87.6h1.4v1.4h-1.4zM185.4 69.6h1.4v1.4h-1.4zM175.7 76.6h1.4v1.4h-1.4zM188.9 73.6h1.4v1.4h-1.4zM179.7 79.4h1.4v1.4h-1.4zM193.3 93.2h1.4v1.4h-1.4zM189.0 86.7h1.4v1.4h-1.4zM173.0 83.8h1.4v1.4h-1.4zM171.3 61.3h1.4v1.4h-1.4zM171.5 60.8h1.4v1.4h-1.4zM174.6 53.1h1.4v1.4h-1.4zM173.3 71.4h1.4v1.4h-1.4zM188.6 87.4h1.4v1.4h-1.4zM171.4 62.0h1.4v1.4h-1.4zM178.3 48.9h1.4v1.4h-1.4zM180.3 66.4h1.4v1.4h-1.4zM177.6 79.9h1.4v1.4h-1.4zM187.2 57.2h1.4v1.4h-1.4zM175.1 75.4h1.4v1.4h-1.4zM191.4 53.1h1.4v1.4h-1.4zM177.4 78.2h1.4v1.4h-1.4zM184.3 55.7h1.4v1.4h-1.4zM193.6 85.1h1.4v1.4h-1.4zM171.3 77.3h1.4v1.4h-1.4zM171.0 50.8h1.4v1.4h-1.4zM181.4 65.4h1.4v1.4h-1.4zM185.1 75.8h1.4v1.4h-1.4zM174.9 67.4h1.4v1.4h-1.4zM180.3 62.9h1.4v1.4h-1.4zM192.2 61.8h1.4v1.4h-1.4zM186.2 61.2h1.4v1.4h-1.4zM180.2 60.8h1.4v1.4h-1.4zM192.1 71.9h1.4v1.4h-1.4zM192.9 59.6h1.4v1.4h-1.4z"/><path fill="#c0c0c0" d="M184.8 54.8h1.4v1.4h-1.4zM185.9 82.6h1.4v1.4h-1.4zM189.1 75.6h1.4v1.4h-1.4zM189.3 50.5h1.4v1.4h-1.4zM176.0 90.7h1.4v1.4h-1.4zM180.0 74.7h1.4v1.4h-1.4zM172.4 60.9h1.4v1.4h-1.4zM178.5 84.6h1.4v1.4h-1.4zM186.7 70.4h1.4v1.4h-1.4zM194.1 77.2h1.4v1.4h-1.4zM185.5 54.8h1.4v1.4h-1.4zM182.9 94.8h1.4v1.4h-1.4zM172.2 65.6h1.4v1.4h-1.4zM190.9 75.5h1.4v1.4h-1.4zM181.9 67.4h1.4v1.4h-1.4zM173.2 54.7h1.4v1.4h-1.4zM177.6 58.8h1.4v1.4h-1.4zM185.3 53.9h1.4v1.4h-1.4zM176.5 62.1h1.4v1.4h-1.4zM174.5 92.8h1.4v1.4h-1.4zM183.1 76.2h1.4v1.4h-1.4zM176.6 88.7h1.4v1.4h-1.4zM180.2 69.7h1.4v1.4h-1.4zM174.3 49.1h1.4v1.4h-1.4zM181.3 50.4h1.4v1.4h-1.4zM171.3 76.8h1.4v1.4h-1.4zM187.9 52.0h1.4v1.4h-1.4zM177.4 73.7h1.4v1.4h-1.4zM186.0 74.3h1.4v1.4h-1.4z"/><path fill="#60a0c0" d="M178.0 72.8h1.4v1.4h-1.4zM185.3 70.2h1.4v1.4h-1.4zM188.9 59.8h1.4v1.4h-1.4zM182.8 60.5h1.4v1.4h-1.4zM173.4 90.2h1.4v1.4h-1.4zM192.8 87.8h1.4v1.4h-1.4zM178.8 79.1h1.4v1.4h-1.4zM171.3 68.8h1.4v1.4h-1.4zM188.3 69.2h1.4v1.4h-1.4zM172.8 75.2h1.4v1.4h-1.4zM178.9 73.6h1.4v1.4h-1.4zM186.6 72.0h1.4v1.4h-1.4zM191.3 72.0h1.4v1.4h-1.4zM178.9 65.1h1.4v1.4h-1.4zM183.1 64.5h1.4v1.4h-1.4zM178.0 80.7h1.4v1.4h-1.4zM174.8 54.6h1.4v1.4h-1.4zM187.5 53.4h1.4v1.4h-1.4zM177.0 64.6h1.4v1.4h-1.4zM169.7 73.6h1.4v1.4h-1.4zM189.4 58.3h1.4v1.4h-1.4zM187.7 70.7h1.4v1.4h-1.4zM180.0 56.5h1.4v1.4h-1.4zM187.7 52.8h1.4v1.4h-1.4zM174.5 89.4h1.4v1.4h-1.4zM170.8 65.4h1.4v1.4h-1.4zM190.1 74.5h1.4v1.4h-1.4zM174.4 90.4h1.4v1.4h-1.4zM184.4 53.6h1.4v1.4h-1.4zM174.9 57.7h1.4v1.4h-1.4zM187.9 89.3h1.4v1.4h-1.4zM179.0 76.6h1.4v1.4h-1.4zM180.3 75.4h1.4v1.4h-1.4zM179.1 67.7h1.4v1.4h-1.4zM191.6 69.3h1.4v1.4h-1.4zM174.9 88.0h1.4v1.4h-1.4z"/>
<path fill="#b8dc8a" d="M205.0 66.7h1.4v1.4h-1.4zM201.4 86.6h1.4v1.4h-1.4zM219.2 85.1h1.4v1.4h-1.4zM208.6 86.7h1.4v1.4h-1.4zM214.1 67.6h1.4v1.4h-1.4zM203.4 64.1h1.4v1.4h-1.4zM214.9 61.5h1.4v1.4h-1.4zM199.8 84.1h1.4v1.4h-1.4zM203.3 62.8h1.4v1.4h-1.4zM201.4 69.3h1.4v1.4h-1.4zM220.1 67.5h1.4v1.4h-1.4zM199.4 70.7h1.4v1.4h-1.4zM205.8 73.3h1.4v1.4h-1.4zM210.5 65.2h1.4v1.4h-1.4zM202.0 79.4h1.4v1.4h-1.4zM212.7 67.8h1.4v1.4h-1.4zM202.7 54.6h1.4v1.4h-1.4zM201.6 79.9h1.4v1.4h-1.4zM202.2 65.4h1.4v1.4h-1.4zM213.9 85.8h1.4v1.4h-1.4zM216.6 70.7h1.4v1.4h-1.4zM212.1 73.5h1.4v1.4h-1.4zM203.8 59.1h1.4v1.4h-1.4zM208.3 61.9h1.4v1.4h-1.4z"/><path fill="#c0c0c0" d="M210.0 68.7h1.4v1.4h-1.4zM209.9 67.8h1.4v1.4h-1.4zM216.0 74.5h1.4v1.4h-1.4zM203.5 58.5h1.4v1.4h-1.4zM209.4 84.2h1.4v1.4h-1.4zM206.2 91.5h1.4v1.4h-1.4zM199.4 62.0h1.4v1.4h-1.4zM206.4 61.7h1.4v1.4h-1.4zM207.7 54.7h1.4v1.4h-1.4zM207.6 78.4h1.4v1.4h-1.4zM217.3 90.5h1.4v1.4h-1.4zM210.8 71.8h1.4v1.4h-1.4zM209.4 87.5h1.4v1.4h-1.4zM211.9 66.4h1.4v1.4h-1.4zM206.2 58.5h1.4v1.4h-1.4zM214.9 82.9h1.4v1.4h-1.4zM207.1 71.2h1.4v1.4h-1.4zM211.1 88.4h1.4v1.4h-1.4zM204.4 50.5h1.4v1.4h-1.4zM221.3 70.6h1.4v1.4h-1.4zM208.6 76.7h1.4v1.4h-1.4zM204.5 56.5h1.4v1.4h-1.4zM202.2 88.5h1.4v1.4h-1.4zM216.1 72.6h1.4v1.4h-1.4zM214.0 79.8h1.4v1.4h-1.4zM201.8 78.9h1.4v1.4h-1.4zM207.4 88.1h1.4v1.4h-1.4zM211.9 89.8h1.4v1.4h-1.4zM211.5 62.5h1.4v1.4h-1.4z"/><path fill="#d8e49a" d="M204.6 50.4h1.4v1.4h-1.4zM206.9 56.4h1.4v1.4h-1.4zM216.9 71.5h1.4v1.4h-1.4zM204.8 76.6h1.4v1.4h-1.4zM210.8 72.5h1.4v1.4h-1.4zM210.6 67.1h1.4v1.4h-1.4zM207.1 69.9h1.4v1.4h-1.4zM222.2 83.6h1.4v1.4h-1.4zM205.1 71.0h1.4v1.4h-1.4zM215.8 74.8h1.4v1.4h-1.4zM210.5 86.1h1.4v1.4h-1.4zM220.0 85.6h1.4v1.4h-1.4zM215.7 78.9h1.4v1.4h-1.4zM200.1 82.4h1.4v1.4h-1.4zM215.7 79.3h1.4v1.4h-1.4zM206.4 68.1h1.4v1.4h-1.4zM211.6 77.4h1.4v1.4h-1.4zM205.1 58.6h1.4v1.4h-1.4zM220.4 76.1h1.4v1.4h-1.4zM199.4 64.4h1.4v1.4h-1.4zM211.9 90.7h1.4v1.4h-1.4zM207.3 52.7h1.4v1.4h-1.4zM203.0 81.3h1.4v1.4h-1.4zM206.5 63.1h1.4v1.4h-1.4zM199.5 57.3h1.4v1.4h-1.4zM204.7 86.6h1.4v1.4h-1.4zM205.4 61.3h1.4v1.4h-1.4zM204.2 83.6h1.4v1.4h-1.4zM205.7 74.7h1.4v1.4h-1.4zM208.4 84.5h1.4v1.4h-1.4zM212.2 76.9h1.4v1.4h-1.4zM208.5 73.0h1.4v1.4h-1.4zM205.9 80.5h1.4v1.4h-1.4z"/><path fill="#8ab8d0" d="M210.9 60.1h1.4v1.4h-1.4zM202.2 73.1h1.4v1.4h-1.4zM216.9 90.8h1.4v1.4h-1.4zM213.0 59.8h1.4v1.4h-1.4zM210.0 83.0h1.4v1.4h-1.4zM209.5 86.4h1.4v1.4h-1.4zM203.7 90.6h1.4v1.4h-1.4zM206.0 53.6h1.4v1.4h-1.4zM207.9 62.2h1.4v1.4h-1.4zM208.0 59.2h1.4v1.4h-1.4zM211.9 68.0h1.4v1.4h-1.4zM205.9 65.3h1.4v1.4h-1.4zM217.7 79.9h1.4v1.4h-1.4zM217.8 84.4h1.4v1.4h-1.4zM209.3 75.5h1.4v1.4h-1.4zM210.9 90.3h1.4v1.4h-1.4zM220.8 72.0h1.4v1.4h-1.4zM208.9 89.8h1.4v1.4h-1.4zM215.3 66.1h1.4v1.4h-1.4zM222.9 83.2h1.4v1.4h-1.4zM200.6 54.1h1.4v1.4h-1.4zM199.4 56.5h1.4v1.4h-1.4zM209.7 86.6h1.4v1.4h-1.4zM214.7 64.2h1.4v1.4h-1.4zM199.8 57.4h1.4v1.4h-1.4zM199.7 82.2h1.4v1.4h-1.4zM220.4 84.5h1.4v1.4h-1.4zM212.7 91.9h1.4v1.4h-1.4zM212.5 63.5h1.4v1.4h-1.4z"/><path fill="#e8e0b0" d="M203.6 51.9h1.4v1.4h-1.4zM209.4 69.6h1.4v1.4h-1.4zM206.2 54.1h1.4v1.4h-1.4zM219.2 75.1h1.4v1.4h-1.4zM213.3 54.4h1.4v1.4h-1.4zM205.7 82.8h1.4v1.4h-1.4zM221.5 74.2h1.4v1.4h-1.4zM216.9 80.9h1.4v1.4h-1.4zM215.4 86.6h1.4v1.4h-1.4zM209.5 84.8h1.4v1.4h-1.4zM220.1 83.4h1.4v1.4h-1.4zM212.2 66.2h1.4v1.4h-1.4zM200.4 87.4h1.4v1.4h-1.4zM217.3 84.6h1.4v1.4h-1.4zM202.8 60.3h1.4v1.4h-1.4zM199.4 67.8h1.4v1.4h-1.4zM215.9 81.3h1.4v1.4h-1.4zM205.2 50.6h1.4v1.4h-1.4zM204.8 62.4h1.4v1.4h-1.4zM214.9 70.1h1.4v1.4h-1.4zM204.0 64.4h1.4v1.4h-1.4zM204.8 68.6h1.4v1.4h-1.4zM218.8 71.9h1.4v1.4h-1.4zM218.0 80.0h1.4v1.4h-1.4zM212.1 81.3h1.4v1.4h-1.4zM206.2 55.6h1.4v1.4h-1.4z"/><path fill="#7a9a5a" d="M214.0 75.1h1.4v1.4h-1.4zM200.9 64.0h1.4v1.4h-1.4zM202.7 54.3h1.4v1.4h-1.4zM206.7 91.1h1.4v1.4h-1.4zM209.8 73.6h1.4v1.4h-1.4zM212.8 55.7h1.4v1.4h-1.4zM198.6 63.4h1.4v1.4h-1.4zM219.2 79.3h1.4v1.4h-1.4zM204.4 84.0h1.4v1.4h-1.4zM202.1 72.5h1.4v1.4h-1.4zM219.8 67.0h1.4v1.4h-1.4zM218.7 69.2h1.4v1.4h-1.4zM198.9 62.4h1.4v1.4h-1.4zM206.9 78.3h1.4v1.4h-1.4zM211.4 83.4h1.4v1.4h-1.4zM215.5 69.6h1.4v1.4h-1.4zM222.1 86.3h1.4v1.4h-1.4zM203.6 54.0h1.4v1.4h-1.4zM201.2 75.4h1.4v1.4h-1.4zM208.8 60.3h1.4v1.4h-1.4zM213.6 86.5h1.4v1.4h-1.4zM216.3 63.8h1.4v1.4h-1.4zM218.0 79.1h1.4v1.4h-1.4zM205.7 86.7h1.4v1.4h-1.4zM202.2 72.5h1.4v1.4h-1.4zM213.4 64.6h1.4v1.4h-1.4zM218.0 66.4h1.4v1.4h-1.4z"/><path fill="#9a70b0" d="M210.4 55.7h1.4v1.4h-1.4zM199.2 84.0h1.4v1.4h-1.4zM218.3 78.3h1.4v1.4h-1.4zM204.5 72.0h1.4v1.4h-1.4zM202.4 86.3h1.4v1.4h-1.4zM202.9 80.4h1.4v1.4h-1.4zM205.6 54.5h1.4v1.4h-1.4zM208.1 56.2h1.4v1.4h-1.4zM203.8 65.8h1.4v1.4h-1.4zM215.0 79.6h1.4v1.4h-1.4zM213.2 78.1h1.4v1.4h-1.4zM212.6 85.2h1.4v1.4h-1.4zM203.1 55.8h1.4v1.4h-1.4zM200.7 76.7h1.4v1.4h-1.4zM219.8 79.1h1.4v1.4h-1.4zM215.7 81.4h1.4v1.4h-1.4zM201.5 68.0h1.4v1.4h-1.4zM207.3 66.5h1.4v1.4h-1.4zM208.2 82.7h1.4v1.4h-1.4zM198.4 80.6h1.4v1.4h-1.4zM208.4 54.9h1.4v1.4h-1.4zM202.8 90.5h1.4v1.4h-1.4zM206.7 80.7h1.4v1.4h-1.4zM203.7 68.3h1.4v1.4h-1.4z"/><path fill="#c8d890" d="M214.0 75.7h1.4v1.4h-1.4zM219.0 88.7h1.4v1.4h-1.4zM199.6 62.8h1.4v1.4h-1.4zM204.9 81.5h1.4v1.4h-1.4zM208.3 57.2h1.4v1.4h-1.4zM201.2 66.8h1.4v1.4h-1.4zM207.7 85.8h1.4v1.4h-1.4zM205.8 52.8h1.4v1.4h-1.4zM205.3 68.9h1.4v1.4h-1.4zM216.3 62.6h1.4v1.4h-1.4zM212.6 59.0h1.4v1.4h-1.4zM210.6 57.4h1.4v1.4h-1.4zM210.8 89.4h1.4v1.4h-1.4zM204.2 60.2h1.4v1.4h-1.4zM199.1 80.1h1.4v1.4h-1.4zM199.7 78.6h1.4v1.4h-1.4zM208.9 92.5h1.4v1.4h-1.4zM210.6 70.8h1.4v1.4h-1.4zM203.0 57.1h1.4v1.4h-1.4zM209.8 58.4h1.4v1.4h-1.4zM205.8 81.4h1.4v1.4h-1.4zM212.1 63.7h1.4v1.4h-1.4zM214.0 87.4h1.4v1.4h-1.4zM205.7 53.7h1.4v1.4h-1.4zM201.7 63.6h1.4v1.4h-1.4z"/><path fill="#60a0c0" d="M218.6 74.2h1.4v1.4h-1.4zM214.4 71.5h1.4v1.4h-1.4zM209.3 72.3h1.4v1.4h-1.4zM211.9 55.3h1.4v1.4h-1.4zM202.3 54.0h1.4v1.4h-1.4zM207.0 69.3h1.4v1.4h-1.4zM210.3 66.1h1.4v1.4h-1.4zM221.9 77.2h1.4v1.4h-1.4zM199.6 56.3h1.4v1.4h-1.4zM198.6 63.8h1.4v1.4h-1.4zM221.4 71.2h1.4v1.4h-1.4zM201.5 58.9h1.4v1.4h-1.4zM210.1 90.3h1.4v1.4h-1.4zM203.9 82.9h1.4v1.4h-1.4zM217.9 81.1h1.4v1.4h-1.4zM218.4 70.0h1.4v1.4h-1.4zM206.9 85.6h1.4v1.4h-1.4zM205.4 69.8h1.4v1.4h-1.4zM218.3 87.3h1.4v1.4h-1.4zM202.7 89.6h1.4v1.4h-1.4zM203.5 57.1h1.4v1.4h-1.4zM204.4 92.5h1.4v1.4h-1.4zM213.4 80.6h1.4v1.4h-1.4zM202.2 78.3h1.4v1.4h-1.4zM218.2 88.1h1.4v1.4h-1.4zM215.6 65.6h1.4v1.4h-1.4zM209.8 85.0h1.4v1.4h-1.4zM216.9 88.1h1.4v1.4h-1.4zM213.3 78.4h1.4v1.4h-1.4z"/><path fill="#a0c870" d="M199.5 71.3h1.4v1.4h-1.4zM214.9 90.5h1.4v1.4h-1.4zM210.8 68.3h1.4v1.4h-1.4zM210.3 77.2h1.4v1.4h-1.4zM207.8 90.2h1.4v1.4h-1.4zM221.3 79.1h1.4v1.4h-1.4zM204.8 53.8h1.4v1.4h-1.4zM215.8 77.5h1.4v1.4h-1.4zM202.6 60.5h1.4v1.4h-1.4zM204.3 76.9h1.4v1.4h-1.4zM205.8 52.2h1.4v1.4h-1.4zM215.0 58.4h1.4v1.4h-1.4zM200.7 60.4h1.4v1.4h-1.4zM217.0 79.9h1.4v1.4h-1.4zM214.2 64.4h1.4v1.4h-1.4zM209.2 80.0h1.4v1.4h-1.4zM200.7 86.7h1.4v1.4h-1.4zM217.0 64.0h1.4v1.4h-1.4zM217.8 72.0h1.4v1.4h-1.4zM200.0 59.9h1.4v1.4h-1.4zM208.2 83.6h1.4v1.4h-1.4zM219.9 89.8h1.4v1.4h-1.4zM219.8 82.7h1.4v1.4h-1.4zM218.5 72.6h1.4v1.4h-1.4zM204.1 63.2h1.4v1.4h-1.4zM221.0 86.2h1.4v1.4h-1.4zM221.6 74.8h1.4v1.4h-1.4z"/><path fill="#f0d070" d="M215.4 88.6h1.4v1.4h-1.4zM217.5 76.3h1.4v1.4h-1.4zM199.9 63.8h1.4v1.4h-1.4zM219.6 69.5h1.4v1.4h-1.4zM210.3 91.7h1.4v1.4h-1.4zM207.1 67.7h1.4v1.4h-1.4zM200.2 81.5h1.4v1.4h-1.4zM205.0 69.9h1.4v1.4h-1.4zM220.8 82.7h1.4v1.4h-1.4zM205.2 54.5h1.4v1.4h-1.4zM205.1 51.1h1.4v1.4h-1.4zM214.9 75.0h1.4v1.4h-1.4zM220.1 67.1h1.4v1.4h-1.4zM210.6 70.9h1.4v1.4h-1.4zM217.7 67.1h1.4v1.4h-1.4zM209.4 54.4h1.4v1.4h-1.4zM216.2 69.5h1.4v1.4h-1.4zM201.4 74.0h1.4v1.4h-1.4zM219.9 72.9h1.4v1.4h-1.4zM202.4 57.8h1.4v1.4h-1.4zM220.2 81.2h1.4v1.4h-1.4zM213.6 64.7h1.4v1.4h-1.4zM207.5 71.9h1.4v1.4h-1.4zM212.5 76.1h1.4v1.4h-1.4zM213.1 69.1h1.4v1.4h-1.4zM221.1 73.0h1.4v1.4h-1.4zM198.6 59.7h1.4v1.4h-1.4zM207.7 88.0h1.4v1.4h-1.4zM201.4 64.5h1.4v1.4h-1.4z"/><path fill="#f0b070" d="M202.7 52.6h1.4v1.4h-1.4zM219.6 87.1h1.4v1.4h-1.4zM220.1 67.3h1.4v1.4h-1.4zM209.4 68.1h1.4v1.4h-1.4zM211.2 62.0h1.4v1.4h-1.4zM205.2 72.9h1.4v1.4h-1.4zM211.3 75.0h1.4v1.4h-1.4zM204.2 83.6h1.4v1.4h-1.4zM216.4 64.7h1.4v1.4h-1.4zM212.1 82.5h1.4v1.4h-1.4zM208.6 77.6h1.4v1.4h-1.4zM218.1 74.0h1.4v1.4h-1.4zM201.6 79.3h1.4v1.4h-1.4zM201.5 72.5h1.4v1.4h-1.4zM205.0 59.8h1.4v1.4h-1.4zM201.9 79.3h1.4v1.4h-1.4zM214.7 75.2h1.4v1.4h-1.4zM216.3 66.7h1.4v1.4h-1.4zM204.2 78.7h1.4v1.4h-1.4zM204.7 80.0h1.4v1.4h-1.4zM203.7 81.2h1.4v1.4h-1.4zM210.8 86.4h1.4v1.4h-1.4zM221.1 79.4h1.4v1.4h-1.4zM202.7 69.1h1.4v1.4h-1.4zM211.5 76.0h1.4v1.4h-1.4zM214.6 90.0h1.4v1.4h-1.4zM220.7 80.7h1.4v1.4h-1.4zM214.7 77.8h1.4v1.4h-1.4z"/>
<path fill="#e7e0a0" d="M205.5 86.4h1.4v1.4h-1.4zM211.3 86.4h1.4v1.4h-1.4zM209.1 73.4h1.4v1.4h-1.4zM213.2 82.2h1.4v1.4h-1.4zM218.6 75.0h1.4v1.4h-1.4zM219.0 90.2h1.4v1.4h-1.4zM203.3 69.3h1.4v1.4h-1.4zM205.9 79.7h1.4v1.4h-1.4zM217.4 79.5h1.4v1.4h-1.4zM206.1 88.0h1.4v1.4h-1.4zM213.4 86.5h1.4v1.4h-1.4zM214.0 89.8h1.4v1.4h-1.4zM218.2 80.7h1.4v1.4h-1.4zM215.1 80.8h1.4v1.4h-1.4zM207.8 74.3h1.4v1.4h-1.4zM201.3 70.2h1.4v1.4h-1.4zM204.5 77.2h1.4v1.4h-1.4zM209.9 88.5h1.4v1.4h-1.4zM204.6 75.8h1.4v1.4h-1.4zM200.1 87.3h1.4v1.4h-1.4zM212.1 84.8h1.4v1.4h-1.4zM217.4 72.1h1.4v1.4h-1.4zM214.2 71.0h1.4v1.4h-1.4zM210.1 92.1h1.4v1.4h-1.4zM214.0 69.6h1.4v1.4h-1.4zM211.0 77.4h1.4v1.4h-1.4zM213.7 82.8h1.4v1.4h-1.4zM207.3 80.4h1.4v1.4h-1.4zM204.9 90.5h1.4v1.4h-1.4zM201.3 88.9h1.4v1.4h-1.4zM212.1 89.7h1.4v1.4h-1.4zM200.9 74.1h1.4v1.4h-1.4zM204.3 83.9h1.4v1.4h-1.4zM201.6 80.5h1.4v1.4h-1.4zM208.5 91.4h1.4v1.4h-1.4zM216.1 70.0h1.4v1.4h-1.4zM210.0 72.9h1.4v1.4h-1.4zM202.5 82.2h1.4v1.4h-1.4zM207.5 88.4h1.4v1.4h-1.4zM212.3 70.0h1.4v1.4h-1.4zM207.7 75.7h1.4v1.4h-1.4zM211.4 76.6h1.4v1.4h-1.4zM214.6 69.6h1.4v1.4h-1.4zM208.2 84.8h1.4v1.4h-1.4zM215.4 90.6h1.4v1.4h-1.4zM206.1 84.5h1.4v1.4h-1.4zM205.7 81.3h1.4v1.4h-1.4zM200.8 69.8h1.4v1.4h-1.4zM208.6 88.1h1.4v1.4h-1.4zM220.1 84.3h1.4v1.4h-1.4zM205.4 88.4h1.4v1.4h-1.4zM199.8 84.7h1.4v1.4h-1.4z"/><path fill="#cfd8a8" d="M209.6 79.4h1.4v1.4h-1.4zM219.5 75.9h1.4v1.4h-1.4zM204.6 81.9h1.4v1.4h-1.4zM200.0 85.4h1.4v1.4h-1.4zM220.5 81.1h1.4v1.4h-1.4zM206.0 68.9h1.4v1.4h-1.4zM200.1 73.6h1.4v1.4h-1.4zM210.2 91.5h1.4v1.4h-1.4zM203.8 89.0h1.4v1.4h-1.4zM201.3 86.9h1.4v1.4h-1.4zM208.2 92.3h1.4v1.4h-1.4zM213.9 72.3h1.4v1.4h-1.4zM209.5 74.8h1.4v1.4h-1.4zM207.8 73.1h1.4v1.4h-1.4zM216.3 73.2h1.4v1.4h-1.4zM215.2 90.4h1.4v1.4h-1.4zM203.0 82.2h1.4v1.4h-1.4zM209.6 85.4h1.4v1.4h-1.4zM208.4 92.4h1.4v1.4h-1.4zM217.2 78.0h1.4v1.4h-1.4zM209.6 81.1h1.4v1.4h-1.4zM221.6 79.7h1.4v1.4h-1.4zM211.9 90.7h1.4v1.4h-1.4zM207.3 84.0h1.4v1.4h-1.4zM217.2 72.1h1.4v1.4h-1.4zM200.2 70.1h1.4v1.4h-1.4zM206.8 73.9h1.4v1.4h-1.4zM210.7 89.6h1.4v1.4h-1.4zM212.1 72.0h1.4v1.4h-1.4zM204.7 87.4h1.4v1.4h-1.4zM204.4 78.0h1.4v1.4h-1.4zM198.8 83.5h1.4v1.4h-1.4z"/><path fill="#a8d080" d="M207.9 69.8h1.4v1.4h-1.4zM206.0 83.8h1.4v1.4h-1.4zM207.2 83.2h1.4v1.4h-1.4zM206.8 76.4h1.4v1.4h-1.4zM207.3 93.3h1.4v1.4h-1.4zM204.5 75.9h1.4v1.4h-1.4zM198.4 69.7h1.4v1.4h-1.4zM201.5 73.9h1.4v1.4h-1.4zM211.5 90.6h1.4v1.4h-1.4zM202.1 77.0h1.4v1.4h-1.4zM210.4 80.2h1.4v1.4h-1.4zM199.2 75.1h1.4v1.4h-1.4zM205.8 74.2h1.4v1.4h-1.4zM204.8 77.4h1.4v1.4h-1.4zM212.9 85.2h1.4v1.4h-1.4zM208.3 87.3h1.4v1.4h-1.4zM206.6 84.6h1.4v1.4h-1.4zM212.1 77.9h1.4v1.4h-1.4zM215.6 88.8h1.4v1.4h-1.4zM203.8 75.1h1.4v1.4h-1.4zM214.2 82.4h1.4v1.4h-1.4zM202.2 71.5h1.4v1.4h-1.4zM198.4 72.1h1.4v1.4h-1.4zM214.5 83.6h1.4v1.4h-1.4zM209.0 70.3h1.4v1.4h-1.4zM198.7 84.8h1.4v1.4h-1.4zM200.8 76.9h1.4v1.4h-1.4zM214.9 71.5h1.4v1.4h-1.4zM206.2 70.7h1.4v1.4h-1.4zM221.3 81.2h1.4v1.4h-1.4zM209.9 71.9h1.4v1.4h-1.4zM213.8 83.3h1.4v1.4h-1.4zM198.5 72.7h1.4v1.4h-1.4zM221.2 77.8h1.4v1.4h-1.4zM217.3 90.6h1.4v1.4h-1.4zM206.9 92.4h1.4v1.4h-1.4zM209.4 77.2h1.4v1.4h-1.4zM213.6 72.0h1.4v1.4h-1.4zM210.5 75.5h1.4v1.4h-1.4zM205.2 74.0h1.4v1.4h-1.4zM204.3 69.2h1.4v1.4h-1.4zM199.0 85.5h1.4v1.4h-1.4zM206.0 90.9h1.4v1.4h-1.4zM215.8 71.0h1.4v1.4h-1.4zM210.1 77.3h1.4v1.4h-1.4zM217.6 84.2h1.4v1.4h-1.4zM211.6 87.2h1.4v1.4h-1.4zM214.8 80.0h1.4v1.4h-1.4zM206.9 85.1h1.4v1.4h-1.4zM200.7 74.9h1.4v1.4h-1.4z"/><path fill="#b8c890" d="M219.4 89.5h1.4v1.4h-1.4zM218.6 89.7h1.4v1.4h-1.4zM200.0 81.8h1.4v1.4h-1.4zM211.5 81.1h1.4v1.4h-1.4zM216.1 87.7h1.4v1.4h-1.4zM220.8 76.1h1.4v1.4h-1.4zM214.4 89.2h1.4v1.4h-1.4zM208.8 72.1h1.4v1.4h-1.4zM204.0 82.6h1.4v1.4h-1.4zM200.9 73.1h1.4v1.4h-1.4zM212.3 70.2h1.4v1.4h-1.4zM214.5 78.0h1.4v1.4h-1.4zM207.4 70.9h1.4v1.4h-1.4zM209.0 88.6h1.4v1.4h-1.4zM199.9 75.3h1.4v1.4h-1.4zM202.6 79.3h1.4v1.4h-1.4zM220.3 86.4h1.4v1.4h-1.4zM218.2 84.8h1.4v1.4h-1.4zM210.9 89.6h1.4v1.4h-1.4zM206.4 78.0h1.4v1.4h-1.4zM199.3 76.1h1.4v1.4h-1.4zM211.0 83.4h1.4v1.4h-1.4zM213.7 76.1h1.4v1.4h-1.4zM213.9 69.4h1.4v1.4h-1.4zM209.3 72.6h1.4v1.4h-1.4zM218.9 88.6h1.4v1.4h-1.4zM205.0 72.4h1.4v1.4h-1.4zM204.4 78.0h1.4v1.4h-1.4zM221.0 77.6h1.4v1.4h-1.4zM203.5 82.1h1.4v1.4h-1.4zM220.1 78.5h1.4v1.4h-1.4zM203.6 85.8h1.4v1.4h-1.4zM204.6 84.7h1.4v1.4h-1.4zM215.0 68.4h1.4v1.4h-1.4zM200.0 71.8h1.4v1.4h-1.4zM206.7 75.6h1.4v1.4h-1.4zM206.9 88.5h1.4v1.4h-1.4zM207.1 89.5h1.4v1.4h-1.4zM200.0 77.4h1.4v1.4h-1.4zM205.8 75.7h1.4v1.4h-1.4zM210.5 79.6h1.4v1.4h-1.4zM206.2 69.5h1.4v1.4h-1.4zM201.3 87.9h1.4v1.4h-1.4zM202.7 72.4h1.4v1.4h-1.4zM215.9 77.1h1.4v1.4h-1.4zM209.1 68.8h1.4v1.4h-1.4zM214.6 76.1h1.4v1.4h-1.4zM204.6 75.1h1.4v1.4h-1.4zM207.1 87.8h1.4v1.4h-1.4zM213.7 82.2h1.4v1.4h-1.4zM211.6 91.2h1.4v1.4h-1.4zM209.4 91.7h1.4v1.4h-1.4zM218.6 87.5h1.4v1.4h-1.4zM217.2 82.4h1.4v1.4h-1.4zM209.3 74.5h1.4v1.4h-1.4zM202.1 79.9h1.4v1.4h-1.4zM210.8 72.1h1.4v1.4h-1.4zM211.9 80.6h1.4v1.4h-1.4zM214.0 84.9h1.4v1.4h-1.4zM210.0 73.6h1.4v1.4h-1.4z"/><path fill="#c8e3a0" d="M219.3 74.0h1.4v1.4h-1.4zM211.3 89.6h1.4v1.4h-1.4zM211.1 85.0h1.4v1.4h-1.4zM209.2 91.2h1.4v1.4h-1.4zM199.2 78.5h1.4v1.4h-1.4zM216.2 89.3h1.4v1.4h-1.4zM216.2 76.6h1.4v1.4h-1.4zM198.7 87.3h1.4v1.4h-1.4zM220.0 88.5h1.4v1.4h-1.4zM217.7 87.8h1.4v1.4h-1.4zM222.2 77.5h1.4v1.4h-1.4zM207.5 69.7h1.4v1.4h-1.4zM205.8 70.5h1.4v1.4h-1.4zM215.0 68.1h1.4v1.4h-1.4zM204.6 80.5h1.4v1.4h-1.4zM215.9 83.9h1.4v1.4h-1.4zM216.0 80.1h1.4v1.4h-1.4zM210.3 81.9h1.4v1.4h-1.4zM217.7 81.1h1.4v1.4h-1.4zM204.1 71.1h1.4v1.4h-1.4zM211.9 82.9h1.4v1.4h-1.4zM220.1 88.1h1.4v1.4h-1.4zM205.5 80.0h1.4v1.4h-1.4zM209.3 83.6h1.4v1.4h-1.4zM210.1 88.0h1.4v1.4h-1.4zM208.8 82.3h1.4v1.4h-1.4zM201.1 72.8h1.4v1.4h-1.4zM214.9 73.9h1.4v1.4h-1.4zM203.7 74.2h1.4v1.4h-1.4zM210.5 83.1h1.4v1.4h-1.4zM221.2 82.8h1.4v1.4h-1.4zM206.6 74.7h1.4v1.4h-1.4zM202.0 87.6h1.4v1.4h-1.4zM219.6 79.0h1.4v1.4h-1.4zM209.9 69.0h1.4v1.4h-1.4zM199.4 69.5h1.4v1.4h-1.4zM210.8 69.8h1.4v1.4h-1.4zM204.6 83.9h1.4v1.4h-1.4zM198.4 70.8h1.4v1.4h-1.4zM216.8 80.7h1.4v1.4h-1.4zM200.7 71.9h1.4v1.4h-1.4zM218.5 82.5h1.4v1.4h-1.4zM210.3 89.8h1.4v1.4h-1.4zM198.7 76.4h1.4v1.4h-1.4zM200.7 83.4h1.4v1.4h-1.4zM199.2 79.0h1.4v1.4h-1.4zM212.7 68.4h1.4v1.4h-1.4zM202.9 89.1h1.4v1.4h-1.4zM219.1 85.6h1.4v1.4h-1.4zM220.0 87.3h1.4v1.4h-1.4zM220.8 80.1h1.4v1.4h-1.4zM199.9 74.4h1.4v1.4h-1.4zM219.2 87.5h1.4v1.4h-1.4zM201.4 75.4h1.4v1.4h-1.4zM210.6 79.0h1.4v1.4h-1.4zM204.9 80.7h1.4v1.4h-1.4z"/>
<path d="M158.5,50.0C159.2,49.0 162.0,48.5 163.0,49.0C164.0,49.5 164.9,51.8 164.7,53.0C164.5,54.2 162.9,55.7 162.0,56.0C161.1,56.3 159.6,56.0 159.0,55.0C158.4,54.0 157.8,51.0 158.5,50.0Z" fill="url(#pA1)"/>
<path d="M145.5,58.0C147.2,55.1 151.6,55.0 155.0,54.5C158.4,54.0 163.2,54.1 166.0,55.0C168.8,55.9 170.5,57.2 171.5,60.0C172.5,62.8 172.2,68.5 172.0,72.0C171.8,75.5 172.0,79.2 170.0,81.0C168.0,82.8 163.7,82.8 160.0,83.0C156.3,83.2 150.6,83.8 148.0,82.0C145.4,80.2 144.9,76.0 144.5,72.0C144.1,68.0 143.8,60.9 145.5,58.0Z" fill="url(#pA1)"/>
<path d="M131.0,76.0C131.9,74.4 134.3,73.7 136.0,73.5C137.7,73.3 139.8,73.8 141.0,75.0C142.2,76.2 143.3,78.7 143.0,81.0C142.7,83.3 140.7,87.5 139.0,89.0C137.3,90.5 134.4,91.0 133.0,90.0C131.6,89.0 130.8,85.3 130.5,83.0C130.2,80.7 130.1,77.6 131.0,76.0Z" fill="url(#pA1)"/>
<path d="M142.0,85.0C144.8,83.8 151.0,83.2 155.0,83.0C159.0,82.8 163.3,82.5 166.0,84.0C168.7,85.5 170.2,87.7 171.0,92.0C171.8,96.3 171.5,105.0 171.0,110.0C170.5,115.0 170.2,119.1 168.0,122.0C165.8,124.9 161.7,126.8 158.0,127.5C154.3,128.2 149.3,127.6 146.0,126.0C142.7,124.4 139.7,122.3 138.0,118.0C136.3,113.7 136.0,104.7 136.0,100.0C136.0,95.3 137.0,92.5 138.0,90.0C139.0,87.5 139.2,86.2 142.0,85.0Z" fill="url(#pA1)" stroke="#fff" stroke-width="0.7"/>
<path d="M168.0,98.0C170.9,94.8 179.7,96.3 185.0,96.0C190.3,95.7 195.8,95.5 200.0,96.0C204.2,96.5 208.2,95.8 210.0,99.0C211.8,102.2 211.7,110.2 211.0,115.0C210.3,119.8 208.5,124.8 206.0,128.0C203.5,131.2 200.3,132.8 196.0,134.0C191.7,135.2 184.2,135.7 180.0,135.0C175.8,134.3 173.1,133.3 171.0,130.0C168.9,126.7 168.0,120.3 167.5,115.0C167.0,109.7 165.1,101.2 168.0,98.0Z" fill="url(#pA3)" stroke="#fff" stroke-width="0.9"/>
<path d="M209.0,100.0C211.3,97.0 218.5,98.3 222.0,99.0C225.5,99.7 228.5,100.8 230.0,104.0C231.5,107.2 231.7,114.2 231.0,118.0C230.3,121.8 228.8,125.5 226.0,127.0C223.2,128.5 217.0,128.7 214.0,127.0C211.0,125.3 208.8,121.5 208.0,117.0C207.2,112.5 206.7,103.0 209.0,100.0Z" fill="url(#pA4)"/>
<path d="M194.0,124.0C196.0,122.0 202.5,121.0 205.0,122.0C207.5,123.0 208.7,127.0 209.0,130.0C209.3,133.0 208.8,138.0 207.0,140.0C205.2,142.0 200.3,143.0 198.0,142.0C195.7,141.0 193.7,137.0 193.0,134.0C192.3,131.0 192.0,126.0 194.0,124.0Z" fill="url(#pA4)"/>
<path d="M207.5,121.0C208.7,118.8 214.1,118.2 216.0,119.0C217.9,119.8 219.0,123.8 219.0,126.0C219.0,128.2 217.7,131.5 216.0,132.5C214.3,133.5 210.4,133.9 209.0,132.0C207.6,130.1 206.3,123.2 207.5,121.0Z" fill="#9a7a40"/>
<path d="M186.0,97.5C187.7,96.6 192.5,95.6 196.0,95.5C199.5,95.4 205.2,96.1 207.0,97.0C208.8,97.9 208.8,100.2 207.0,101.0C205.2,101.8 199.5,101.5 196.0,101.5C192.5,101.5 187.7,101.7 186.0,101.0C184.3,100.3 184.3,98.4 186.0,97.5Z" fill="#e08830"/>
<path d="M170.0,103.0C171.9,100.8 177.8,100.0 180.0,101.5C182.2,103.0 183.2,108.2 183.5,112.0C183.8,115.8 183.6,121.7 182.0,124.0C180.4,126.3 176.2,127.5 174.0,126.0C171.8,124.5 169.2,118.8 168.5,115.0C167.8,111.2 168.1,105.2 170.0,103.0Z" fill="url(#pGr)"/>
<path fill="#b8733a" d="M170.8 147.7h1.5v1.5h-1.5zM177.6 138.6h1.5v1.5h-1.5zM155.7 138.0h1.5v1.5h-1.5zM170.2 142.2h1.5v1.5h-1.5zM182.7 142.5h1.5v1.5h-1.5zM175.9 135.8h1.5v1.5h-1.5zM157.0 127.2h1.5v1.5h-1.5zM166.9 136.3h1.5v1.5h-1.5zM167.3 144.5h1.5v1.5h-1.5zM183.0 144.3h1.5v1.5h-1.5zM175.5 137.0h1.5v1.5h-1.5zM166.5 135.2h1.5v1.5h-1.5zM161.7 138.8h1.5v1.5h-1.5zM167.4 134.0h1.5v1.5h-1.5zM161.7 124.9h1.5v1.5h-1.5zM160.6 146.6h1.5v1.5h-1.5zM162.0 126.4h1.5v1.5h-1.5zM171.0 139.4h1.5v1.5h-1.5zM162.9 143.7h1.5v1.5h-1.5zM174.4 136.5h1.5v1.5h-1.5zM172.6 139.6h1.5v1.5h-1.5zM172.7 126.7h1.5v1.5h-1.5zM173.8 135.8h1.5v1.5h-1.5z"/><path fill="#c43a6e" d="M166.5 130.3h1.5v1.5h-1.5zM183.0 131.6h1.5v1.5h-1.5zM180.0 134.3h1.5v1.5h-1.5zM167.9 146.3h1.5v1.5h-1.5zM180.1 145.0h1.5v1.5h-1.5zM180.9 139.9h1.5v1.5h-1.5zM184.4 133.2h1.5v1.5h-1.5zM168.3 136.1h1.5v1.5h-1.5zM178.0 127.4h1.5v1.5h-1.5zM184.9 135.7h1.5v1.5h-1.5zM173.4 135.1h1.5v1.5h-1.5zM184.7 131.9h1.5v1.5h-1.5zM185.6 142.7h1.5v1.5h-1.5zM177.6 139.4h1.5v1.5h-1.5zM157.5 141.0h1.5v1.5h-1.5zM160.3 142.4h1.5v1.5h-1.5zM159.6 130.9h1.5v1.5h-1.5zM171.1 137.9h1.5v1.5h-1.5zM178.6 137.9h1.5v1.5h-1.5zM175.0 137.0h1.5v1.5h-1.5zM157.3 129.6h1.5v1.5h-1.5zM159.5 141.1h1.5v1.5h-1.5zM183.6 142.5h1.5v1.5h-1.5z"/><path fill="#5a2d4e" d="M175.3 133.2h1.5v1.5h-1.5zM168.7 133.9h1.5v1.5h-1.5zM177.5 139.9h1.5v1.5h-1.5zM179.2 140.0h1.5v1.5h-1.5zM175.5 138.9h1.5v1.5h-1.5zM184.1 130.7h1.5v1.5h-1.5zM162.2 126.7h1.5v1.5h-1.5zM172.0 135.0h1.5v1.5h-1.5zM179.0 130.3h1.5v1.5h-1.5zM173.0 142.0h1.5v1.5h-1.5zM183.7 130.8h1.5v1.5h-1.5zM170.1 130.1h1.5v1.5h-1.5zM175.4 130.9h1.5v1.5h-1.5z"/><path fill="#fb9a99" d="M164.9 132.7h1.5v1.5h-1.5zM170.5 128.1h1.5v1.5h-1.5zM159.4 137.2h1.5v1.5h-1.5zM161.2 132.1h1.5v1.5h-1.5zM162.2 138.1h1.5v1.5h-1.5zM158.0 143.0h1.5v1.5h-1.5zM156.0 126.6h1.5v1.5h-1.5zM182.3 139.0h1.5v1.5h-1.5zM175.3 137.4h1.5v1.5h-1.5zM166.4 136.4h1.5v1.5h-1.5zM167.2 141.3h1.5v1.5h-1.5zM169.8 124.4h1.5v1.5h-1.5zM179.2 128.7h1.5v1.5h-1.5zM176.9 128.7h1.5v1.5h-1.5zM157.9 135.3h1.5v1.5h-1.5zM179.0 137.9h1.5v1.5h-1.5zM161.6 129.2h1.5v1.5h-1.5zM169.7 146.2h1.5v1.5h-1.5zM175.9 148.3h1.5v1.5h-1.5zM157.9 129.5h1.5v1.5h-1.5zM163.5 142.4h1.5v1.5h-1.5zM178.5 143.5h1.5v1.5h-1.5zM164.2 132.7h1.5v1.5h-1.5zM166.4 146.3h1.5v1.5h-1.5z"/><path fill="#e31a1c" d="M179.6 137.4h1.5v1.5h-1.5zM166.4 133.2h1.5v1.5h-1.5zM161.6 136.8h1.5v1.5h-1.5zM184.6 132.8h1.5v1.5h-1.5zM161.9 147.4h1.5v1.5h-1.5zM162.0 133.6h1.5v1.5h-1.5zM163.4 146.4h1.5v1.5h-1.5zM166.4 142.0h1.5v1.5h-1.5zM166.2 125.7h1.5v1.5h-1.5zM166.3 146.9h1.5v1.5h-1.5zM172.6 144.5h1.5v1.5h-1.5zM158.7 136.5h1.5v1.5h-1.5zM169.0 126.1h1.5v1.5h-1.5zM165.6 123.9h1.5v1.5h-1.5zM171.2 137.5h1.5v1.5h-1.5zM182.7 131.0h1.5v1.5h-1.5zM181.5 141.0h1.5v1.5h-1.5zM161.6 135.2h1.5v1.5h-1.5zM155.4 130.0h1.5v1.5h-1.5zM178.6 141.4h1.5v1.5h-1.5zM175.6 145.0h1.5v1.5h-1.5zM177.7 136.2h1.5v1.5h-1.5zM180.8 136.2h1.5v1.5h-1.5z"/><path fill="#ff7f00" d="M157.2 137.6h1.5v1.5h-1.5zM166.7 146.9h1.5v1.5h-1.5zM180.8 143.8h1.5v1.5h-1.5zM165.4 125.2h1.5v1.5h-1.5zM175.5 140.9h1.5v1.5h-1.5zM159.8 127.9h1.5v1.5h-1.5zM162.9 127.9h1.5v1.5h-1.5zM168.8 134.1h1.5v1.5h-1.5zM180.1 129.2h1.5v1.5h-1.5zM175.9 137.0h1.5v1.5h-1.5zM169.7 125.7h1.5v1.5h-1.5zM171.6 142.5h1.5v1.5h-1.5zM170.1 145.1h1.5v1.5h-1.5zM164.2 137.2h1.5v1.5h-1.5zM180.2 134.6h1.5v1.5h-1.5zM183.4 138.7h1.5v1.5h-1.5zM168.0 125.4h1.5v1.5h-1.5zM163.4 125.2h1.5v1.5h-1.5zM160.5 144.6h1.5v1.5h-1.5zM172.8 136.7h1.5v1.5h-1.5zM184.8 135.9h1.5v1.5h-1.5zM164.1 134.8h1.5v1.5h-1.5zM172.5 126.2h1.5v1.5h-1.5zM164.0 130.3h1.5v1.5h-1.5zM173.9 144.7h1.5v1.5h-1.5zM173.4 134.1h1.5v1.5h-1.5z"/><path fill="#fdbf6f" d="M184.6 141.5h1.5v1.5h-1.5zM171.8 139.3h1.5v1.5h-1.5zM170.8 126.0h1.5v1.5h-1.5zM171.9 126.3h1.5v1.5h-1.5zM168.3 130.8h1.5v1.5h-1.5zM157.8 125.1h1.5v1.5h-1.5zM168.5 138.7h1.5v1.5h-1.5zM178.2 144.9h1.5v1.5h-1.5zM166.9 147.9h1.5v1.5h-1.5zM156.2 125.3h1.5v1.5h-1.5zM177.0 127.7h1.5v1.5h-1.5zM176.3 144.7h1.5v1.5h-1.5zM161.0 141.4h1.5v1.5h-1.5zM184.0 142.7h1.5v1.5h-1.5zM169.2 131.0h1.5v1.5h-1.5zM182.4 134.3h1.5v1.5h-1.5zM166.5 140.1h1.5v1.5h-1.5zM177.4 131.6h1.5v1.5h-1.5zM183.5 141.1h1.5v1.5h-1.5zM177.9 144.6h1.5v1.5h-1.5zM169.8 142.7h1.5v1.5h-1.5zM171.2 134.3h1.5v1.5h-1.5zM162.3 145.3h1.5v1.5h-1.5zM165.4 126.6h1.5v1.5h-1.5z"/><path fill="#e7298a" d="M172.2 144.1h1.5v1.5h-1.5zM185.5 137.3h1.5v1.5h-1.5zM176.2 132.5h1.5v1.5h-1.5zM168.0 141.3h1.5v1.5h-1.5zM177.0 142.3h1.5v1.5h-1.5zM173.1 145.6h1.5v1.5h-1.5zM174.4 141.4h1.5v1.5h-1.5zM171.3 124.3h1.5v1.5h-1.5zM183.7 131.5h1.5v1.5h-1.5zM157.2 133.9h1.5v1.5h-1.5zM173.6 147.6h1.5v1.5h-1.5zM159.9 144.0h1.5v1.5h-1.5zM180.0 145.4h1.5v1.5h-1.5zM174.4 133.1h1.5v1.5h-1.5z"/>
<circle cx="126.8" cy="158.2" r="1.3" fill="#1b5a7a"/>
<text x="130.6" y="160.5" font-size="6.5" text-anchor="start" fill="#222" class="l">001</text>
<circle cx="126.8" cy="166.2" r="1.3" fill="#c43a6e"/>
<text x="130.6" y="168.5" font-size="6.5" text-anchor="start" fill="#222" class="l">002</text>
<circle cx="126.8" cy="174.2" r="1.3" fill="#b8733a"/>
<text x="130.6" y="176.5" font-size="6.5" text-anchor="start" fill="#222" class="l">003</text>
<circle cx="126.8" cy="182.2" r="1.3" fill="#5a2d4e"/>
<text x="130.6" y="184.5" font-size="6.5" text-anchor="start" fill="#222" class="l">004</text>
<circle cx="148.4" cy="158.2" r="1.3" fill="#1c2452"/>
<text x="152.20000000000002" y="160.5" font-size="6.5" text-anchor="start" fill="#222" class="l">005</text>
<circle cx="148.4" cy="166.2" r="1.3" fill="#8e9aa8"/>
<text x="152.20000000000002" y="168.5" font-size="6.5" text-anchor="start" fill="#222" class="l">006</text>
<circle cx="148.4" cy="174.2" r="1.3" fill="#1d5c48"/>
<text x="152.20000000000002" y="176.5" font-size="6.5" text-anchor="start" fill="#222" class="l">007</text>
<circle cx="148.4" cy="182.2" r="1.3" fill="#e31a1c"/>
<text x="152.20000000000002" y="184.5" font-size="6.5" text-anchor="start" fill="#222" class="l">009</text>
<circle cx="170" cy="158.2" r="1.3" fill="#a6cee3"/>
<text x="173.8" y="160.5" font-size="6.5" text-anchor="start" fill="#222" class="l">010</text>
<circle cx="170" cy="166.2" r="1.3" fill="#ff7f00"/>
<text x="173.8" y="168.5" font-size="6.5" text-anchor="start" fill="#222" class="l">011</text>
<circle cx="170" cy="174.2" r="1.3" fill="#b2df8a"/>
<text x="173.8" y="176.5" font-size="6.5" text-anchor="start" fill="#222" class="l">012</text>
<circle cx="170" cy="182.2" r="1.3" fill="#e7298a"/>
<text x="173.8" y="184.5" font-size="6.5" text-anchor="start" fill="#222" class="l">013</text>
<circle cx="191.6" cy="158.2" r="1.3" fill="#6a3d9a"/>
<text x="195.4" y="160.5" font-size="6.5" text-anchor="start" fill="#222" class="l">014</text>
<circle cx="191.6" cy="166.2" r="1.3" fill="#fdbf6f"/>
<text x="195.4" y="168.5" font-size="6.5" text-anchor="start" fill="#222" class="l">015</text>
<circle cx="191.6" cy="174.2" r="1.3" fill="#a6761d"/>
<text x="195.4" y="176.5" font-size="6.5" text-anchor="start" fill="#222" class="l">016</text>
<circle cx="191.6" cy="182.2" r="1.3" fill="#cccccc"/>
<text x="195.4" y="184.5" font-size="6.5" text-anchor="start" fill="#222" class="l">017</text>
<circle cx="213.2" cy="158.2" r="1.3" fill="#1f78b4"/>
<text x="217.0" y="160.5" font-size="6.5" text-anchor="start" fill="#222" class="l">019</text>
<circle cx="213.2" cy="166.2" r="1.3" fill="#fb9a99"/>
<text x="217.0" y="168.5" font-size="6.5" text-anchor="start" fill="#222" class="l">021</text>
<circle cx="213.2" cy="174.2" r="1.3" fill="#33a02c"/>
<text x="217.0" y="176.5" font-size="6.5" text-anchor="start" fill="#222" class="l">022</text>
<text x="390.5" y="28.8" font-size="8.2" text-anchor="middle" fill="#222">scRNA-seq</text>
<path d="M334.0,42.0C335.5,40.2 341.3,39.7 345.0,39.5C348.7,39.3 353.8,39.8 356.0,41.0C358.2,42.2 358.3,45.0 358.0,47.0C357.7,49.0 356.3,52.1 354.0,53.0C351.7,53.9 347.0,53.0 344.0,52.5C341.0,52.0 337.7,51.8 336.0,50.0C334.3,48.2 332.5,43.8 334.0,42.0Z" fill="#dcb6d0"/>
<path d="M336.0,63.0C337.7,61.8 342.7,61.1 346.0,60.8C349.3,60.5 353.7,60.3 356.0,61.0C358.3,61.7 359.4,63.3 359.7,65.0C360.0,66.7 359.6,69.5 358.0,71.0C356.4,72.5 352.8,73.8 350.0,74.0C347.2,74.2 343.3,73.0 341.0,72.0C338.7,71.0 336.8,69.5 336.0,68.0C335.2,66.5 334.3,64.2 336.0,63.0Z" fill="#dcb6d0"/>
<path d="M378.0,80.0C379.4,78.7 384.0,77.7 386.0,78.0C388.0,78.3 389.5,80.3 390.0,82.0C390.5,83.7 390.3,86.7 389.0,88.0C387.7,89.3 383.9,90.3 382.0,90.0C380.1,89.7 378.2,87.7 377.5,86.0C376.8,84.3 376.6,81.3 378.0,80.0Z" fill="#dcb6d0"/>
<path d="M342.0,90.0C343.5,86.8 347.0,86.2 350.0,85.0C353.0,83.8 357.4,83.0 360.0,83.0C362.6,83.0 364.5,83.5 365.5,85.0C366.5,86.5 366.6,90.0 366.0,92.0C365.4,94.0 361.3,95.7 362.0,97.0C362.7,98.3 369.0,98.5 370.0,100.0C371.0,101.5 370.3,104.8 368.0,106.0C365.7,107.2 358.7,106.1 356.0,107.0C353.3,107.9 354.0,110.9 352.0,111.6C350.0,112.3 345.8,112.3 344.0,111.0C342.2,109.7 341.3,107.5 341.0,104.0C340.7,100.5 340.5,93.2 342.0,90.0Z" fill="#dcb6d0"/>
<path d="M332.0,86.0C332.7,84.3 335.7,84.3 337.0,85.0C338.3,85.7 339.7,88.2 340.0,90.0C340.3,91.8 340.2,95.2 339.0,96.0C337.8,96.8 334.2,96.7 333.0,95.0C331.8,93.3 331.3,87.7 332.0,86.0Z" fill="#dcb6d0"/>
<path d="M341.0,107.5C343.5,107.0 348.5,106.8 350.0,108.0C351.5,109.2 351.0,112.7 350.0,115.0C349.0,117.3 346.5,119.8 344.0,122.0C341.5,124.2 338.0,126.8 335.0,128.0C332.0,129.2 327.9,130.0 326.0,129.5C324.1,129.0 323.3,127.1 323.5,125.0C323.7,122.9 325.1,119.3 327.0,117.0C328.9,114.7 332.7,112.6 335.0,111.0C337.3,109.4 338.5,108.0 341.0,107.5Z" fill="#dcb6d0"/>
<path d="M366.0,122.0C367.2,119.8 371.8,120.0 374.0,120.5C376.2,121.0 378.0,122.9 379.0,125.0C380.0,127.1 380.8,130.9 380.0,133.0C379.2,135.1 376.2,137.3 374.0,137.5C371.8,137.7 368.3,136.6 367.0,134.0C365.7,131.4 364.8,124.2 366.0,122.0Z" fill="#dcb6d0"/>
<path d="M341.0,136.0C342.3,133.8 347.0,133.5 349.0,134.0C351.0,134.5 352.4,136.7 353.0,139.0C353.6,141.3 353.7,146.0 352.5,148.0C351.3,150.0 347.9,151.2 346.0,151.0C344.1,150.8 341.8,149.5 341.0,147.0C340.2,144.5 339.7,138.2 341.0,136.0Z" fill="#dcb6d0"/>
<path d="M306.0,139.0C307.0,138.1 309.6,137.2 311.0,137.5C312.4,137.8 314.2,139.6 314.5,141.0C314.8,142.4 314.2,145.0 313.0,146.0C311.8,147.0 308.3,147.5 307.0,147.0C305.7,146.5 305.2,144.3 305.0,143.0C304.8,141.7 305.0,139.9 306.0,139.0Z" fill="#dcb6d0"/>
<path d="M293.0,68.6C294.9,67.5 298.5,66.6 301.0,66.5C303.5,66.4 305.7,66.6 308.0,68.0C310.3,69.4 312.8,72.4 314.7,74.7C316.6,77.0 318.1,79.8 319.5,82.0C320.9,84.2 321.8,86.0 323.0,88.0C324.2,90.0 326.2,92.0 327.0,94.0C327.8,96.0 328.0,98.2 327.8,100.0C327.6,101.8 327.3,103.8 326.0,105.0C324.7,106.2 322.2,107.0 320.0,107.5C317.8,108.0 314.8,107.3 313.0,108.0C311.2,108.7 310.2,110.3 309.0,111.5C307.8,112.7 307.2,115.2 306.0,115.0C304.8,114.8 303.7,111.8 302.0,110.5C300.3,109.2 298.1,108.6 296.0,107.5C293.9,106.4 291.0,105.6 289.5,104.0C288.0,102.4 287.2,100.0 287.0,98.0C286.8,96.0 288.7,94.2 288.5,92.0C288.3,89.8 286.3,87.3 286.0,85.0C285.7,82.7 285.9,80.0 286.5,78.0C287.1,76.0 288.2,74.6 289.3,73.0C290.4,71.4 291.1,69.7 293.0,68.6Z" fill="#2b7db3"/>
<path d="M295,53.1L311,60.6L305,63L297,67.5L289.4,65.5Z" fill="#3a9a35" stroke="#3a9a35" stroke-width="1" stroke-linejoin="round"/>
<path d="M315.0,58.5C315.3,57.4 319.5,56.7 322.0,56.0C324.5,55.3 328.7,54.0 330.0,54.4C331.3,54.8 330.7,57.1 330.0,58.5C329.3,59.9 327.7,61.8 326.0,62.5C324.3,63.2 321.8,63.2 320.0,62.5C318.2,61.8 314.7,59.6 315.0,58.5Z" fill="#f5c518"/>
<path d="M318,62L328,69.4" stroke="#f5c518" stroke-width="1.4"/>
<path d="M333.0,57.0C333.4,56.1 336.5,54.5 337.5,55.0C338.5,55.5 339.2,59.1 338.8,60.0C338.4,60.9 336.0,60.7 335.0,60.2C334.0,59.7 332.6,57.9 333.0,57.0Z" fill="#e0141e"/>
<path d="M341,67.5L343.5,72L348,71.5L347,76L352,79L348,82L351,88L346,87L344,93.5L340,89L335,91L336.5,85L332.5,82L336,79L333.5,74L338.5,74Z" fill="#eb9420" stroke="#eb9420" stroke-width="1" stroke-linejoin="round"/>
<path d="M358.5,101.0C359.4,100.2 361.6,99.8 363.0,100.0C364.4,100.2 365.6,102.0 367.0,102.0C368.4,102.0 370.9,99.5 371.6,100.0C372.3,100.5 371.9,103.6 371.0,105.0C370.1,106.4 367.8,107.8 366.0,108.5C364.2,109.2 361.4,109.6 360.0,109.0C358.6,108.4 357.9,106.3 357.7,105.0C357.4,103.7 357.6,101.8 358.5,101.0Z" fill="#8a1f5a"/>
<circle cx="354.5" cy="52.5" r="0.9" fill="#eb9420"/>
<circle cx="323.5" cy="88.5" r="0.9" fill="#eb9420"/>
<circle cx="367" cy="134" r="0.9" fill="#eb9420"/>
<text x="295" y="63.6" font-size="6" text-anchor="middle" fill="#222">NK/NKT</text>
<text x="320.8" y="56.6" font-size="6" text-anchor="middle" fill="#222">Myeloid/</text>
<text x="320" y="65.7" font-size="6.2" text-anchor="middle" fill="#222">DC</text>
<text x="341.8" y="53.7" font-size="6" text-anchor="middle" fill="#222">PC</text>
<text x="340" y="83.6" font-size="6" text-anchor="middle" fill="#222">Prolif.</text>
<text x="305" y="93" font-size="6" text-anchor="middle" fill="#222">T cells</text>
<text x="343" y="113" font-size="6" text-anchor="middle" fill="#222">Tumor</text>
<text x="342.5" y="122" font-size="6" text-anchor="middle" fill="#222">cells</text>
<text x="371" y="107.8" font-size="6" text-anchor="middle" fill="#222">B cells</text>
<path d="M409.0,52.5C411.0,51.2 416.2,53.8 420.0,54.5C423.8,55.2 427.8,57.4 432.0,57.0C436.2,56.6 442.2,52.5 445.0,52.0C447.8,51.5 448.8,52.7 449.0,54.0C449.2,55.3 447.8,58.3 446.0,60.0C444.2,61.7 441.0,63.7 438.0,64.0C435.0,64.3 431.3,62.0 428.0,62.0C424.7,62.0 420.7,63.3 418.0,64.0C415.3,64.7 413.7,66.3 412.0,66.0C410.3,65.7 408.5,64.2 408.0,62.0C407.5,59.8 407.0,53.8 409.0,52.5Z" fill="url(#pB1)"/>
<path d="M406.0,55.0C407.4,53.5 410.5,53.8 412.0,55.0C413.5,56.2 414.7,59.8 415.0,62.0C415.3,64.2 415.5,66.7 414.0,68.0C412.5,69.3 407.8,70.7 406.0,70.0C404.2,69.3 403.5,66.5 403.5,64.0C403.5,61.5 404.6,56.5 406.0,55.0Z" fill="url(#pB1)"/>
<path d="M406.0,62.0C407.7,61.3 411.0,64.7 414.0,66.0C417.0,67.3 421.0,67.7 424.0,70.0C427.0,72.3 429.2,76.5 432.0,80.0C434.8,83.5 439.0,88.1 441.0,91.0C443.0,93.9 444.0,95.3 444.0,97.5C444.0,99.7 443.2,102.2 441.0,104.0C438.8,105.8 433.8,106.5 431.0,108.0C428.2,109.5 426.0,111.9 424.0,113.0C422.0,114.1 420.5,114.8 418.8,114.4C417.1,114.0 415.7,112.1 413.6,110.5C411.5,108.9 407.7,107.2 406.0,105.0C404.3,102.8 404.0,101.7 403.5,97.5C403.0,93.3 402.9,84.6 403.0,80.0C403.1,75.4 403.5,73.0 404.0,70.0C404.5,67.0 404.3,62.7 406.0,62.0Z" fill="url(#pB1)"/>
<path d="M450.0,40.0C451.7,38.8 456.7,39.3 460.0,39.0C463.3,38.7 467.5,37.5 470.0,38.0C472.5,38.5 474.3,40.0 475.0,42.0C475.7,44.0 475.0,47.8 474.0,50.0C473.0,52.2 471.0,54.7 469.0,55.0C467.0,55.3 464.3,52.8 462.0,52.0C459.7,51.2 457.0,51.0 455.0,50.0C453.0,49.0 450.8,47.7 450.0,46.0C449.2,44.3 448.3,41.2 450.0,40.0Z" fill="#33a02c"/>
<path d="M450.5,61.0C452.1,59.8 457.1,60.3 460.0,60.5C462.9,60.7 465.3,61.7 468.0,62.0C470.7,62.3 475.0,61.2 476.3,62.5C477.6,63.8 476.4,68.1 476.0,70.0C475.6,71.9 475.7,73.5 474.0,74.0C472.3,74.5 467.7,72.0 466.0,73.0C464.3,74.0 465.5,78.6 464.0,79.8C462.5,81.0 458.5,81.0 457.0,80.0C455.5,79.0 456.1,76.0 455.0,74.0C453.9,72.0 451.2,70.2 450.5,68.0C449.8,65.8 448.9,62.2 450.5,61.0Z" fill="#1f78b4"/>
<path d="M449.0,77.0C450.2,75.8 453.7,75.6 456.0,75.8C458.3,76.0 462.0,76.6 463.0,78.0C464.0,79.4 463.3,82.8 462.0,84.0C460.7,85.2 457.2,85.2 455.0,85.0C452.8,84.8 450.0,84.3 449.0,83.0C448.0,81.7 447.8,78.2 449.0,77.0Z" fill="url(#pB1)"/>
<path d="M448.0,85.0C449.2,83.5 453.2,82.5 455.0,82.7C456.8,82.9 458.3,84.0 459.0,86.0C459.7,88.0 460.2,93.2 459.0,95.0C457.8,96.8 453.8,97.0 452.0,96.5C450.2,96.0 448.7,93.9 448.0,92.0C447.3,90.1 446.8,86.5 448.0,85.0Z" fill="#b2df8a"/>
<path d="M459.5,83.0C460.5,80.2 464.8,81.5 466.0,83.0C467.2,84.5 467.0,89.2 467.0,92.0C467.0,94.8 467.2,98.7 466.0,100.0C464.8,101.3 461.1,102.8 460.0,100.0C458.9,97.2 458.5,85.8 459.5,83.0Z" fill="url(#pB1)"/>
<path d="M464.0,84.0C464.8,82.7 468.0,82.2 470.0,82.0C472.0,81.8 473.9,82.7 476.0,83.0C478.1,83.3 481.7,82.7 482.7,84.0C483.7,85.3 482.9,89.2 482.0,91.0C481.1,92.8 479.0,94.5 477.0,94.8C475.0,95.1 472.0,93.8 470.0,93.0C468.0,92.2 466.0,91.5 465.0,90.0C464.0,88.5 463.2,85.3 464.0,84.0Z" fill="#cab2d6"/>
<path d="M467.0,93.0C468.3,91.0 473.2,91.2 476.0,92.0C478.8,92.8 482.1,96.2 484.0,98.0C485.9,99.8 487.3,101.2 487.3,103.0C487.3,104.8 486.1,108.0 484.0,109.0C481.9,110.0 477.7,109.8 475.0,109.0C472.3,108.2 469.3,106.7 468.0,104.0C466.7,101.3 465.7,95.0 467.0,93.0Z" fill="url(#pA4)"/>
<path d="M460.0,94.0C461.2,92.8 465.8,92.8 467.0,94.0C468.2,95.2 468.2,99.8 467.0,101.0C465.8,102.2 461.2,102.2 460.0,101.0C458.8,99.8 458.8,95.2 460.0,94.0Z" fill="#a6761d"/>
<path d="M458.0,101.0C459.0,99.2 462.6,99.2 465.0,99.4C467.4,99.6 471.3,100.2 472.3,102.0C473.3,103.8 472.2,108.2 471.0,110.0C469.8,111.8 467.0,112.7 465.0,112.7C463.0,112.7 460.2,112.0 459.0,110.0C457.8,108.0 457.0,102.8 458.0,101.0Z" fill="#e31a1c"/>
<path d="M494.0,79.0C495.2,77.2 499.7,77.3 502.0,77.5C504.3,77.7 506.9,78.4 508.0,80.0C509.1,81.6 509.5,85.3 508.5,87.0C507.5,88.7 504.2,89.8 502.0,90.0C499.8,90.2 496.3,89.8 495.0,88.0C493.7,86.2 492.8,80.8 494.0,79.0Z" fill="#fdbf6f"/>
<path d="M448.0,108.0C449.8,106.5 453.2,106.2 455.0,107.0C456.8,107.8 458.2,110.2 459.0,113.0C459.8,115.8 460.5,121.2 460.0,124.0C459.5,126.8 458.3,129.0 456.0,130.0C453.7,131.0 448.7,130.8 446.0,130.0C443.3,129.2 440.3,127.3 440.0,125.0C439.7,122.7 442.7,118.8 444.0,116.0C445.3,113.2 446.2,109.5 448.0,108.0Z" fill="#e7298a"/>
<path d="M483.0,122.0C484.4,120.8 487.7,120.3 490.0,121.0C492.3,121.7 495.8,123.8 497.0,126.0C498.2,128.2 498.7,132.1 497.5,134.0C496.3,135.9 492.2,137.5 490.0,137.5C487.8,137.5 485.4,135.6 484.0,134.0C482.6,132.4 481.7,130.0 481.5,128.0C481.3,126.0 481.6,123.2 483.0,122.0Z" fill="#ff7f00"/>
<path d="M458.0,136.0C459.7,134.8 463.9,133.3 466.0,134.0C468.1,134.7 469.8,137.7 470.5,140.0C471.2,142.3 471.2,146.2 470.0,148.0C468.8,149.8 465.2,151.0 463.0,151.0C460.8,151.0 458.2,149.7 457.0,148.0C455.8,146.3 455.8,143.0 456.0,141.0C456.2,139.0 456.3,137.2 458.0,136.0Z" fill="#a6cee3"/>
<path d="M422.0,139.0C423.2,138.1 426.5,137.2 428.0,137.5C429.5,137.8 430.8,139.6 431.0,141.0C431.2,142.4 430.3,145.0 429.0,146.0C427.7,147.0 424.3,147.5 423.0,147.0C421.7,146.5 421.2,144.3 421.0,143.0C420.8,141.7 420.8,139.9 422.0,139.0Z" fill="#f4a0a8"/>
<rect x="311.6" y="162" width="3.6" height="3.6" fill="#dcbcd4"/>
<text x="317.2" y="166.2" font-size="5.8" text-anchor="start" fill="#222">Tumor cells</text>
<circle cx="413.4" cy="162.3" r="1.3" fill="#e31a1c"/>
<text x="417.2" y="164.60000000000002" font-size="6.5" text-anchor="start" fill="#222" class="l">009</text>
<circle cx="413.4" cy="170.1" r="1.3" fill="#a6cee3"/>
<text x="417.2" y="172.4" font-size="6.5" text-anchor="start" fill="#222" class="l">010</text>
<circle cx="413.4" cy="178.1" r="1.3" fill="#ff7f00"/>
<text x="417.2" y="180.4" font-size="6.5" text-anchor="start" fill="#222" class="l">011</text>
<circle cx="434.5" cy="162.3" r="1.3" fill="#b2df8a"/>
<text x="438.3" y="164.60000000000002" font-size="6.5" text-anchor="start" fill="#222" class="l">012</text>
<circle cx="434.5" cy="170.1" r="1.3" fill="#e7298a"/>
<text x="438.3" y="172.4" font-size="6.5" text-anchor="start" fill="#222" class="l">013</text>
<circle cx="434.5" cy="178.1" r="1.3" fill="#6a3d9a"/>
<text x="438.3" y="180.4" font-size="6.5" text-anchor="start" fill="#222" class="l">014</text>
<circle cx="455.7" cy="162.3" r="1.3" fill="#fdbf6f"/>
<text x="459.5" y="164.60000000000002" font-size="6.5" text-anchor="start" fill="#222" class="l">015</text>
<circle cx="455.7" cy="170.1" r="1.3" fill="#a6761d"/>
<text x="459.5" y="172.4" font-size="6.5" text-anchor="start" fill="#222" class="l">016</text>
<circle cx="455.7" cy="178.1" r="1.3" fill="#cccccc"/>
<text x="459.5" y="180.4" font-size="6.5" text-anchor="start" fill="#222" class="l">017</text>
<circle cx="476.8" cy="162.3" r="1.3" fill="#1f78b4"/>
<text x="480.6" y="164.60000000000002" font-size="6.5" text-anchor="start" fill="#222" class="l">019</text>
<circle cx="476.8" cy="170.1" r="1.3" fill="#fb9a99"/>
<text x="480.6" y="172.4" font-size="6.5" text-anchor="start" fill="#222" class="l">021</text>
<circle cx="476.8" cy="178.1" r="1.3" fill="#33a02c"/>
<text x="480.6" y="180.4" font-size="6.5" text-anchor="start" fill="#222" class="l">022</text>
<text x="82.5" y="219.6" font-size="8.2" text-anchor="middle" fill="#222">T cells scRNA-seq</text>
<path fill="#e8a0a0" d="M95.4 255.6h1.3v1.3h-1.3zM98.0 260.2h1.3v1.3h-1.3zM79.9 268.2h1.3v1.3h-1.3zM74.4 257.3h1.3v1.3h-1.3zM79.3 257.2h1.3v1.3h-1.3zM95.9 258.9h1.3v1.3h-1.3zM103.2 266.0h1.3v1.3h-1.3zM65.7 265.6h1.3v1.3h-1.3zM95.0 260.2h1.3v1.3h-1.3zM83.2 253.2h1.3v1.3h-1.3zM78.8 249.9h1.3v1.3h-1.3zM87.0 255.2h1.3v1.3h-1.3zM78.4 262.0h1.3v1.3h-1.3zM80.5 259.1h1.3v1.3h-1.3zM72.8 252.2h1.3v1.3h-1.3zM102.4 267.3h1.3v1.3h-1.3zM96.9 256.7h1.3v1.3h-1.3zM92.9 258.7h1.3v1.3h-1.3zM98.3 269.6h1.3v1.3h-1.3zM80.3 260.0h1.3v1.3h-1.3zM98.8 256.3h1.3v1.3h-1.3zM67.2 265.2h1.3v1.3h-1.3zM83.5 267.8h1.3v1.3h-1.3zM82.9 264.5h1.3v1.3h-1.3zM98.9 259.8h1.3v1.3h-1.3zM76.9 256.6h1.3v1.3h-1.3zM82.3 263.1h1.3v1.3h-1.3zM83.1 260.7h1.3v1.3h-1.3zM92.0 272.4h1.3v1.3h-1.3zM75.4 269.1h1.3v1.3h-1.3zM94.1 267.5h1.3v1.3h-1.3zM97.2 269.9h1.3v1.3h-1.3zM91.9 257.7h1.3v1.3h-1.3zM105.8 264.6h1.3v1.3h-1.3zM76.3 254.0h1.3v1.3h-1.3zM97.2 271.0h1.3v1.3h-1.3zM92.5 251.8h1.3v1.3h-1.3zM90.8 261.3h1.3v1.3h-1.3zM103.9 269.5h1.3v1.3h-1.3zM75.9 259.5h1.3v1.3h-1.3zM89.8 271.0h1.3v1.3h-1.3zM85.1 263.8h1.3v1.3h-1.3zM103.0 271.0h1.3v1.3h-1.3zM79.9 252.5h1.3v1.3h-1.3zM82.1 270.4h1.3v1.3h-1.3zM92.0 270.0h1.3v1.3h-1.3zM82.3 261.7h1.3v1.3h-1.3zM101.2 259.3h1.3v1.3h-1.3zM95.6 267.4h1.3v1.3h-1.3zM65.9 264.0h1.3v1.3h-1.3zM91.5 264.0h1.3v1.3h-1.3zM80.4 267.3h1.3v1.3h-1.3zM86.7 253.8h1.3v1.3h-1.3zM62.7 261.1h1.3v1.3h-1.3zM71.7 267.5h1.3v1.3h-1.3zM70.0 253.6h1.3v1.3h-1.3zM99.2 264.0h1.3v1.3h-1.3zM79.7 251.1h1.3v1.3h-1.3zM65.5 259.8h1.3v1.3h-1.3zM103.9 267.4h1.3v1.3h-1.3zM85.0 257.2h1.3v1.3h-1.3zM93.0 266.9h1.3v1.3h-1.3zM71.0 263.2h1.3v1.3h-1.3zM66.8 261.1h1.3v1.3h-1.3zM93.3 260.2h1.3v1.3h-1.3zM68.2 261.5h1.3v1.3h-1.3z"/><path fill="#e0e0e0" d="M70.5 260.7h1.3v1.3h-1.3zM90.7 270.3h1.3v1.3h-1.3zM105.4 260.3h1.3v1.3h-1.3zM103.3 268.8h1.3v1.3h-1.3zM94.1 253.3h1.3v1.3h-1.3zM83.7 268.7h1.3v1.3h-1.3zM86.7 268.4h1.3v1.3h-1.3zM75.8 253.2h1.3v1.3h-1.3zM84.3 252.7h1.3v1.3h-1.3zM94.4 254.2h1.3v1.3h-1.3zM90.5 269.1h1.3v1.3h-1.3zM67.9 263.3h1.3v1.3h-1.3zM71.9 267.9h1.3v1.3h-1.3zM87.3 250.0h1.3v1.3h-1.3zM95.5 260.6h1.3v1.3h-1.3zM99.6 266.1h1.3v1.3h-1.3zM67.7 255.1h1.3v1.3h-1.3zM90.6 265.8h1.3v1.3h-1.3zM71.3 254.9h1.3v1.3h-1.3zM97.2 259.5h1.3v1.3h-1.3zM82.0 257.0h1.3v1.3h-1.3zM74.8 256.3h1.3v1.3h-1.3zM64.7 260.3h1.3v1.3h-1.3zM80.3 260.9h1.3v1.3h-1.3zM79.5 265.4h1.3v1.3h-1.3zM95.6 267.1h1.3v1.3h-1.3zM101.5 267.5h1.3v1.3h-1.3zM78.1 267.7h1.3v1.3h-1.3zM69.2 266.0h1.3v1.3h-1.3zM98.2 272.6h1.3v1.3h-1.3zM63.7 258.4h1.3v1.3h-1.3zM64.2 264.4h1.3v1.3h-1.3zM98.3 259.9h1.3v1.3h-1.3zM88.2 250.6h1.3v1.3h-1.3zM95.1 255.3h1.3v1.3h-1.3zM74.5 258.0h1.3v1.3h-1.3zM92.3 265.5h1.3v1.3h-1.3zM89.4 270.4h1.3v1.3h-1.3zM65.0 265.8h1.3v1.3h-1.3zM85.7 264.6h1.3v1.3h-1.3zM96.9 266.8h1.3v1.3h-1.3zM98.0 259.0h1.3v1.3h-1.3zM69.8 261.9h1.3v1.3h-1.3zM98.4 258.7h1.3v1.3h-1.3zM66.6 263.4h1.3v1.3h-1.3zM72.0 267.2h1.3v1.3h-1.3zM96.3 261.6h1.3v1.3h-1.3zM95.3 271.8h1.3v1.3h-1.3zM100.6 262.6h1.3v1.3h-1.3zM81.8 267.4h1.3v1.3h-1.3zM65.3 263.9h1.3v1.3h-1.3zM65.2 265.0h1.3v1.3h-1.3zM83.7 257.4h1.3v1.3h-1.3zM79.4 259.8h1.3v1.3h-1.3zM87.0 271.6h1.3v1.3h-1.3zM84.8 257.6h1.3v1.3h-1.3zM68.2 259.3h1.3v1.3h-1.3z"/><path fill="#d06060" d="M96.8 261.8h1.3v1.3h-1.3zM88.0 268.1h1.3v1.3h-1.3zM84.9 255.1h1.3v1.3h-1.3zM93.9 253.2h1.3v1.3h-1.3zM92.7 260.6h1.3v1.3h-1.3zM91.9 253.6h1.3v1.3h-1.3zM76.0 250.5h1.3v1.3h-1.3zM73.9 251.4h1.3v1.3h-1.3zM98.6 272.5h1.3v1.3h-1.3zM66.2 257.2h1.3v1.3h-1.3zM88.3 249.5h1.3v1.3h-1.3zM93.3 255.7h1.3v1.3h-1.3zM89.3 253.9h1.3v1.3h-1.3zM105.2 262.1h1.3v1.3h-1.3zM89.3 266.8h1.3v1.3h-1.3zM98.7 254.6h1.3v1.3h-1.3zM92.8 257.3h1.3v1.3h-1.3zM80.6 259.1h1.3v1.3h-1.3zM104.2 265.9h1.3v1.3h-1.3zM88.5 268.2h1.3v1.3h-1.3zM76.5 251.6h1.3v1.3h-1.3zM89.0 268.3h1.3v1.3h-1.3zM82.7 261.0h1.3v1.3h-1.3zM90.8 261.6h1.3v1.3h-1.3zM95.6 258.3h1.3v1.3h-1.3zM79.4 267.1h1.3v1.3h-1.3zM72.9 255.6h1.3v1.3h-1.3zM100.6 272.4h1.3v1.3h-1.3zM61.0 262.6h1.3v1.3h-1.3zM79.6 250.7h1.3v1.3h-1.3zM77.6 264.1h1.3v1.3h-1.3zM90.6 256.5h1.3v1.3h-1.3zM90.2 252.8h1.3v1.3h-1.3zM99.8 262.8h1.3v1.3h-1.3zM89.3 258.9h1.3v1.3h-1.3zM81.1 256.2h1.3v1.3h-1.3zM82.3 255.3h1.3v1.3h-1.3zM88.0 254.2h1.3v1.3h-1.3zM96.1 266.8h1.3v1.3h-1.3zM75.7 261.5h1.3v1.3h-1.3zM100.1 259.6h1.3v1.3h-1.3zM89.1 258.8h1.3v1.3h-1.3zM101.8 268.3h1.3v1.3h-1.3zM105.1 262.7h1.3v1.3h-1.3zM68.8 268.7h1.3v1.3h-1.3zM89.1 258.4h1.3v1.3h-1.3zM78.9 262.9h1.3v1.3h-1.3zM67.7 257.1h1.3v1.3h-1.3zM92.5 260.3h1.3v1.3h-1.3zM92.1 251.8h1.3v1.3h-1.3zM80.7 250.1h1.3v1.3h-1.3zM81.8 252.2h1.3v1.3h-1.3zM63.9 262.9h1.3v1.3h-1.3zM76.1 260.3h1.3v1.3h-1.3zM94.3 265.7h1.3v1.3h-1.3zM78.8 256.0h1.3v1.3h-1.3zM64.2 263.4h1.3v1.3h-1.3zM92.0 252.3h1.3v1.3h-1.3zM86.6 256.9h1.3v1.3h-1.3zM78.6 254.4h1.3v1.3h-1.3zM74.8 260.6h1.3v1.3h-1.3zM83.6 266.5h1.3v1.3h-1.3zM98.6 265.7h1.3v1.3h-1.3zM73.8 262.6h1.3v1.3h-1.3zM94.9 262.7h1.3v1.3h-1.3zM74.5 252.5h1.3v1.3h-1.3zM72.1 251.7h1.3v1.3h-1.3zM86.1 267.7h1.3v1.3h-1.3zM70.4 260.1h1.3v1.3h-1.3zM88.1 256.0h1.3v1.3h-1.3zM94.3 257.6h1.3v1.3h-1.3zM85.9 251.8h1.3v1.3h-1.3z"/><path fill="#d8d8d8" d="M93.1 267.2h1.3v1.3h-1.3zM70.2 256.3h1.3v1.3h-1.3zM66.3 263.9h1.3v1.3h-1.3zM102.0 268.3h1.3v1.3h-1.3zM93.2 261.3h1.3v1.3h-1.3zM86.8 251.1h1.3v1.3h-1.3zM84.6 262.1h1.3v1.3h-1.3zM93.6 269.7h1.3v1.3h-1.3zM77.5 263.1h1.3v1.3h-1.3zM88.4 270.9h1.3v1.3h-1.3zM65.8 259.5h1.3v1.3h-1.3zM69.8 265.2h1.3v1.3h-1.3zM85.5 269.8h1.3v1.3h-1.3zM82.7 259.1h1.3v1.3h-1.3zM102.3 259.1h1.3v1.3h-1.3zM78.8 261.2h1.3v1.3h-1.3zM82.5 253.5h1.3v1.3h-1.3zM89.0 252.3h1.3v1.3h-1.3zM95.0 260.0h1.3v1.3h-1.3zM70.4 256.8h1.3v1.3h-1.3zM93.5 253.4h1.3v1.3h-1.3zM84.7 255.6h1.3v1.3h-1.3zM80.9 251.3h1.3v1.3h-1.3zM70.3 262.1h1.3v1.3h-1.3zM95.4 264.8h1.3v1.3h-1.3zM93.3 266.5h1.3v1.3h-1.3zM82.0 251.6h1.3v1.3h-1.3zM92.8 268.7h1.3v1.3h-1.3zM94.9 255.6h1.3v1.3h-1.3zM74.6 255.5h1.3v1.3h-1.3zM84.9 258.2h1.3v1.3h-1.3zM75.8 256.0h1.3v1.3h-1.3zM97.5 256.9h1.3v1.3h-1.3zM92.0 270.5h1.3v1.3h-1.3zM87.5 268.2h1.3v1.3h-1.3zM90.1 252.5h1.3v1.3h-1.3zM89.2 272.9h1.3v1.3h-1.3zM92.3 258.1h1.3v1.3h-1.3zM95.6 257.6h1.3v1.3h-1.3zM89.3 273.2h1.3v1.3h-1.3zM82.8 251.1h1.3v1.3h-1.3zM92.5 259.5h1.3v1.3h-1.3zM76.8 268.9h1.3v1.3h-1.3zM106.6 263.0h1.3v1.3h-1.3zM95.9 252.8h1.3v1.3h-1.3zM78.5 255.9h1.3v1.3h-1.3zM84.7 267.0h1.3v1.3h-1.3zM78.5 270.6h1.3v1.3h-1.3zM103.8 264.4h1.3v1.3h-1.3zM95.6 260.1h1.3v1.3h-1.3zM73.4 260.0h1.3v1.3h-1.3zM91.6 251.0h1.3v1.3h-1.3zM101.0 260.6h1.3v1.3h-1.3zM75.9 260.9h1.3v1.3h-1.3zM81.9 248.4h1.3v1.3h-1.3zM69.0 268.2h1.3v1.3h-1.3zM78.6 262.3h1.3v1.3h-1.3zM98.6 262.5h1.3v1.3h-1.3zM96.6 260.8h1.3v1.3h-1.3zM102.4 258.8h1.3v1.3h-1.3zM81.8 259.7h1.3v1.3h-1.3zM81.9 252.0h1.3v1.3h-1.3zM84.2 250.3h1.3v1.3h-1.3zM63.4 260.4h1.3v1.3h-1.3zM89.6 261.5h1.3v1.3h-1.3zM99.0 269.6h1.3v1.3h-1.3zM93.7 262.7h1.3v1.3h-1.3zM71.9 258.6h1.3v1.3h-1.3zM73.6 259.9h1.3v1.3h-1.3zM81.5 267.5h1.3v1.3h-1.3zM87.9 269.1h1.3v1.3h-1.3z"/><path fill="#c8c8d8" d="M81.4 261.6h1.3v1.3h-1.3zM94.6 257.7h1.3v1.3h-1.3zM83.4 256.2h1.3v1.3h-1.3zM100.9 265.1h1.3v1.3h-1.3zM96.3 253.7h1.3v1.3h-1.3zM77.4 266.6h1.3v1.3h-1.3zM93.1 251.7h1.3v1.3h-1.3zM96.5 263.9h1.3v1.3h-1.3zM71.7 268.8h1.3v1.3h-1.3zM65.4 261.8h1.3v1.3h-1.3zM72.1 269.1h1.3v1.3h-1.3zM68.1 258.0h1.3v1.3h-1.3zM94.7 258.0h1.3v1.3h-1.3zM67.8 257.2h1.3v1.3h-1.3zM69.5 263.8h1.3v1.3h-1.3zM89.9 264.1h1.3v1.3h-1.3zM71.6 252.7h1.3v1.3h-1.3zM93.9 256.3h1.3v1.3h-1.3zM95.8 263.0h1.3v1.3h-1.3zM85.2 263.3h1.3v1.3h-1.3zM100.6 263.4h1.3v1.3h-1.3zM94.7 258.0h1.3v1.3h-1.3zM73.1 258.3h1.3v1.3h-1.3zM71.2 256.8h1.3v1.3h-1.3zM80.7 255.3h1.3v1.3h-1.3zM80.1 257.5h1.3v1.3h-1.3zM76.9 253.5h1.3v1.3h-1.3zM81.3 255.5h1.3v1.3h-1.3zM76.6 269.3h1.3v1.3h-1.3zM66.8 263.2h1.3v1.3h-1.3zM102.3 262.0h1.3v1.3h-1.3zM70.1 268.8h1.3v1.3h-1.3zM84.8 261.4h1.3v1.3h-1.3zM79.3 268.9h1.3v1.3h-1.3zM73.9 256.2h1.3v1.3h-1.3zM103.3 267.7h1.3v1.3h-1.3zM82.7 252.6h1.3v1.3h-1.3zM104.0 267.5h1.3v1.3h-1.3zM82.7 248.8h1.3v1.3h-1.3zM89.8 258.5h1.3v1.3h-1.3zM83.2 255.3h1.3v1.3h-1.3zM80.8 248.8h1.3v1.3h-1.3zM92.5 267.7h1.3v1.3h-1.3zM80.8 262.4h1.3v1.3h-1.3zM86.5 268.7h1.3v1.3h-1.3zM64.5 265.0h1.3v1.3h-1.3zM89.1 269.2h1.3v1.3h-1.3zM100.8 268.7h1.3v1.3h-1.3zM94.7 268.9h1.3v1.3h-1.3zM105.2 263.7h1.3v1.3h-1.3zM99.6 261.0h1.3v1.3h-1.3zM97.6 262.6h1.3v1.3h-1.3zM91.7 264.6h1.3v1.3h-1.3zM67.1 257.0h1.3v1.3h-1.3zM90.1 256.6h1.3v1.3h-1.3zM72.3 267.6h1.3v1.3h-1.3zM82.4 259.3h1.3v1.3h-1.3zM80.5 259.7h1.3v1.3h-1.3zM80.2 258.3h1.3v1.3h-1.3zM84.4 267.8h1.3v1.3h-1.3zM89.0 251.3h1.3v1.3h-1.3zM80.2 253.9h1.3v1.3h-1.3zM96.4 266.4h1.3v1.3h-1.3zM89.0 255.7h1.3v1.3h-1.3zM98.1 255.1h1.3v1.3h-1.3zM96.5 264.1h1.3v1.3h-1.3zM79.9 251.5h1.3v1.3h-1.3zM94.5 257.5h1.3v1.3h-1.3zM93.0 266.8h1.3v1.3h-1.3zM93.1 266.0h1.3v1.3h-1.3zM69.5 255.3h1.3v1.3h-1.3zM74.1 262.5h1.3v1.3h-1.3zM76.5 256.7h1.3v1.3h-1.3zM84.5 260.8h1.3v1.3h-1.3zM86.6 262.3h1.3v1.3h-1.3zM95.3 261.7h1.3v1.3h-1.3zM90.9 262.0h1.3v1.3h-1.3zM90.4 254.0h1.3v1.3h-1.3zM91.4 253.4h1.3v1.3h-1.3zM86.0 265.8h1.3v1.3h-1.3z"/><path fill="#cfcfcf" d="M84.4 250.4h1.3v1.3h-1.3zM99.6 268.5h1.3v1.3h-1.3zM71.5 260.6h1.3v1.3h-1.3zM99.6 272.5h1.3v1.3h-1.3zM85.2 257.4h1.3v1.3h-1.3zM93.3 264.3h1.3v1.3h-1.3zM100.4 258.6h1.3v1.3h-1.3zM97.3 256.8h1.3v1.3h-1.3zM87.2 264.0h1.3v1.3h-1.3zM75.9 255.0h1.3v1.3h-1.3zM81.0 256.9h1.3v1.3h-1.3zM103.1 259.5h1.3v1.3h-1.3zM70.0 265.1h1.3v1.3h-1.3zM89.9 270.2h1.3v1.3h-1.3zM95.8 273.6h1.3v1.3h-1.3zM66.9 258.4h1.3v1.3h-1.3zM94.7 269.6h1.3v1.3h-1.3zM79.9 259.7h1.3v1.3h-1.3zM93.9 270.8h1.3v1.3h-1.3zM96.7 258.0h1.3v1.3h-1.3zM88.5 260.3h1.3v1.3h-1.3zM76.8 259.1h1.3v1.3h-1.3zM86.2 265.3h1.3v1.3h-1.3zM95.7 267.1h1.3v1.3h-1.3zM68.2 262.5h1.3v1.3h-1.3zM93.9 264.2h1.3v1.3h-1.3zM99.9 256.0h1.3v1.3h-1.3zM67.6 255.4h1.3v1.3h-1.3zM97.1 262.3h1.3v1.3h-1.3zM93.6 273.5h1.3v1.3h-1.3zM86.4 262.3h1.3v1.3h-1.3zM70.4 255.8h1.3v1.3h-1.3zM93.9 261.2h1.3v1.3h-1.3zM85.9 250.6h1.3v1.3h-1.3zM97.2 264.0h1.3v1.3h-1.3zM103.7 262.9h1.3v1.3h-1.3zM94.1 263.3h1.3v1.3h-1.3zM77.2 267.1h1.3v1.3h-1.3zM78.4 256.4h1.3v1.3h-1.3zM84.5 252.8h1.3v1.3h-1.3zM88.6 268.6h1.3v1.3h-1.3zM62.9 259.0h1.3v1.3h-1.3zM103.5 269.6h1.3v1.3h-1.3zM103.5 267.1h1.3v1.3h-1.3zM92.5 269.9h1.3v1.3h-1.3zM101.8 269.2h1.3v1.3h-1.3zM71.8 256.6h1.3v1.3h-1.3zM96.5 262.9h1.3v1.3h-1.3zM96.0 255.1h1.3v1.3h-1.3zM105.7 262.4h1.3v1.3h-1.3zM101.6 268.4h1.3v1.3h-1.3zM93.4 255.3h1.3v1.3h-1.3zM92.5 263.3h1.3v1.3h-1.3zM83.6 263.0h1.3v1.3h-1.3zM84.2 268.3h1.3v1.3h-1.3zM95.0 272.6h1.3v1.3h-1.3zM69.4 253.5h1.3v1.3h-1.3zM69.5 266.1h1.3v1.3h-1.3zM71.9 262.2h1.3v1.3h-1.3zM91.9 258.8h1.3v1.3h-1.3zM75.4 260.4h1.3v1.3h-1.3zM90.1 265.5h1.3v1.3h-1.3zM91.9 264.1h1.3v1.3h-1.3zM84.1 268.2h1.3v1.3h-1.3zM97.5 273.7h1.3v1.3h-1.3zM70.6 267.6h1.3v1.3h-1.3zM74.8 266.6h1.3v1.3h-1.3zM103.8 258.9h1.3v1.3h-1.3zM66.4 257.5h1.3v1.3h-1.3zM101.1 261.6h1.3v1.3h-1.3zM100.6 258.8h1.3v1.3h-1.3zM71.0 269.0h1.3v1.3h-1.3zM90.9 271.8h1.3v1.3h-1.3zM89.8 258.6h1.3v1.3h-1.3z"/>
<path fill="#2a9690" d="M53.3 270.2h1.1v1.1h-1.1zM57.5 275.9h1.1v1.1h-1.1zM53.8 283.3h1.1v1.1h-1.1zM61.4 273.0h1.1v1.1h-1.1zM66.1 276.6h1.1v1.1h-1.1zM51.1 285.5h1.1v1.1h-1.1zM61.2 269.4h1.1v1.1h-1.1zM55.3 273.1h1.1v1.1h-1.1zM61.5 265.4h1.1v1.1h-1.1zM64.9 269.5h1.1v1.1h-1.1zM56.6 294.4h1.1v1.1h-1.1zM67.8 269.1h1.1v1.1h-1.1zM60.2 283.0h1.1v1.1h-1.1zM55.1 295.2h1.1v1.1h-1.1zM58.9 279.1h1.1v1.1h-1.1zM56.8 281.0h1.1v1.1h-1.1zM60.1 289.3h1.1v1.1h-1.1zM60.0 281.2h1.1v1.1h-1.1z"/><path fill="#e0e0e0" d="M58.3 271.8h1.1v1.1h-1.1zM57.4 269.4h1.1v1.1h-1.1zM60.1 269.6h1.1v1.1h-1.1zM66.9 271.7h1.1v1.1h-1.1zM49.8 284.4h1.1v1.1h-1.1zM50.5 288.1h1.1v1.1h-1.1zM62.1 278.5h1.1v1.1h-1.1zM55.6 295.9h1.1v1.1h-1.1zM60.9 272.3h1.1v1.1h-1.1zM56.9 280.0h1.1v1.1h-1.1zM50.1 281.1h1.1v1.1h-1.1z"/><path fill="#f2b10c" d="M61.7 276.1h1.1v1.1h-1.1zM51.8 276.5h1.1v1.1h-1.1zM56.1 267.5h1.1v1.1h-1.1zM54.9 270.3h1.1v1.1h-1.1zM63.1 264.8h1.1v1.1h-1.1zM53.0 289.8h1.1v1.1h-1.1zM64.6 264.5h1.1v1.1h-1.1zM56.2 284.9h1.1v1.1h-1.1z"/><path fill="#f0b0b0" d="M66.7 274.6h1.1v1.1h-1.1zM57.7 293.0h1.1v1.1h-1.1zM56.9 281.7h1.1v1.1h-1.1zM52.3 276.7h1.1v1.1h-1.1zM57.8 290.2h1.1v1.1h-1.1zM52.9 289.7h1.1v1.1h-1.1zM50.4 280.8h1.1v1.1h-1.1zM62.4 282.7h1.1v1.1h-1.1zM58.4 280.4h1.1v1.1h-1.1zM58.7 289.9h1.1v1.1h-1.1zM58.4 267.5h1.1v1.1h-1.1zM59.9 285.8h1.1v1.1h-1.1zM57.5 295.0h1.1v1.1h-1.1zM53.3 292.6h1.1v1.1h-1.1zM53.7 295.0h1.1v1.1h-1.1zM57.1 287.2h1.1v1.1h-1.1zM60.5 267.6h1.1v1.1h-1.1z"/><path fill="#1c6eaf" d="M52.1 284.9h1.1v1.1h-1.1zM53.1 290.3h1.1v1.1h-1.1zM56.4 270.3h1.1v1.1h-1.1zM54.8 279.5h1.1v1.1h-1.1zM57.9 266.1h1.1v1.1h-1.1zM57.8 264.2h1.1v1.1h-1.1zM57.7 266.8h1.1v1.1h-1.1zM51.8 292.9h1.1v1.1h-1.1zM59.5 277.0h1.1v1.1h-1.1zM53.3 292.1h1.1v1.1h-1.1zM56.0 272.9h1.1v1.1h-1.1zM61.3 285.8h1.1v1.1h-1.1zM55.2 286.4h1.1v1.1h-1.1zM61.4 273.6h1.1v1.1h-1.1zM67.5 271.3h1.1v1.1h-1.1zM51.5 286.8h1.1v1.1h-1.1zM58.8 283.7h1.1v1.1h-1.1zM54.0 277.7h1.1v1.1h-1.1zM67.0 264.9h1.1v1.1h-1.1zM62.7 284.9h1.1v1.1h-1.1zM60.9 265.6h1.1v1.1h-1.1z"/><path fill="#d06060" d="M50.5 284.4h1.1v1.1h-1.1zM58.2 277.8h1.1v1.1h-1.1zM52.5 292.9h1.1v1.1h-1.1zM58.8 266.0h1.1v1.1h-1.1zM60.1 281.3h1.1v1.1h-1.1zM60.5 277.1h1.1v1.1h-1.1zM60.3 289.3h1.1v1.1h-1.1zM54.6 272.3h1.1v1.1h-1.1zM66.8 264.6h1.1v1.1h-1.1zM61.3 271.4h1.1v1.1h-1.1zM55.2 265.3h1.1v1.1h-1.1zM53.1 276.5h1.1v1.1h-1.1zM56.0 283.3h1.1v1.1h-1.1zM56.6 276.8h1.1v1.1h-1.1zM56.5 268.1h1.1v1.1h-1.1z"/>
<path d="M47.0,236.0C47.9,232.7 49.8,231.3 52.0,230.0C54.2,228.7 57.0,228.4 60.0,228.0C63.0,227.6 67.0,227.2 70.0,227.5C73.0,227.8 75.7,228.9 78.0,230.0C80.3,231.1 82.6,232.3 84.0,234.0C85.4,235.7 86.3,237.7 86.5,240.0C86.7,242.3 86.4,246.3 85.0,248.0C83.6,249.7 80.2,249.0 78.0,250.0C75.8,251.0 74.0,252.3 72.0,254.0C70.0,255.7 68.0,258.2 66.0,260.0C64.0,261.8 62.0,263.7 60.0,265.0C58.0,266.3 55.8,268.5 54.0,268.0C52.2,267.5 50.2,265.0 49.0,262.0C47.8,259.0 46.8,254.3 46.5,250.0C46.2,245.7 46.1,239.3 47.0,236.0Z" fill="#116e60"/>
<path fill="#116e60" d="M77.5 252.6h1.2v1.2h-1.2zM86.5 246.9h1.2v1.2h-1.2zM76.0 253.4h1.2v1.2h-1.2zM71.5 245.9h1.2v1.2h-1.2zM85.4 252.0h1.2v1.2h-1.2zM84.0 252.0h1.2v1.2h-1.2zM80.0 247.6h1.2v1.2h-1.2zM74.7 253.0h1.2v1.2h-1.2zM83.6 251.5h1.2v1.2h-1.2zM77.9 253.6h1.2v1.2h-1.2zM75.5 250.9h1.2v1.2h-1.2zM82.1 255.3h1.2v1.2h-1.2zM76.5 250.1h1.2v1.2h-1.2zM81.4 246.8h1.2v1.2h-1.2zM75.2 247.7h1.2v1.2h-1.2zM85.7 250.2h1.2v1.2h-1.2zM78.5 254.8h1.2v1.2h-1.2zM73.7 257.1h1.2v1.2h-1.2zM72.9 250.2h1.2v1.2h-1.2zM83.9 245.5h1.2v1.2h-1.2zM78.6 248.7h1.2v1.2h-1.2zM70.1 258.4h1.2v1.2h-1.2zM86.2 251.7h1.2v1.2h-1.2zM83.7 251.0h1.2v1.2h-1.2zM83.2 252.5h1.2v1.2h-1.2zM71.9 254.8h1.2v1.2h-1.2zM76.3 246.4h1.2v1.2h-1.2zM85.9 247.4h1.2v1.2h-1.2zM73.9 253.5h1.2v1.2h-1.2zM75.8 257.7h1.2v1.2h-1.2zM71.2 256.5h1.2v1.2h-1.2zM83.1 248.9h1.2v1.2h-1.2zM81.1 251.9h1.2v1.2h-1.2zM73.6 252.3h1.2v1.2h-1.2zM73.9 248.6h1.2v1.2h-1.2zM80.9 243.3h1.2v1.2h-1.2zM80.5 247.3h1.2v1.2h-1.2zM75.6 252.7h1.2v1.2h-1.2zM77.7 252.4h1.2v1.2h-1.2zM79.5 243.5h1.2v1.2h-1.2zM76.5 251.6h1.2v1.2h-1.2zM78.8 254.0h1.2v1.2h-1.2zM73.5 254.4h1.2v1.2h-1.2zM73.8 255.7h1.2v1.2h-1.2zM74.4 251.6h1.2v1.2h-1.2zM76.5 246.8h1.2v1.2h-1.2zM74.9 246.7h1.2v1.2h-1.2zM86.6 250.8h1.2v1.2h-1.2zM75.3 256.3h1.2v1.2h-1.2zM72.0 253.6h1.2v1.2h-1.2zM75.6 257.7h1.2v1.2h-1.2zM85.1 244.1h1.2v1.2h-1.2zM78.4 249.3h1.2v1.2h-1.2zM74.7 252.3h1.2v1.2h-1.2zM76.3 253.4h1.2v1.2h-1.2zM82.5 248.9h1.2v1.2h-1.2zM79.8 243.4h1.2v1.2h-1.2zM76.3 246.1h1.2v1.2h-1.2zM79.7 243.6h1.2v1.2h-1.2z"/><path fill="#dcdcdc" d="M71.9 248.4h1.2v1.2h-1.2zM77.2 253.6h1.2v1.2h-1.2zM79.4 244.4h1.2v1.2h-1.2zM78.1 250.3h1.2v1.2h-1.2zM71.2 253.3h1.2v1.2h-1.2zM83.2 242.4h1.2v1.2h-1.2zM75.4 247.4h1.2v1.2h-1.2zM73.7 246.1h1.2v1.2h-1.2zM76.2 244.7h1.2v1.2h-1.2zM79.9 248.9h1.2v1.2h-1.2zM71.4 247.0h1.2v1.2h-1.2zM85.2 247.0h1.2v1.2h-1.2zM77.0 246.8h1.2v1.2h-1.2zM82.9 247.3h1.2v1.2h-1.2zM74.8 254.7h1.2v1.2h-1.2zM78.5 248.5h1.2v1.2h-1.2zM85.1 248.2h1.2v1.2h-1.2zM75.5 253.1h1.2v1.2h-1.2zM77.7 248.6h1.2v1.2h-1.2zM81.5 249.7h1.2v1.2h-1.2zM78.0 252.5h1.2v1.2h-1.2zM75.9 249.8h1.2v1.2h-1.2zM84.0 243.3h1.2v1.2h-1.2zM73.2 254.8h1.2v1.2h-1.2zM71.0 250.8h1.2v1.2h-1.2zM76.0 247.7h1.2v1.2h-1.2zM84.0 253.6h1.2v1.2h-1.2zM76.7 254.4h1.2v1.2h-1.2zM84.1 247.2h1.2v1.2h-1.2z"/><path fill="#d06060" d="M77.2 247.5h1.2v1.2h-1.2zM78.9 251.9h1.2v1.2h-1.2zM84.1 251.4h1.2v1.2h-1.2zM83.9 251.6h1.2v1.2h-1.2zM82.1 249.4h1.2v1.2h-1.2zM75.8 244.3h1.2v1.2h-1.2zM71.6 246.4h1.2v1.2h-1.2zM83.4 242.6h1.2v1.2h-1.2zM78.3 250.6h1.2v1.2h-1.2zM73.8 247.6h1.2v1.2h-1.2zM74.4 244.7h1.2v1.2h-1.2zM76.2 246.3h1.2v1.2h-1.2zM81.9 249.7h1.2v1.2h-1.2zM78.3 257.6h1.2v1.2h-1.2zM73.2 253.8h1.2v1.2h-1.2zM81.3 249.2h1.2v1.2h-1.2zM71.4 251.3h1.2v1.2h-1.2zM85.9 248.0h1.2v1.2h-1.2zM80.7 246.5h1.2v1.2h-1.2zM86.4 246.4h1.2v1.2h-1.2zM78.4 253.3h1.2v1.2h-1.2zM79.8 253.2h1.2v1.2h-1.2z"/>
<path d="M100.0,237.0C100.7,235.7 102.5,234.5 104.0,234.0C105.5,233.5 107.8,233.3 109.0,233.8C110.2,234.3 111.2,235.5 111.5,237.0C111.8,238.5 111.4,241.7 110.5,243.0C109.6,244.3 107.4,244.0 106.0,245.0C104.6,246.0 103.2,248.1 102.0,249.0C100.8,249.9 99.2,251.0 98.5,250.5C97.8,250.0 97.8,247.4 98.0,246.0C98.2,244.6 99.7,243.5 100.0,242.0C100.3,240.5 99.3,238.3 100.0,237.0Z" fill="#7a2a9a"/>
<path d="M44.0,252.5C45.2,251.4 46.9,251.2 48.0,251.5C49.1,251.8 50.1,252.2 50.5,254.0C50.9,255.8 50.8,259.8 50.5,262.0C50.2,264.2 50.4,266.5 49.0,267.5C47.6,268.5 43.9,268.1 42.0,268.0C40.1,267.9 38.2,267.8 37.5,267.0C36.8,266.2 37.4,264.5 38.0,263.0C38.6,261.5 40.0,259.8 41.0,258.0C42.0,256.2 42.8,253.6 44.0,252.5Z" fill="#e01818"/>
<path d="M23.0,267.0C24.3,264.7 26.8,264.4 30.0,264.0C33.2,263.6 38.5,264.2 42.0,264.5C45.5,264.8 49.2,264.8 51.0,266.0C52.8,267.2 52.8,268.0 53.0,272.0C53.2,276.0 52.3,283.7 52.0,290.0C51.7,296.3 51.5,304.7 51.0,310.0C50.5,315.3 50.0,319.3 49.0,322.0C48.0,324.7 46.5,326.2 45.0,326.0C43.5,325.8 42.2,324.3 40.0,321.0C37.8,317.7 34.3,310.8 32.0,306.0C29.7,301.2 27.7,296.7 26.0,292.0C24.3,287.3 22.5,282.2 22.0,278.0C21.5,273.8 21.7,269.3 23.0,267.0Z" fill="#2a9690"/>
<path d="M112.0,262.0C115.3,260.3 120.5,264.3 124.0,266.0C127.5,267.7 130.2,269.7 133.0,272.0C135.8,274.3 139.2,277.3 141.0,280.0C142.8,282.7 143.5,285.0 143.5,288.0C143.5,291.0 142.2,295.2 141.0,298.0C139.8,300.8 138.3,302.7 136.0,305.0C133.7,307.3 130.3,309.8 127.0,312.0C123.7,314.2 119.8,317.7 116.0,318.0C112.2,318.3 106.7,317.7 104.0,314.0C101.3,310.3 100.0,302.3 100.0,296.0C100.0,289.7 102.0,281.7 104.0,276.0C106.0,270.3 108.7,263.7 112.0,262.0Z" fill="#b82424"/>
<path d="M90.0,280.0C91.7,277.2 94.3,276.0 98.0,275.0C101.7,274.0 107.3,273.8 112.0,274.0C116.7,274.2 122.3,274.7 126.0,276.0C129.7,277.3 132.2,279.3 134.0,282.0C135.8,284.7 137.3,288.7 137.0,292.0C136.7,295.3 134.2,299.0 132.0,302.0C129.8,305.0 126.7,307.5 124.0,310.0C121.3,312.5 119.0,315.3 116.0,317.0C113.0,318.7 109.3,320.2 106.0,320.0C102.7,319.8 98.8,318.5 96.0,316.0C93.2,313.5 90.3,309.0 89.0,305.0C87.7,301.0 87.8,296.2 88.0,292.0C88.2,287.8 88.3,282.8 90.0,280.0Z" fill="#ea5a64"/>
<path d="M100.0,261.0C101.5,258.8 103.8,257.7 106.0,257.0C108.2,256.3 110.8,256.3 113.0,256.8C115.2,257.3 116.8,258.5 119.0,260.0C121.2,261.5 124.3,263.8 126.0,266.0C127.7,268.2 129.3,270.5 129.0,273.0C128.7,275.5 126.5,279.0 124.0,281.0C121.5,283.0 117.3,284.0 114.0,285.0C110.7,286.0 106.7,287.7 104.0,287.0C101.3,286.3 99.2,283.8 98.0,281.0C96.8,278.2 96.7,273.3 97.0,270.0C97.3,266.7 98.5,263.2 100.0,261.0Z" fill="#d61c7c"/>
<path fill="#f0c0c8" d="M125.2 267.8h1.1v1.1h-1.1zM133.9 278.8h1.1v1.1h-1.1zM118.7 263.3h1.1v1.1h-1.1zM137.2 276.8h1.1v1.1h-1.1zM122.6 267.4h1.1v1.1h-1.1zM125.6 267.1h1.1v1.1h-1.1zM130.3 274.1h1.1v1.1h-1.1zM124.8 271.6h1.1v1.1h-1.1zM135.9 279.0h1.1v1.1h-1.1zM133.9 272.9h1.1v1.1h-1.1zM138.5 277.7h1.1v1.1h-1.1zM133.1 274.2h1.1v1.1h-1.1zM124.7 265.2h1.1v1.1h-1.1zM129.1 273.3h1.1v1.1h-1.1zM131.8 275.4h1.1v1.1h-1.1zM123.3 263.3h1.1v1.1h-1.1zM126.9 270.5h1.1v1.1h-1.1zM136.7 281.4h1.1v1.1h-1.1zM133.4 273.9h1.1v1.1h-1.1zM135.9 275.4h1.1v1.1h-1.1zM128.8 271.2h1.1v1.1h-1.1zM135.0 277.6h1.1v1.1h-1.1zM128.3 269.4h1.1v1.1h-1.1zM121.3 266.1h1.1v1.1h-1.1zM129.8 274.0h1.1v1.1h-1.1zM126.9 268.2h1.1v1.1h-1.1zM130.2 269.3h1.1v1.1h-1.1zM124.6 271.4h1.1v1.1h-1.1zM131.1 273.6h1.1v1.1h-1.1zM128.0 270.8h1.1v1.1h-1.1zM134.7 274.4h1.1v1.1h-1.1zM123.2 265.0h1.1v1.1h-1.1zM124.6 267.0h1.1v1.1h-1.1zM122.4 264.3h1.1v1.1h-1.1zM135.9 275.9h1.1v1.1h-1.1zM117.9 262.8h1.1v1.1h-1.1zM126.5 270.0h1.1v1.1h-1.1zM132.7 272.4h1.1v1.1h-1.1zM126.0 266.0h1.1v1.1h-1.1zM134.1 277.8h1.1v1.1h-1.1zM128.6 275.2h1.1v1.1h-1.1zM119.8 264.6h1.1v1.1h-1.1zM132.1 276.3h1.1v1.1h-1.1zM127.8 270.2h1.1v1.1h-1.1z"/><path fill="#f4d0d8" d="M128.8 270.0h1.1v1.1h-1.1zM130.8 270.8h1.1v1.1h-1.1zM121.3 266.6h1.1v1.1h-1.1zM135.1 274.2h1.1v1.1h-1.1zM131.1 275.1h1.1v1.1h-1.1zM126.1 266.3h1.1v1.1h-1.1zM125.0 264.7h1.1v1.1h-1.1zM128.0 268.7h1.1v1.1h-1.1zM123.6 264.1h1.1v1.1h-1.1zM135.5 276.5h1.1v1.1h-1.1zM128.5 269.0h1.1v1.1h-1.1zM124.6 263.8h1.1v1.1h-1.1zM137.6 277.8h1.1v1.1h-1.1zM135.3 278.3h1.1v1.1h-1.1zM134.7 274.8h1.1v1.1h-1.1zM132.3 277.2h1.1v1.1h-1.1zM135.5 276.4h1.1v1.1h-1.1zM122.6 263.3h1.1v1.1h-1.1zM121.9 261.6h1.1v1.1h-1.1zM129.1 268.7h1.1v1.1h-1.1zM127.5 271.2h1.1v1.1h-1.1zM127.4 272.9h1.1v1.1h-1.1zM138.9 278.6h1.1v1.1h-1.1zM121.2 263.5h1.1v1.1h-1.1zM123.9 266.0h1.1v1.1h-1.1zM127.9 268.5h1.1v1.1h-1.1zM127.0 270.5h1.1v1.1h-1.1zM134.7 274.8h1.1v1.1h-1.1zM126.1 269.4h1.1v1.1h-1.1zM132.7 273.1h1.1v1.1h-1.1zM128.0 270.9h1.1v1.1h-1.1zM121.2 262.6h1.1v1.1h-1.1zM123.1 268.2h1.1v1.1h-1.1zM120.9 264.6h1.1v1.1h-1.1zM124.5 267.4h1.1v1.1h-1.1zM123.8 263.3h1.1v1.1h-1.1zM122.9 266.4h1.1v1.1h-1.1zM125.2 272.1h1.1v1.1h-1.1zM123.9 264.6h1.1v1.1h-1.1zM130.1 272.5h1.1v1.1h-1.1zM129.3 273.1h1.1v1.1h-1.1z"/><path fill="#ffffff" d="M133.3 272.4h1.1v1.1h-1.1zM136.1 275.7h1.1v1.1h-1.1zM136.9 276.9h1.1v1.1h-1.1zM126.5 265.7h1.1v1.1h-1.1zM134.8 278.2h1.1v1.1h-1.1zM121.6 263.3h1.1v1.1h-1.1zM127.7 270.5h1.1v1.1h-1.1zM130.0 269.1h1.1v1.1h-1.1zM133.2 276.8h1.1v1.1h-1.1zM126.8 265.9h1.1v1.1h-1.1zM122.9 261.9h1.1v1.1h-1.1zM122.9 264.1h1.1v1.1h-1.1zM137.5 281.8h1.1v1.1h-1.1zM127.5 267.2h1.1v1.1h-1.1zM138.3 279.5h1.1v1.1h-1.1zM126.6 269.0h1.1v1.1h-1.1zM117.8 262.6h1.1v1.1h-1.1zM124.2 270.3h1.1v1.1h-1.1zM130.5 273.0h1.1v1.1h-1.1zM121.1 263.5h1.1v1.1h-1.1zM122.6 262.4h1.1v1.1h-1.1zM135.1 281.2h1.1v1.1h-1.1zM132.6 276.7h1.1v1.1h-1.1zM124.8 267.1h1.1v1.1h-1.1zM122.1 264.0h1.1v1.1h-1.1z"/>
<path d="M60.0,272.0C61.3,270.5 64.0,269.0 66.0,268.0C68.0,267.0 70.0,265.8 72.0,266.0C74.0,266.2 76.0,268.3 78.0,269.0C80.0,269.7 82.3,269.0 84.0,270.0C85.7,271.0 86.7,273.2 88.0,275.0C89.3,276.8 91.1,278.8 92.0,281.0C92.9,283.2 94.2,286.2 93.5,288.0C92.8,289.8 89.6,290.5 88.0,292.0C86.4,293.5 85.5,295.3 84.0,297.0C82.5,298.7 80.7,301.8 79.0,302.0C77.3,302.2 75.8,299.5 74.0,298.0C72.2,296.5 70.0,294.5 68.0,293.0C66.0,291.5 63.8,290.7 62.0,289.0C60.2,287.3 57.7,285.0 57.0,283.0C56.3,281.0 57.5,278.8 58.0,277.0C58.5,275.2 58.7,273.5 60.0,272.0Z" fill="#1c6eaf"/>
<path fill="#1c6eaf" d="M62.4 274.8h1.4v1.4h-1.4zM60.8 265.7h1.4v1.4h-1.4zM78.8 270.0h1.4v1.4h-1.4zM92.0 284.3h1.4v1.4h-1.4zM66.1 294.9h1.4v1.4h-1.4zM77.8 287.4h1.4v1.4h-1.4zM60.3 273.9h1.4v1.4h-1.4zM89.8 287.8h1.4v1.4h-1.4zM76.7 302.3h1.4v1.4h-1.4zM92.6 285.7h1.4v1.4h-1.4zM63.7 285.4h1.4v1.4h-1.4zM88.9 274.5h1.4v1.4h-1.4zM59.5 282.3h1.4v1.4h-1.4zM76.5 287.9h1.4v1.4h-1.4zM73.3 292.6h1.4v1.4h-1.4zM74.9 276.1h1.4v1.4h-1.4zM60.3 278.1h1.4v1.4h-1.4zM65.7 286.9h1.4v1.4h-1.4zM72.6 267.1h1.4v1.4h-1.4zM82.0 281.0h1.4v1.4h-1.4zM86.3 285.7h1.4v1.4h-1.4zM85.3 275.9h1.4v1.4h-1.4zM54.8 276.7h1.4v1.4h-1.4zM78.2 284.3h1.4v1.4h-1.4zM80.4 286.7h1.4v1.4h-1.4zM61.8 275.0h1.4v1.4h-1.4zM61.4 283.3h1.4v1.4h-1.4zM89.3 293.4h1.4v1.4h-1.4zM88.7 283.6h1.4v1.4h-1.4zM58.0 271.9h1.4v1.4h-1.4zM66.7 282.3h1.4v1.4h-1.4zM59.4 272.4h1.4v1.4h-1.4zM63.7 278.3h1.4v1.4h-1.4zM84.3 274.0h1.4v1.4h-1.4zM82.1 265.0h1.4v1.4h-1.4zM83.0 285.7h1.4v1.4h-1.4zM90.1 291.1h1.4v1.4h-1.4zM69.3 269.5h1.4v1.4h-1.4zM55.0 286.7h1.4v1.4h-1.4zM88.8 277.7h1.4v1.4h-1.4zM78.7 302.0h1.4v1.4h-1.4zM74.2 286.1h1.4v1.4h-1.4zM75.8 289.2h1.4v1.4h-1.4zM58.6 269.8h1.4v1.4h-1.4zM64.8 264.8h1.4v1.4h-1.4zM87.6 277.5h1.4v1.4h-1.4zM90.7 278.9h1.4v1.4h-1.4zM87.7 271.8h1.4v1.4h-1.4zM72.9 272.5h1.4v1.4h-1.4zM87.4 296.9h1.4v1.4h-1.4zM87.2 270.7h1.4v1.4h-1.4zM81.8 299.5h1.4v1.4h-1.4zM76.8 300.1h1.4v1.4h-1.4zM57.2 287.1h1.4v1.4h-1.4zM72.2 287.7h1.4v1.4h-1.4zM86.2 273.7h1.4v1.4h-1.4zM74.3 266.7h1.4v1.4h-1.4zM88.7 292.6h1.4v1.4h-1.4zM69.6 298.7h1.4v1.4h-1.4zM81.6 284.0h1.4v1.4h-1.4zM84.8 288.3h1.4v1.4h-1.4zM62.5 281.7h1.4v1.4h-1.4zM66.8 287.1h1.4v1.4h-1.4zM86.9 272.1h1.4v1.4h-1.4zM68.6 286.9h1.4v1.4h-1.4zM74.2 300.3h1.4v1.4h-1.4zM86.4 279.3h1.4v1.4h-1.4zM68.0 282.8h1.4v1.4h-1.4zM86.4 289.8h1.4v1.4h-1.4zM78.4 272.2h1.4v1.4h-1.4zM68.6 277.1h1.4v1.4h-1.4zM71.2 266.8h1.4v1.4h-1.4zM89.7 295.1h1.4v1.4h-1.4zM64.2 279.2h1.4v1.4h-1.4zM70.3 275.4h1.4v1.4h-1.4zM57.1 271.2h1.4v1.4h-1.4zM67.3 264.7h1.4v1.4h-1.4zM91.7 290.9h1.4v1.4h-1.4zM87.1 272.5h1.4v1.4h-1.4zM67.2 276.0h1.4v1.4h-1.4zM81.4 273.8h1.4v1.4h-1.4zM73.2 294.5h1.4v1.4h-1.4zM69.9 295.5h1.4v1.4h-1.4zM78.3 286.8h1.4v1.4h-1.4zM72.8 295.6h1.4v1.4h-1.4zM80.0 271.3h1.4v1.4h-1.4zM78.5 297.6h1.4v1.4h-1.4zM67.1 285.4h1.4v1.4h-1.4zM90.7 294.9h1.4v1.4h-1.4zM82.9 295.3h1.4v1.4h-1.4zM60.0 283.9h1.4v1.4h-1.4zM70.9 273.0h1.4v1.4h-1.4zM85.1 268.0h1.4v1.4h-1.4zM61.7 269.7h1.4v1.4h-1.4zM76.9 301.6h1.4v1.4h-1.4zM58.1 271.7h1.4v1.4h-1.4zM77.3 287.6h1.4v1.4h-1.4zM86.5 289.8h1.4v1.4h-1.4zM91.4 280.9h1.4v1.4h-1.4zM67.1 280.2h1.4v1.4h-1.4zM75.3 268.9h1.4v1.4h-1.4zM80.4 278.9h1.4v1.4h-1.4zM70.7 284.3h1.4v1.4h-1.4zM74.1 272.6h1.4v1.4h-1.4zM81.2 270.5h1.4v1.4h-1.4zM77.5 272.6h1.4v1.4h-1.4zM75.2 266.2h1.4v1.4h-1.4zM56.3 281.0h1.4v1.4h-1.4zM69.4 287.5h1.4v1.4h-1.4zM59.7 277.1h1.4v1.4h-1.4zM69.8 266.6h1.4v1.4h-1.4zM74.6 275.2h1.4v1.4h-1.4zM90.4 280.2h1.4v1.4h-1.4zM65.3 279.1h1.4v1.4h-1.4zM53.8 281.1h1.4v1.4h-1.4zM59.6 271.0h1.4v1.4h-1.4zM84.7 289.5h1.4v1.4h-1.4zM80.2 302.8h1.4v1.4h-1.4zM62.8 289.9h1.4v1.4h-1.4zM89.6 293.4h1.4v1.4h-1.4zM76.0 297.8h1.4v1.4h-1.4zM65.9 290.9h1.4v1.4h-1.4zM68.9 274.2h1.4v1.4h-1.4zM78.4 303.2h1.4v1.4h-1.4zM75.4 267.0h1.4v1.4h-1.4zM65.2 266.7h1.4v1.4h-1.4zM91.2 293.7h1.4v1.4h-1.4zM75.7 263.0h1.4v1.4h-1.4zM73.6 266.4h1.4v1.4h-1.4zM78.5 271.5h1.4v1.4h-1.4zM71.4 277.9h1.4v1.4h-1.4zM79.4 283.7h1.4v1.4h-1.4zM68.8 293.3h1.4v1.4h-1.4zM72.7 287.8h1.4v1.4h-1.4zM63.8 280.8h1.4v1.4h-1.4zM79.8 283.4h1.4v1.4h-1.4zM89.6 276.8h1.4v1.4h-1.4zM91.6 289.4h1.4v1.4h-1.4zM70.1 289.2h1.4v1.4h-1.4zM94.4 282.0h1.4v1.4h-1.4zM60.1 291.8h1.4v1.4h-1.4zM88.1 284.1h1.4v1.4h-1.4zM87.0 289.5h1.4v1.4h-1.4zM64.9 294.1h1.4v1.4h-1.4zM79.5 294.3h1.4v1.4h-1.4zM80.1 292.1h1.4v1.4h-1.4zM64.5 284.5h1.4v1.4h-1.4zM58.0 283.8h1.4v1.4h-1.4zM76.8 285.0h1.4v1.4h-1.4zM94.3 279.7h1.4v1.4h-1.4zM78.4 265.4h1.4v1.4h-1.4zM71.1 285.5h1.4v1.4h-1.4zM90.5 295.7h1.4v1.4h-1.4zM61.4 272.1h1.4v1.4h-1.4zM77.9 290.3h1.4v1.4h-1.4zM64.9 274.4h1.4v1.4h-1.4zM78.4 272.3h1.4v1.4h-1.4zM74.4 271.1h1.4v1.4h-1.4zM90.6 293.8h1.4v1.4h-1.4zM67.2 294.6h1.4v1.4h-1.4z"/>
<path d="M64.0,310.0C65.7,306.5 68.3,304.7 72.0,303.0C75.7,301.3 82.0,300.0 86.0,300.0C90.0,300.0 93.0,302.0 96.0,303.0C99.0,304.0 101.3,304.8 104.0,306.0C106.7,307.2 109.2,308.5 112.0,310.0C114.8,311.5 119.8,313.0 121.0,315.0C122.2,317.0 120.8,320.2 119.0,322.0C117.2,323.8 113.8,325.0 110.0,326.0C106.2,327.0 99.7,327.3 96.0,328.0C92.3,328.7 90.0,328.7 88.0,330.0C86.0,331.3 86.0,334.7 84.0,336.0C82.0,337.3 79.0,338.3 76.0,338.0C73.0,337.7 68.3,336.3 66.0,334.0C63.7,331.7 62.3,328.0 62.0,324.0C61.7,320.0 62.3,313.5 64.0,310.0Z" fill="#f2b10c"/>
<path d="M49.0,299.0C50.4,296.4 53.5,296.5 56.0,296.5C58.5,296.5 61.5,297.9 64.0,299.0C66.5,300.1 69.9,300.2 71.0,303.0C72.1,305.8 71.0,312.2 70.5,316.0C70.0,319.8 70.1,324.0 68.0,326.0C65.9,328.0 61.0,328.1 58.0,328.0C55.0,327.9 51.8,328.2 50.0,325.5C48.2,322.8 47.7,316.4 47.5,312.0C47.3,307.6 47.6,301.6 49.0,299.0Z" fill="#f28a10"/>
<path d="M44.0,326.0C45.4,324.6 49.0,325.3 52.0,325.5C55.0,325.7 59.0,325.9 62.0,327.0C65.0,328.1 68.3,329.8 70.0,332.0C71.7,334.2 72.7,337.8 72.0,340.0C71.3,342.2 69.0,344.0 66.0,345.0C63.0,346.0 57.2,346.3 54.0,346.0C50.8,345.7 48.8,345.0 47.0,343.0C45.2,341.0 44.0,336.8 43.5,334.0C43.0,331.2 42.6,327.4 44.0,326.0Z" fill="#b4dde4"/>
<path d="M65.0,340.0C66.0,338.1 69.5,337.7 72.0,337.5C74.5,337.3 78.2,337.8 80.0,339.0C81.8,340.2 83.0,343.0 83.0,345.0C83.0,347.0 81.8,349.8 80.0,351.0C78.2,352.2 74.3,352.8 72.0,352.5C69.7,352.2 67.2,351.1 66.0,349.0C64.8,346.9 64.0,341.9 65.0,340.0Z" fill="#3a9ac8"/>
<text x="91.2" y="236" font-size="5.5" text-anchor="start" fill="#222">T<tspan font-size="3.41" dy="1.6">Pro</tspan></text>
<text x="34.5" y="255" font-size="5.5" text-anchor="start" fill="#222">T<tspan font-size="3.41" dy="1.6">X</tspan></text>
<text x="31.5" y="287" font-size="5.5" text-anchor="start" fill="#222">T<tspan font-size="3.41" dy="1.6">MEM</tspan></text>
<text x="64" y="277" font-size="5.5" text-anchor="start" fill="#222">T<tspan font-size="3.41" dy="1.6">EM</tspan></text>
<text x="104" y="280" font-size="5.5" text-anchor="start" fill="#222">T<tspan font-size="3.41" dy="1.6">EX</tspan></text>
<text x="109.5" y="298" font-size="6" text-anchor="start" fill="#222">T<tspan font-size="3.72" dy="1.6">ACT</tspan></text>
<text x="49.5" y="316" font-size="6.2" text-anchor="start" fill="#222">CD4<tspan font-size="3.84" dy="1.6">M</tspan></text>
<text x="84.2" y="321.3" font-size="6" text-anchor="start" fill="#222">T<tspan font-size="3.72" dy="1.6">EM</tspan></text>
<text x="48" y="336.6" font-size="6.2" text-anchor="start" fill="#222">CD4<tspan font-size="3.84" dy="1.6">N</tspan></text>
<text x="67.5" y="348.6" font-size="6.2" text-anchor="start" fill="#222">CD8<tspan font-size="3.84" dy="1.6">N</tspan></text>
<text x="251.5" y="235" font-size="8.2" text-anchor="middle" fill="#222" font-style="italic">TLR9</text>
<path d="M213.5,238.8V318.2H288" stroke="#222" stroke-width="0.9" fill="none"/>
<path d="M211.5,256H213.5" stroke="#222" stroke-width="0.8"/>
<text x="207.4" y="258.1" font-size="6.1" text-anchor="end" fill="#222">0.09</text>
<path d="M211.5,275.8H213.5" stroke="#222" stroke-width="0.8"/>
<text x="207.4" y="277.90000000000003" font-size="6.1" text-anchor="end" fill="#222">0.06</text>
<path d="M211.5,295.2H213.5" stroke="#222" stroke-width="0.8"/>
<text x="207.4" y="297.3" font-size="6.1" text-anchor="end" fill="#222">0.03</text>
<path d="M211.5,314.9H213.5" stroke="#222" stroke-width="0.8"/>
<text x="207.4" y="317.0" font-size="6.1" text-anchor="end" fill="#222">0.00</text>
<text x="0" y="0" font-size="7.4" text-anchor="middle" fill="#222" style="stroke-width:0.35px" transform="translate(178.9,280) rotate(-90)" textLength="71" lengthAdjust="spacingAndGlyphs">Baseline average expression</text>
<text x="0" y="0" font-size="7.4" text-anchor="middle" fill="#222" style="stroke-width:0.35px" transform="translate(188.4,280.2) rotate(-90)" textLength="34" lengthAdjust="spacingAndGlyphs">injected site</text>
<path d="M221.7,318.2V320.2" stroke="#222" stroke-width="0.8"/>
<path d="M236.6,318.2V320.2" stroke="#222" stroke-width="0.8"/>
<path d="M251.3,318.2V320.2" stroke="#222" stroke-width="0.8"/>
<path d="M266.2,318.2V320.2" stroke="#222" stroke-width="0.8"/>
<path d="M280.6,318.2V320.2" stroke="#222" stroke-width="0.8"/>
<text x="0" y="0" font-size="6.1" text-anchor="end" fill="#222" transform="translate(224.6,327.4) rotate(-45)">T cells</text>
<text x="0" y="0" font-size="6.1" text-anchor="end" fill="#222" transform="translate(239.5,327.4) rotate(-45)">NK/NKT</text>
<text x="0" y="0" font-size="6.1" text-anchor="end" fill="#222" transform="translate(254.20000000000002,327.4) rotate(-45)">Myeloid/DC</text>
<text x="0" y="0" font-size="6.1" text-anchor="end" fill="#222" transform="translate(269.09999999999997,327.4) rotate(-45)">Tumor cells</text>
<text x="0" y="0" font-size="6.1" text-anchor="end" fill="#222" transform="translate(283.5,327.4) rotate(-45)">B cells</text>
<rect x="260.9" y="282.5" width="10.5" height="23.5" fill="#dcb4d2"/>
<rect x="275.3" y="260" width="10.8" height="42.2" fill="#8c2456"/>
<rect x="216.9" y="313" width="10.8" height="1.6" fill="#1f6f9f"/>
<rect x="246.4" y="312.9" width="10.1" height="1.9" fill="#f5c518"/>
<circle cx="221.7" cy="312.5" r="1.1" fill="#1a3040"/>
<circle cx="221.7" cy="313.5" r="1.1" fill="#1a3040"/>
<circle cx="221.7" cy="314.5" r="1.1" fill="#1a3040"/>
<circle cx="221.7" cy="315.2" r="1.1" fill="#1a3040"/>
<circle cx="236.6" cy="313" r="1.25" fill="none" stroke="#333" stroke-width="0.6"/>
<circle cx="236.6" cy="315.4" r="1.25" fill="none" stroke="#333" stroke-width="0.6"/>
<circle cx="251.3" cy="285.6" r="1.25" fill="none" stroke="#333" stroke-width="0.6"/>
<circle cx="251.3" cy="295.2" r="1.25" fill="none" stroke="#333" stroke-width="0.6"/>
<circle cx="251.3" cy="305.8" r="1.25" fill="none" stroke="#333" stroke-width="0.6"/>
<circle cx="251.3" cy="313.9" r="1.25" fill="none" stroke="#333" stroke-width="0.6"/>
<circle cx="266.2" cy="271.2" r="1.25" fill="none" stroke="#333" stroke-width="0.6"/>
<circle cx="266.2" cy="273.6" r="1.25" fill="none" stroke="#333" stroke-width="0.6"/>
<circle cx="266.2" cy="285" r="1.25" fill="#555" stroke="#333" stroke-width="0.6"/>
<circle cx="266.2" cy="295.2" r="1.25" fill="#555" stroke="#333" stroke-width="0.6"/>
<circle cx="266.2" cy="302.5" r="1.25" fill="#555" stroke="#333" stroke-width="0.6"/>
<circle cx="266.2" cy="306" r="1.25" fill="none" stroke="#333" stroke-width="0.6"/>
<circle cx="266.2" cy="313.3" r="1.25" fill="none" stroke="#333" stroke-width="0.6"/>
<circle cx="280.6" cy="242.4" r="1.25" fill="none" stroke="#333" stroke-width="0.6"/>
<circle cx="280.6" cy="247.6" r="1.25" fill="none" stroke="#333" stroke-width="0.6"/>
<circle cx="280.6" cy="253" r="1.25" fill="none" stroke="#333" stroke-width="0.6"/>
<circle cx="280.6" cy="265.7" r="1.25" fill="#4a1030" stroke="#333" stroke-width="0.6"/>
<circle cx="280.6" cy="272.4" r="1.25" fill="#4a1030" stroke="#333" stroke-width="0.6"/>
<circle cx="280.6" cy="279" r="1.25" fill="#4a1030" stroke="#333" stroke-width="0.6"/>
<circle cx="280.6" cy="294.5" r="1.25" fill="#4a1030" stroke="#333" stroke-width="0.6"/>
<circle cx="280.6" cy="310" r="1.25" fill="none" stroke="#333" stroke-width="0.6"/>
<circle cx="280.6" cy="315" r="1.25" fill="none" stroke="#333" stroke-width="0.6"/>
<text x="0" y="0" font-size="7.4" text-anchor="middle" fill="#222" style="stroke-width:0.35px" transform="translate(321.9,277.6) rotate(-90)" textLength="71" lengthAdjust="spacingAndGlyphs">Baseline average expression</text>
<text x="0" y="0" font-size="7.4" text-anchor="middle" fill="#222" style="stroke-width:0.35px" transform="translate(330.8,278) rotate(-90)" textLength="34" lengthAdjust="spacingAndGlyphs">injected site</text>
<text x="388.8" y="214.4" font-size="8.2" text-anchor="middle" fill="#222" font-style="italic">BTK</text>
<path d="M356.5,219.5V264.6H420.6" stroke="#222" stroke-width="0.9" fill="none"/>
<path d="M354.5,228H356.5" stroke="#222" stroke-width="0.8"/>
<text x="350.3" y="230.1" font-size="6.1" text-anchor="end" fill="#222">1.0</text>
<path d="M354.5,243.6H356.5" stroke="#222" stroke-width="0.8"/>
<text x="350.3" y="245.7" font-size="6.1" text-anchor="end" fill="#222">0.5</text>
<path d="M354.5,259H356.5" stroke="#222" stroke-width="0.8"/>
<text x="350.3" y="261.1" font-size="6.1" text-anchor="end" fill="#222">0.0</text>
<path d="M364.2,264.6V266.6" stroke="#222" stroke-width="0.8"/>
<path d="M376.4,264.6V266.6" stroke="#222" stroke-width="0.8"/>
<path d="M388.5,264.6V266.6" stroke="#222" stroke-width="0.8"/>
<path d="M400.7,264.6V266.6" stroke="#222" stroke-width="0.8"/>
<path d="M412.9,264.6V266.6" stroke="#222" stroke-width="0.8"/>
<rect x="384" y="252.4" width="9" height="4" fill="#f5c518"/>
<rect x="396.3" y="241" width="8.7" height="5.5" fill="#dcb4d2"/>
<rect x="408.5" y="237" width="9.5" height="8.8" fill="#8c2456"/>
<rect x="360" y="258.5" width="8.4" height="0.8" fill="#666"/>
<circle cx="364.2" cy="258" r="1.1" fill="#222" stroke="#333" stroke-width="0.55"/>
<circle cx="364.2" cy="259.5" r="1.1" fill="#222" stroke="#333" stroke-width="0.55"/>
<circle cx="364.2" cy="260.5" r="1.1" fill="#222" stroke="#333" stroke-width="0.55"/>
<circle cx="376.4" cy="258" r="1.1" fill="none" stroke="#333" stroke-width="0.55"/>
<circle cx="376.4" cy="260" r="1.1" fill="none" stroke="#333" stroke-width="0.55"/>
<circle cx="388.5" cy="249.5" r="1.1" fill="none" stroke="#333" stroke-width="0.55"/>
<circle cx="388.5" cy="252" r="1.1" fill="none" stroke="#333" stroke-width="0.55"/>
<circle cx="388.5" cy="254" r="1.1" fill="none" stroke="#333" stroke-width="0.55"/>
<circle cx="388.5" cy="256.5" r="1.1" fill="none" stroke="#333" stroke-width="0.55"/>
<circle cx="400.7" cy="222" r="1.1" fill="none" stroke="#333" stroke-width="0.55"/>
<circle cx="400.7" cy="236.5" r="1.1" fill="none" stroke="#333" stroke-width="0.55"/>
<circle cx="400.7" cy="241" r="1.1" fill="none" stroke="#333" stroke-width="0.55"/>
<circle cx="400.7" cy="244" r="1.1" fill="none" stroke="#333" stroke-width="0.55"/>
<circle cx="400.7" cy="246" r="1.1" fill="none" stroke="#333" stroke-width="0.55"/>
<circle cx="400.7" cy="249.8" r="1.1" fill="none" stroke="#333" stroke-width="0.55"/>
<circle cx="412.9" cy="233" r="1.1" fill="none" stroke="#333" stroke-width="0.55"/>
<circle cx="412.9" cy="238" r="1.1" fill="none" stroke="#333" stroke-width="0.55"/>
<circle cx="412.9" cy="242" r="1.1" fill="none" stroke="#333" stroke-width="0.55"/>
<circle cx="412.9" cy="245" r="1.1" fill="none" stroke="#333" stroke-width="0.55"/>
<circle cx="412.9" cy="249" r="1.1" fill="none" stroke="#333" stroke-width="0.55"/>
<text x="482.2" y="214.4" font-size="8.2" text-anchor="middle" fill="#222" font-style="italic">BLK</text>
<path d="M449.2,219.2V264.4H515.2" stroke="#222" stroke-width="0.9" fill="none"/>
<path d="M447.2,221.5H449.2" stroke="#222" stroke-width="0.8"/>
<text x="443.0" y="223.6" font-size="6.1" text-anchor="end" fill="#222">1.5</text>
<path d="M447.2,234.2H449.2" stroke="#222" stroke-width="0.8"/>
<text x="443.0" y="236.29999999999998" font-size="6.1" text-anchor="end" fill="#222">1.0</text>
<path d="M447.2,246.7H449.2" stroke="#222" stroke-width="0.8"/>
<text x="443.0" y="248.79999999999998" font-size="6.1" text-anchor="end" fill="#222">0.5</text>
<path d="M447.2,258.7H449.2" stroke="#222" stroke-width="0.8"/>
<text x="443.0" y="260.8" font-size="6.1" text-anchor="end" fill="#222">0.0</text>
<path d="M457,264.4V266.4" stroke="#222" stroke-width="0.8"/>
<path d="M469,264.4V266.4" stroke="#222" stroke-width="0.8"/>
<path d="M481.5,264.4V266.4" stroke="#222" stroke-width="0.8"/>
<path d="M494,264.4V266.4" stroke="#222" stroke-width="0.8"/>
<path d="M506.5,264.4V266.4" stroke="#222" stroke-width="0.8"/>
<rect x="489.2" y="231.7" width="9.6" height="11.6" fill="#e6c4da"/>
<rect x="501.7" y="234.6" width="9.1" height="5.8" fill="#8c2456"/>
<rect x="453" y="258" width="8" height="1.2" fill="#222"/>
<rect x="465" y="258" width="8" height="1.2" fill="#7aa"/>
<rect x="476.7" y="257.7" width="9.6" height="1.8" fill="#f7e39a"/>
<circle cx="457" cy="253.7" r="1.1" fill="#222" stroke="#333" stroke-width="0.55"/>
<circle cx="457" cy="258.2" r="1.1" fill="#222" stroke="#333" stroke-width="0.55"/>
<circle cx="457" cy="258.8" r="1.1" fill="#222" stroke="#333" stroke-width="0.55"/>
<circle cx="469" cy="251.5" r="1.1" fill="none" stroke="#333" stroke-width="0.55"/>
<circle cx="469" cy="257" r="1.1" fill="none" stroke="#333" stroke-width="0.55"/>
<circle cx="469" cy="258.5" r="1.1" fill="none" stroke="#333" stroke-width="0.55"/>
<circle cx="481.5" cy="253" r="1.1" fill="none" stroke="#333" stroke-width="0.55"/>
<circle cx="481.5" cy="256" r="1.1" fill="none" stroke="#333" stroke-width="0.55"/>
<circle cx="481.5" cy="257" r="1.1" fill="none" stroke="#333" stroke-width="0.55"/>
<circle cx="481.5" cy="258" r="1.1" fill="none" stroke="#333" stroke-width="0.55"/>
<circle cx="481.5" cy="259" r="1.1" fill="none" stroke="#333" stroke-width="0.55"/>
<circle cx="494" cy="223" r="1.1" fill="#999" stroke="#333" stroke-width="0.55"/>
<circle cx="494" cy="225" r="1.1" fill="#999" stroke="#333" stroke-width="0.55"/>
<circle cx="494" cy="229" r="1.1" fill="#999" stroke="#333" stroke-width="0.55"/>
<circle cx="494" cy="232" r="1.1" fill="#999" stroke="#333" stroke-width="0.55"/>
<circle cx="494" cy="234" r="1.1" fill="#999" stroke="#333" stroke-width="0.55"/>
<circle cx="494" cy="237" r="1.1" fill="#999" stroke="#333" stroke-width="0.55"/>
<circle cx="494" cy="240" r="1.1" fill="#999" stroke="#333" stroke-width="0.55"/>
<circle cx="494" cy="243" r="1.1" fill="#999" stroke="#333" stroke-width="0.55"/>
<circle cx="494" cy="246" r="1.1" fill="#999" stroke="#333" stroke-width="0.55"/>
<circle cx="494" cy="249" r="1.1" fill="#999" stroke="#333" stroke-width="0.55"/>
<circle cx="506.5" cy="231" r="1.1" fill="#444" stroke="#333" stroke-width="0.55"/>
<circle cx="506.5" cy="233" r="1.1" fill="#444" stroke="#333" stroke-width="0.55"/>
<circle cx="506.5" cy="236" r="1.1" fill="#444" stroke="#333" stroke-width="0.55"/>
<circle cx="506.5" cy="239" r="1.1" fill="#444" stroke="#333" stroke-width="0.55"/>
<circle cx="506.5" cy="249" r="1.1" fill="#444" stroke="#333" stroke-width="0.55"/>
<text x="389.1" y="284.4" font-size="8.2" text-anchor="middle" fill="#222" font-style="italic">ITK</text>
<path d="M356.5,289V338.4H420.6" stroke="#222" stroke-width="0.9" fill="none"/>
<path d="M354.5,290.8H356.5" stroke="#222" stroke-width="0.8"/>
<text x="350.3" y="292.90000000000003" font-size="6.1" text-anchor="end" fill="#222">1.00</text>
<path d="M354.5,301.6H356.5" stroke="#222" stroke-width="0.8"/>
<text x="350.3" y="303.70000000000005" font-size="6.1" text-anchor="end" fill="#222">0.75</text>
<path d="M354.5,311.8H356.5" stroke="#222" stroke-width="0.8"/>
<text x="350.3" y="313.90000000000003" font-size="6.1" text-anchor="end" fill="#222">0.50</text>
<path d="M354.5,322.2H356.5" stroke="#222" stroke-width="0.8"/>
<text x="350.3" y="324.3" font-size="6.1" text-anchor="end" fill="#222">0.25</text>
<path d="M354.5,332.6H356.5" stroke="#222" stroke-width="0.8"/>
<text x="350.3" y="334.70000000000005" font-size="6.1" text-anchor="end" fill="#222">0.00</text>
<path d="M363.8,338.4V340.4" stroke="#222" stroke-width="0.8"/>
<path d="M376,338.4V340.4" stroke="#222" stroke-width="0.8"/>
<path d="M387.9,338.4V340.4" stroke="#222" stroke-width="0.8"/>
<path d="M400.3,338.4V340.4" stroke="#222" stroke-width="0.8"/>
<path d="M412.4,338.4V340.4" stroke="#222" stroke-width="0.8"/>
<rect x="359.8" y="305" width="8.8" height="6.1" fill="#2a7ab0"/>
<rect x="371.5" y="314.5" width="8.9" height="7.7" fill="#3c8c3c"/>
<rect x="383.5" y="332" width="9" height="1.2" fill="#f5d75a"/>
<rect x="396" y="332" width="9" height="1" fill="#888"/>
<rect x="408" y="332" width="9" height="1" fill="#888"/>
<circle cx="363.8" cy="297" r="1.1" fill="none" stroke="#333" stroke-width="0.55"/>
<circle cx="363.8" cy="300" r="1.1" fill="none" stroke="#333" stroke-width="0.55"/>
<circle cx="363.8" cy="303" r="1.1" fill="none" stroke="#333" stroke-width="0.55"/>
<circle cx="363.8" cy="306" r="1.1" fill="none" stroke="#333" stroke-width="0.55"/>
<circle cx="363.8" cy="309" r="1.1" fill="none" stroke="#333" stroke-width="0.55"/>
<circle cx="363.8" cy="313" r="1.1" fill="none" stroke="#333" stroke-width="0.55"/>
<circle cx="363.8" cy="315.5" r="1.1" fill="none" stroke="#333" stroke-width="0.55"/>
<circle cx="376" cy="310" r="1.1" fill="#444" stroke="#333" stroke-width="0.55"/>
<circle cx="376" cy="312" r="1.1" fill="#444" stroke="#333" stroke-width="0.55"/>
<circle cx="376" cy="314" r="1.1" fill="#444" stroke="#333" stroke-width="0.55"/>
<circle cx="376" cy="320" r="1.1" fill="#444" stroke="#333" stroke-width="0.55"/>
<circle cx="376" cy="323" r="1.1" fill="#444" stroke="#333" stroke-width="0.55"/>
<circle cx="376" cy="326" r="1.1" fill="#444" stroke="#333" stroke-width="0.55"/>
<circle cx="376" cy="328" r="1.1" fill="#444" stroke="#333" stroke-width="0.55"/>
<circle cx="387.9" cy="330.8" r="1.1" fill="#222" stroke="#333" stroke-width="0.55"/>
<circle cx="387.9" cy="332.5" r="1.1" fill="#222" stroke="#333" stroke-width="0.55"/>
<circle cx="387.9" cy="333.5" r="1.1" fill="#222" stroke="#333" stroke-width="0.55"/>
<circle cx="400.3" cy="332" r="1.1" fill="#333" stroke="#333" stroke-width="0.55"/>
<circle cx="400.3" cy="333.3" r="1.1" fill="#333" stroke="#333" stroke-width="0.55"/>
<circle cx="412.4" cy="331.7" r="1.1" fill="#333" stroke="#333" stroke-width="0.55"/>
<circle cx="412.4" cy="333.2" r="1.1" fill="#333" stroke="#333" stroke-width="0.55"/>
<text x="482" y="284.3" font-size="8.2" text-anchor="middle" fill="#222" font-style="italic">LCK</text>
<path d="M449.4,288.2V338.2H515.2" stroke="#222" stroke-width="0.9" fill="none"/>
<path d="M447.4,300.3H449.4" stroke="#222" stroke-width="0.8"/>
<text x="443.2" y="302.40000000000003" font-size="6.1" text-anchor="end" fill="#222">1.5</text>
<path d="M447.4,311.3H449.4" stroke="#222" stroke-width="0.8"/>
<text x="443.2" y="313.40000000000003" font-size="6.1" text-anchor="end" fill="#222">1.0</text>
<path d="M447.4,321.8H449.4" stroke="#222" stroke-width="0.8"/>
<text x="443.2" y="323.90000000000003" font-size="6.1" text-anchor="end" fill="#222">0.5</text>
<path d="M447.4,332.4H449.4" stroke="#222" stroke-width="0.8"/>
<text x="443.2" y="334.5" font-size="6.1" text-anchor="end" fill="#222">0.0</text>
<path d="M456.5,338.2V340.2" stroke="#222" stroke-width="0.8"/>
<path d="M469,338.2V340.2" stroke="#222" stroke-width="0.8"/>
<path d="M481.5,338.2V340.2" stroke="#222" stroke-width="0.8"/>
<path d="M494,338.2V340.2" stroke="#222" stroke-width="0.8"/>
<path d="M506.5,338.2V340.2" stroke="#222" stroke-width="0.8"/>
<rect x="452.7" y="297.8" width="8.6" height="5.2" fill="#3d8bb8"/>
<rect x="464.6" y="308.4" width="8.9" height="6.7" fill="#3c8c3c"/>
<rect x="477.3" y="328.6" width="9" height="3" fill="#f5c518"/>
<rect x="490.2" y="327.1" width="7.7" height="1.2" fill="#e0b0c8"/>
<rect x="502.3" y="328.2" width="8.1" height="1.4" fill="#5a1a3a"/>
<circle cx="456.5" cy="297" r="1.1" fill="none" stroke="#333" stroke-width="0.55"/>
<circle cx="456.5" cy="299" r="1.1" fill="none" stroke="#333" stroke-width="0.55"/>
<circle cx="456.5" cy="301" r="1.1" fill="none" stroke="#333" stroke-width="0.55"/>
<circle cx="456.5" cy="303" r="1.1" fill="none" stroke="#333" stroke-width="0.55"/>
<circle cx="456.5" cy="306" r="1.1" fill="none" stroke="#333" stroke-width="0.55"/>
<circle cx="456.5" cy="314.5" r="1.1" fill="none" stroke="#333" stroke-width="0.55"/>
<circle cx="469" cy="297.5" r="1.1" fill="none" stroke="#333" stroke-width="0.55"/>
<circle cx="469" cy="306" r="1.1" fill="none" stroke="#333" stroke-width="0.55"/>
<circle cx="469" cy="309" r="1.1" fill="none" stroke="#333" stroke-width="0.55"/>
<circle cx="469" cy="311" r="1.1" fill="none" stroke="#333" stroke-width="0.55"/>
<circle cx="469" cy="313" r="1.1" fill="none" stroke="#333" stroke-width="0.55"/>
<circle cx="469" cy="315" r="1.1" fill="none" stroke="#333" stroke-width="0.55"/>
<circle cx="469" cy="318" r="1.1" fill="none" stroke="#333" stroke-width="0.55"/>
<circle cx="469" cy="325" r="1.1" fill="none" stroke="#333" stroke-width="0.55"/>
<circle cx="481.5" cy="327.5" r="1.1" fill="#222" stroke="#333" stroke-width="0.55"/>
<circle cx="481.5" cy="329" r="1.1" fill="#222" stroke="#333" stroke-width="0.55"/>
<circle cx="481.5" cy="330.5" r="1.1" fill="#222" stroke="#333" stroke-width="0.55"/>
<circle cx="481.5" cy="332" r="1.1" fill="#222" stroke="#333" stroke-width="0.55"/>
<circle cx="494" cy="325.5" r="1.1" fill="#223" stroke="#333" stroke-width="0.55"/>
<circle cx="494" cy="327.5" r="1.1" fill="#223" stroke="#333" stroke-width="0.55"/>
<circle cx="494" cy="329" r="1.1" fill="#223" stroke="#333" stroke-width="0.55"/>
<circle cx="506.5" cy="325.5" r="1.1" fill="none" stroke="#333" stroke-width="0.55"/>
<circle cx="506.5" cy="328.5" r="1.1" fill="none" stroke="#333" stroke-width="0.55"/>
<circle cx="506.5" cy="332.5" r="1.1" fill="none" stroke="#333" stroke-width="0.55"/>
<text x="0" y="0" font-size="6.2" text-anchor="end" fill="#222" transform="translate(367.2,347.8) rotate(-45)">T cells</text>
<text x="0" y="0" font-size="6.2" text-anchor="end" fill="#222" transform="translate(379.4,347.8) rotate(-45)">NK/NKT</text>
<text x="0" y="0" font-size="6.2" text-anchor="end" fill="#222" transform="translate(391.29999999999995,347.8) rotate(-45)">Myeloid/DC</text>
<text x="0" y="0" font-size="6.2" text-anchor="end" fill="#222" transform="translate(403.7,347.8) rotate(-45)">Tumor</text>
<text x="0" y="0" font-size="6.2" text-anchor="end" fill="#222" transform="translate(415.79999999999995,347.8) rotate(-45)">B cells</text>
<text x="0" y="0" font-size="6.2" text-anchor="end" fill="#222" transform="translate(459.9,347.6) rotate(-45)">T cells</text>
<text x="0" y="0" font-size="6.2" text-anchor="end" fill="#222" transform="translate(472.4,347.6) rotate(-45)">NK/NKT</text>
<text x="0" y="0" font-size="6.2" text-anchor="end" fill="#222" transform="translate(484.9,347.6) rotate(-45)">Myeloid/DC</text>
<text x="0" y="0" font-size="6.2" text-anchor="end" fill="#222" transform="translate(497.4,347.6) rotate(-45)">Tumor</text>
<text x="0" y="0" font-size="6.2" text-anchor="end" fill="#222" transform="translate(509.9,347.6) rotate(-45)">B cells</text>
<text x="147.5" y="404.6" font-size="8.2" text-anchor="middle" fill="#222">Injected Site – scRNA-seq</text>
<text x="0" y="0" font-size="7.4" text-anchor="middle" fill="#222" style="stroke-width:0.35px" transform="translate(22.3,457.5) rotate(-90)" textLength="55.5" lengthAdjust="spacingAndGlyphs">Percentage of all cells</text>
<path d="M45.1,409V506.3" stroke="#222" stroke-width="0.9" fill="none"/>
<path d="M43.1,415.2H45.1" stroke="#222" stroke-width="0.8"/>
<text x="39.5" y="417.3" font-size="6" text-anchor="end" fill="#222">100</text>
<path d="M43.1,438H45.1" stroke="#222" stroke-width="0.8"/>
<text x="39.5" y="440.1" font-size="6" text-anchor="end" fill="#222">75</text>
<path d="M43.1,460.7H45.1" stroke="#222" stroke-width="0.8"/>
<text x="39.5" y="462.8" font-size="6" text-anchor="end" fill="#222">50</text>
<path d="M43.1,483.5H45.1" stroke="#222" stroke-width="0.8"/>
<text x="39.5" y="485.6" font-size="6" text-anchor="end" fill="#222">25</text>
<path d="M43.1,506.3H45.1" stroke="#222" stroke-width="0.8"/>
<text x="39.5" y="508.40000000000003" font-size="6" text-anchor="end" fill="#222">0</text>
<rect x="45.89" y="448.00" width="9.07" height="58.30" fill="#a9b97a"/>
<rect x="54.97" y="469.86" width="9.07" height="36.44" fill="#3aa0d8"/>
<rect x="64.03" y="489.45" width="9.07" height="16.85" fill="#16487d"/>
<path d="M49.6,426.1L59.6,438.0" stroke="#c8c8c8" stroke-width="0.45" fill="none"/>
<path d="M50.0,433.4L59.8,460.8" stroke="#c8c8c8" stroke-width="0.45" fill="none"/>
<path d="M50.8,445.3L58.2,498.1" stroke="#c8c8c8" stroke-width="0.45" fill="none"/>
<path d="M49.0,448.9L60.5,465.3" stroke="#c8c8c8" stroke-width="0.45" fill="none"/>
<path d="M58.8,438.0L67.8,476.2" stroke="#c8c8c8" stroke-width="0.45" fill="none"/>
<path d="M61.0,460.8L68.5,502.7" stroke="#c8c8c8" stroke-width="0.45" fill="none"/>
<path d="M60.5,498.1L68.5,504.5" stroke="#c8c8c8" stroke-width="0.45" fill="none"/>
<path d="M59.9,465.3L67.5,436.2" stroke="#c8c8c8" stroke-width="0.45" fill="none"/>
<path d="M59.9,479.0L69.7,494.5" stroke="#c8c8c8" stroke-width="0.45" fill="none"/>
<path d="M50.4,443.9V452.1M49.2,443.9h2.4M49.2,452.1h2.4" stroke="#222" stroke-width="0.6" fill="none"/>
<path d="M59.5,464.4V475.3M58.3,464.4h2.4M58.3,475.3h2.4" stroke="#222" stroke-width="0.6" fill="none"/>
<path d="M68.6,485.8V493.1M67.4,485.8h2.4M67.4,493.1h2.4" stroke="#222" stroke-width="0.6" fill="none"/>
<circle cx="50.5" cy="426.1" r="0.85" fill="#111"/>
<circle cx="50.7" cy="433.4" r="0.85" fill="#111"/>
<circle cx="50.6" cy="435.2" r="0.85" fill="#111"/>
<circle cx="49.9" cy="438.0" r="0.85" fill="#111"/>
<circle cx="50.7" cy="440.7" r="0.85" fill="#111"/>
<circle cx="50.5" cy="445.3" r="0.85" fill="#111"/>
<circle cx="50.2" cy="448.9" r="0.85" fill="#111"/>
<circle cx="49.9" cy="455.3" r="0.85" fill="#111"/>
<circle cx="50.9" cy="466.2" r="0.85" fill="#111"/>
<circle cx="50.4" cy="469.9" r="0.85" fill="#111"/>
<circle cx="50.7" cy="471.7" r="0.85" fill="#111"/>
<circle cx="50.9" cy="474.4" r="0.85" fill="#111"/>
<circle cx="59.8" cy="438.0" r="0.85" fill="#111"/>
<circle cx="60.0" cy="442.5" r="0.85" fill="#111"/>
<circle cx="59.4" cy="447.1" r="0.85" fill="#111"/>
<circle cx="59.9" cy="460.8" r="0.85" fill="#111"/>
<circle cx="59.4" cy="465.3" r="0.85" fill="#111"/>
<circle cx="60.0" cy="469.9" r="0.85" fill="#111"/>
<circle cx="60.0" cy="479.0" r="0.85" fill="#111"/>
<circle cx="59.0" cy="495.4" r="0.85" fill="#111"/>
<circle cx="59.1" cy="498.1" r="0.85" fill="#111"/>
<circle cx="59.2" cy="499.0" r="0.85" fill="#111"/>
<circle cx="69.1" cy="436.2" r="0.85" fill="#111"/>
<circle cx="68.5" cy="476.2" r="0.85" fill="#111"/>
<circle cx="68.7" cy="494.0" r="0.85" fill="#111"/>
<circle cx="68.3" cy="499.0" r="0.85" fill="#111"/>
<circle cx="68.6" cy="502.7" r="0.85" fill="#111"/>
<rect x="78.15" y="481.70" width="9.07" height="24.60" fill="#a9b97a"/>
<rect x="87.22" y="463.48" width="9.07" height="42.82" fill="#3aa0d8"/>
<rect x="96.28" y="452.55" width="9.07" height="53.75" fill="#16487d"/>
<path d="M82.3,456.2L91.3,436.2" stroke="#c8c8c8" stroke-width="0.45" fill="none"/>
<path d="M82.9,463.5L92.0,447.1" stroke="#c8c8c8" stroke-width="0.45" fill="none"/>
<path d="M83.9,494.5L92.3,456.2" stroke="#c8c8c8" stroke-width="0.45" fill="none"/>
<path d="M84.0,499.0L92.8,479.0" stroke="#c8c8c8" stroke-width="0.45" fill="none"/>
<path d="M84.2,503.0L92.3,483.5" stroke="#c8c8c8" stroke-width="0.45" fill="none"/>
<path d="M90.7,436.2L101.9,426.1" stroke="#c8c8c8" stroke-width="0.45" fill="none"/>
<path d="M93.1,451.6L102.0,428.9" stroke="#c8c8c8" stroke-width="0.45" fill="none"/>
<path d="M92.0,479.0L101.5,451.6" stroke="#c8c8c8" stroke-width="0.45" fill="none"/>
<path d="M90.9,492.6L101.8,488.1" stroke="#c8c8c8" stroke-width="0.45" fill="none"/>
<path d="M92.0,468.0L100.2,440.7" stroke="#c8c8c8" stroke-width="0.45" fill="none"/>
<path d="M82.7,477.1V486.3M81.5,477.1h2.4M81.5,486.3h2.4" stroke="#222" stroke-width="0.6" fill="none"/>
<path d="M91.8,457.1V469.9M90.5,457.1h2.4M90.5,469.9h2.4" stroke="#222" stroke-width="0.6" fill="none"/>
<path d="M100.8,448.0V457.1M99.6,448.0h2.4M99.6,457.1h2.4" stroke="#222" stroke-width="0.6" fill="none"/>
<circle cx="82.2" cy="456.2" r="0.85" fill="#111"/>
<circle cx="83.1" cy="460.8" r="0.85" fill="#111"/>
<circle cx="83.3" cy="463.5" r="0.85" fill="#111"/>
<circle cx="82.2" cy="483.5" r="0.85" fill="#111"/>
<circle cx="83.0" cy="489.9" r="0.85" fill="#111"/>
<circle cx="82.6" cy="494.5" r="0.85" fill="#111"/>
<circle cx="82.3" cy="499.0" r="0.85" fill="#111"/>
<circle cx="82.4" cy="503.0" r="0.85" fill="#111"/>
<circle cx="92.1" cy="436.2" r="0.85" fill="#111"/>
<circle cx="92.2" cy="447.1" r="0.85" fill="#111"/>
<circle cx="91.2" cy="451.6" r="0.85" fill="#111"/>
<circle cx="91.9" cy="456.2" r="0.85" fill="#111"/>
<circle cx="91.2" cy="460.8" r="0.85" fill="#111"/>
<circle cx="92.0" cy="468.0" r="0.85" fill="#111"/>
<circle cx="91.5" cy="479.0" r="0.85" fill="#111"/>
<circle cx="92.2" cy="483.5" r="0.85" fill="#111"/>
<circle cx="92.3" cy="492.6" r="0.85" fill="#111"/>
<circle cx="91.8" cy="499.0" r="0.85" fill="#111"/>
<circle cx="101.4" cy="426.1" r="0.85" fill="#111"/>
<circle cx="100.6" cy="428.9" r="0.85" fill="#111"/>
<circle cx="100.3" cy="433.4" r="0.85" fill="#111"/>
<circle cx="100.9" cy="438.0" r="0.85" fill="#111"/>
<circle cx="100.3" cy="440.7" r="0.85" fill="#111"/>
<circle cx="100.5" cy="451.6" r="0.85" fill="#111"/>
<circle cx="100.7" cy="460.8" r="0.85" fill="#111"/>
<circle cx="101.0" cy="488.1" r="0.85" fill="#111"/>
<path d="M45.1,506.3H106.5" stroke="#222" stroke-width="0.9"/>
<path d="M59.5,506.3V508.3" stroke="#222" stroke-width="0.8"/>
<path d="M91.75,506.3V508.3" stroke="#222" stroke-width="0.8"/>
<path d="M49.6,417.9H68.6" stroke="#555" stroke-width="0.6"/>
<text x="59.099999999999994" y="417.29999999999995" font-size="5.5" text-anchor="middle" fill="#333">***</text>
<path d="M49.6,422.8H59.6" stroke="#555" stroke-width="0.6"/>
<text x="54.6" y="422.2" font-size="5.5" text-anchor="middle" fill="#333">*</text>
<path d="M83,417.9H100" stroke="#555" stroke-width="0.6"/>
<text x="91.5" y="417.29999999999995" font-size="5.5" text-anchor="middle" fill="#333">**</text>
<path d="M83,422.8H91" stroke="#555" stroke-width="0.6"/>
<text x="87.0" y="422.2" font-size="5.5" text-anchor="middle" fill="#333">*</text>
<text x="59.5" y="518" font-size="6.1" text-anchor="middle" fill="#222">Tumor cells</text>
<text x="91.75" y="518" font-size="6.1" text-anchor="middle" fill="#222">T cells</text>
<path d="M133.4,408.8V506.5" stroke="#222" stroke-width="0.9" fill="none"/>
<path d="M131.4,421H133.4" stroke="#222" stroke-width="0.8"/>
<text x="128.2" y="423.1" font-size="6" text-anchor="end" fill="#222">40</text>
<path d="M131.4,442.4H133.4" stroke="#222" stroke-width="0.8"/>
<text x="128.2" y="444.5" font-size="6" text-anchor="end" fill="#222">30</text>
<path d="M131.4,463.8H133.4" stroke="#222" stroke-width="0.8"/>
<text x="128.2" y="465.90000000000003" font-size="6" text-anchor="end" fill="#222">20</text>
<path d="M131.4,485.2H133.4" stroke="#222" stroke-width="0.8"/>
<text x="128.2" y="487.3" font-size="6" text-anchor="end" fill="#222">10</text>
<path d="M131.4,506.5H133.4" stroke="#222" stroke-width="0.8"/>
<text x="128.2" y="508.6" font-size="6" text-anchor="end" fill="#222">0</text>
<rect x="134.75" y="503.29" width="8.30" height="3.21" fill="#a9b97a"/>
<rect x="143.05" y="497.52" width="8.30" height="8.98" fill="#3aa0d8"/>
<rect x="151.35" y="480.20" width="8.30" height="26.30" fill="#16487d"/>
<path d="M137.9,491.5L145.8,473.4" stroke="#c8c8c8" stroke-width="0.45" fill="none"/>
<path d="M140.0,502.2L146.6,493.7" stroke="#c8c8c8" stroke-width="0.45" fill="none"/>
<path d="M148.6,473.4L156.7,425.3" stroke="#c8c8c8" stroke-width="0.45" fill="none"/>
<path d="M146.8,493.7L155.4,435.9" stroke="#c8c8c8" stroke-width="0.45" fill="none"/>
<path d="M147.3,500.1L155.9,485.1" stroke="#c8c8c8" stroke-width="0.45" fill="none"/>
<path d="M139.2,504.4L147.4,495.8" stroke="#c8c8c8" stroke-width="0.45" fill="none"/>
<path d="M138.9,502.0V504.6M137.7,502.0h2.4M137.7,504.6h2.4" stroke="#222" stroke-width="0.6" fill="none"/>
<path d="M147.2,495.0V500.1M146.0,495.0h2.4M146.0,500.1h2.4" stroke="#222" stroke-width="0.6" fill="none"/>
<path d="M155.5,472.7V487.7M154.3,472.7h2.4M154.3,487.7h2.4" stroke="#222" stroke-width="0.6" fill="none"/>
<circle cx="139.0" cy="491.5" r="0.85" fill="#111"/>
<circle cx="139.4" cy="501.2" r="0.85" fill="#111"/>
<circle cx="138.9" cy="502.2" r="0.85" fill="#111"/>
<circle cx="138.8" cy="503.3" r="0.85" fill="#111"/>
<circle cx="139.2" cy="504.4" r="0.85" fill="#111"/>
<circle cx="146.9" cy="473.4" r="0.85" fill="#111"/>
<circle cx="147.0" cy="493.7" r="0.85" fill="#111"/>
<circle cx="147.8" cy="495.8" r="0.85" fill="#111"/>
<circle cx="147.2" cy="497.9" r="0.85" fill="#111"/>
<circle cx="147.3" cy="500.1" r="0.85" fill="#111"/>
<circle cx="146.6" cy="502.2" r="0.85" fill="#111"/>
<circle cx="147.1" cy="504.4" r="0.85" fill="#111"/>
<circle cx="155.6" cy="425.3" r="0.85" fill="#111"/>
<circle cx="154.9" cy="435.9" r="0.85" fill="#111"/>
<circle cx="155.6" cy="462.7" r="0.85" fill="#111"/>
<circle cx="155.7" cy="476.6" r="0.85" fill="#111"/>
<circle cx="155.0" cy="485.1" r="0.85" fill="#111"/>
<circle cx="155.7" cy="495.8" r="0.85" fill="#111"/>
<circle cx="155.5" cy="500.1" r="0.85" fill="#111"/>
<rect x="164.15" y="501.80" width="8.30" height="4.70" fill="#a9b97a"/>
<rect x="172.45" y="500.51" width="8.30" height="5.99" fill="#3aa0d8"/>
<rect x="180.75" y="499.66" width="8.30" height="6.84" fill="#16487d"/>
<path d="M168.8,495.8L176.2,485.1" stroke="#c8c8c8" stroke-width="0.45" fill="none"/>
<path d="M177.2,485.1L185.6,492.6" stroke="#c8c8c8" stroke-width="0.45" fill="none"/>
<path d="M166.9,502.2L175.3,500.1" stroke="#c8c8c8" stroke-width="0.45" fill="none"/>
<path d="M177.1,500.1L186.3,497.9" stroke="#c8c8c8" stroke-width="0.45" fill="none"/>
<path d="M168.3,500.5V503.1M167.1,500.5h2.4M167.1,503.1h2.4" stroke="#222" stroke-width="0.6" fill="none"/>
<path d="M176.6,498.8V502.2M175.4,498.8h2.4M175.4,502.2h2.4" stroke="#222" stroke-width="0.6" fill="none"/>
<path d="M184.9,498.2V501.2M183.7,498.2h2.4M183.7,501.2h2.4" stroke="#222" stroke-width="0.6" fill="none"/>
<circle cx="168.0" cy="495.8" r="0.85" fill="#111"/>
<circle cx="168.2" cy="502.2" r="0.85" fill="#111"/>
<circle cx="168.4" cy="503.3" r="0.85" fill="#111"/>
<circle cx="168.1" cy="504.4" r="0.85" fill="#111"/>
<circle cx="176.4" cy="485.1" r="0.85" fill="#111"/>
<circle cx="176.4" cy="496.9" r="0.85" fill="#111"/>
<circle cx="176.4" cy="500.1" r="0.85" fill="#111"/>
<circle cx="176.7" cy="502.2" r="0.85" fill="#111"/>
<circle cx="176.4" cy="504.4" r="0.85" fill="#111"/>
<circle cx="184.8" cy="492.6" r="0.85" fill="#111"/>
<circle cx="185.2" cy="497.9" r="0.85" fill="#111"/>
<circle cx="184.3" cy="500.1" r="0.85" fill="#111"/>
<circle cx="185.0" cy="502.2" r="0.85" fill="#111"/>
<circle cx="185.2" cy="503.3" r="0.85" fill="#111"/>
<rect x="193.65" y="501.80" width="8.30" height="4.70" fill="#a9b97a"/>
<rect x="201.95" y="496.88" width="8.30" height="9.62" fill="#3aa0d8"/>
<rect x="210.25" y="499.87" width="8.30" height="6.63" fill="#16487d"/>
<path d="M197.2,491.5L205.3,476.6" stroke="#c8c8c8" stroke-width="0.45" fill="none"/>
<path d="M207.0,476.6L213.6,483.0" stroke="#c8c8c8" stroke-width="0.45" fill="none"/>
<path d="M196.9,494.7L205.9,485.1" stroke="#c8c8c8" stroke-width="0.45" fill="none"/>
<path d="M206.7,485.1L213.2,489.4" stroke="#c8c8c8" stroke-width="0.45" fill="none"/>
<path d="M197.3,500.1L205.6,491.5" stroke="#c8c8c8" stroke-width="0.45" fill="none"/>
<path d="M197.8,500.5V503.1M196.6,500.5h2.4M196.6,503.1h2.4" stroke="#222" stroke-width="0.6" fill="none"/>
<path d="M206.1,494.3V499.4M204.9,494.3h2.4M204.9,499.4h2.4" stroke="#222" stroke-width="0.6" fill="none"/>
<path d="M214.4,498.4V501.4M213.2,498.4h2.4M213.2,501.4h2.4" stroke="#222" stroke-width="0.6" fill="none"/>
<circle cx="198.2" cy="491.5" r="0.85" fill="#111"/>
<circle cx="197.7" cy="494.7" r="0.85" fill="#111"/>
<circle cx="198.2" cy="500.1" r="0.85" fill="#111"/>
<circle cx="197.4" cy="502.2" r="0.85" fill="#111"/>
<circle cx="197.6" cy="504.4" r="0.85" fill="#111"/>
<circle cx="206.3" cy="476.6" r="0.85" fill="#111"/>
<circle cx="206.6" cy="485.1" r="0.85" fill="#111"/>
<circle cx="206.0" cy="491.5" r="0.85" fill="#111"/>
<circle cx="205.8" cy="495.8" r="0.85" fill="#111"/>
<circle cx="205.6" cy="497.9" r="0.85" fill="#111"/>
<circle cx="206.1" cy="500.1" r="0.85" fill="#111"/>
<circle cx="205.7" cy="502.2" r="0.85" fill="#111"/>
<circle cx="214.8" cy="483.0" r="0.85" fill="#111"/>
<circle cx="214.8" cy="489.4" r="0.85" fill="#111"/>
<circle cx="214.0" cy="493.7" r="0.85" fill="#111"/>
<circle cx="214.1" cy="497.9" r="0.85" fill="#111"/>
<circle cx="214.8" cy="502.2" r="0.85" fill="#111"/>
<rect x="223.15" y="505.43" width="8.30" height="1.07" fill="#a9b97a"/>
<rect x="231.45" y="506.07" width="8.30" height="0.43" fill="#3aa0d8"/>
<rect x="239.75" y="503.93" width="8.30" height="2.57" fill="#16487d"/>
<path d="M227.7,504.4L236.5,505.4" stroke="#c8c8c8" stroke-width="0.45" fill="none"/>
<path d="M235.1,505.4L242.8,497.9" stroke="#c8c8c8" stroke-width="0.45" fill="none"/>
<path d="M227.3,505.0V505.9M226.1,505.0h2.4M226.1,505.9h2.4" stroke="#222" stroke-width="0.6" fill="none"/>
<path d="M235.6,505.9V506.3M234.4,505.9h2.4M234.4,506.3h2.4" stroke="#222" stroke-width="0.6" fill="none"/>
<path d="M243.9,502.9V505.0M242.7,502.9h2.4M242.7,505.0h2.4" stroke="#222" stroke-width="0.6" fill="none"/>
<circle cx="227.1" cy="504.4" r="0.85" fill="#111"/>
<circle cx="227.7" cy="505.4" r="0.85" fill="#111"/>
<circle cx="235.3" cy="505.4" r="0.85" fill="#111"/>
<circle cx="243.7" cy="497.9" r="0.85" fill="#111"/>
<circle cx="243.8" cy="501.2" r="0.85" fill="#111"/>
<circle cx="243.8" cy="503.3" r="0.85" fill="#111"/>
<circle cx="243.8" cy="505.4" r="0.85" fill="#111"/>
<rect x="252.65" y="498.38" width="8.30" height="8.12" fill="#a9b97a"/>
<rect x="260.95" y="501.80" width="8.30" height="4.70" fill="#3aa0d8"/>
<rect x="269.25" y="499.87" width="8.30" height="6.63" fill="#16487d"/>
<path d="M258.1,489.4L264.1,495.8" stroke="#c8c8c8" stroke-width="0.45" fill="none"/>
<path d="M263.6,495.8L274.7,456.3" stroke="#c8c8c8" stroke-width="0.45" fill="none"/>
<path d="M266.2,497.9L274.9,497.9" stroke="#c8c8c8" stroke-width="0.45" fill="none"/>
<path d="M256.6,493.7L266.5,502.2" stroke="#c8c8c8" stroke-width="0.45" fill="none"/>
<path d="M256.8,495.8V500.9M255.6,495.8h2.4M255.6,500.9h2.4" stroke="#222" stroke-width="0.6" fill="none"/>
<path d="M265.1,500.1V503.5M263.9,500.1h2.4M263.9,503.5h2.4" stroke="#222" stroke-width="0.6" fill="none"/>
<path d="M273.4,497.9V501.8M272.2,497.9h2.4M272.2,501.8h2.4" stroke="#222" stroke-width="0.6" fill="none"/>
<circle cx="257.3" cy="489.4" r="0.85" fill="#111"/>
<circle cx="256.5" cy="491.5" r="0.85" fill="#111"/>
<circle cx="257.1" cy="493.7" r="0.85" fill="#111"/>
<circle cx="257.2" cy="495.8" r="0.85" fill="#111"/>
<circle cx="257.0" cy="497.9" r="0.85" fill="#111"/>
<circle cx="256.8" cy="500.1" r="0.85" fill="#111"/>
<circle cx="256.5" cy="502.2" r="0.85" fill="#111"/>
<circle cx="256.6" cy="504.4" r="0.85" fill="#111"/>
<circle cx="264.8" cy="495.8" r="0.85" fill="#111"/>
<circle cx="264.6" cy="497.9" r="0.85" fill="#111"/>
<circle cx="265.2" cy="502.2" r="0.85" fill="#111"/>
<circle cx="264.8" cy="504.4" r="0.85" fill="#111"/>
<circle cx="273.8" cy="456.3" r="0.85" fill="#111"/>
<circle cx="272.9" cy="495.8" r="0.85" fill="#111"/>
<circle cx="273.9" cy="497.9" r="0.85" fill="#111"/>
<circle cx="273.6" cy="500.1" r="0.85" fill="#111"/>
<circle cx="273.9" cy="502.2" r="0.85" fill="#111"/>
<circle cx="273.9" cy="504.4" r="0.85" fill="#111"/>
<path d="M133.4,506.5H278.7" stroke="#222" stroke-width="0.9"/>
<path d="M147.2,506.5V508.5" stroke="#222" stroke-width="0.8"/>
<path d="M176.6,506.5V508.5" stroke="#222" stroke-width="0.8"/>
<path d="M206.1,506.5V508.5" stroke="#222" stroke-width="0.8"/>
<path d="M235.6,506.5V508.5" stroke="#222" stroke-width="0.8"/>
<path d="M265.1,506.5V508.5" stroke="#222" stroke-width="0.8"/>
<path d="M139,417.8H155" stroke="#555" stroke-width="0.6"/>
<text x="147.0" y="417.2" font-size="5.5" text-anchor="middle" fill="#333">**</text>
<path d="M139,423H147.4" stroke="#555" stroke-width="0.6"/>
<text x="143.2" y="422.4" font-size="5.5" text-anchor="middle" fill="#333">***</text>
<path d="M169,417.8H185" stroke="#555" stroke-width="0.6"/>
<text x="177.0" y="417.2" font-size="5.5" text-anchor="middle" fill="#333">***</text>
<path d="M169,423H177" stroke="#555" stroke-width="0.6"/>
<text x="173.0" y="422.4" font-size="5.5" text-anchor="middle" fill="#333">***</text>
<path d="M228,417.4H244.5" stroke="#555" stroke-width="0.6"/>
<text x="236.25" y="416.79999999999995" font-size="5.5" text-anchor="middle" fill="#333">*</text>
<path d="M258,423.2H266" stroke="#555" stroke-width="0.6"/>
<text x="262.0" y="422.59999999999997" font-size="5.5" text-anchor="middle" fill="#333">**</text>
<text x="147.2" y="517.8" font-size="6.1" text-anchor="middle" fill="#222">NK/NKT</text>
<text x="176.9" y="517.8" font-size="6.1" text-anchor="middle" fill="#222">Myeloid/DC</text>
<text x="206.7" y="517.8" font-size="6.1" text-anchor="middle" fill="#222">B cells</text>
<text x="236.3" y="517.8" font-size="6.1" text-anchor="middle" fill="#222">PC</text>
<text x="264.8" y="517.8" font-size="6.1" text-anchor="middle" fill="#222">Prolif.</text>
<text x="90.5" y="529.6" font-size="6.1" text-anchor="start" fill="#222">Timepoint</text>
<rect x="122.5" y="525.6" width="3" height="3" fill="#a9b97a"/>
<text x="128" y="529.6" font-size="6.1" text-anchor="start" fill="#222">Pre Tx</text>
<rect x="150.4" y="525.6" width="3" height="3" fill="#3aa0d8"/>
<text x="156.3" y="529.6" font-size="6.1" text-anchor="start" fill="#222">Day 8</text>
<rect x="177.9" y="525.6" width="3" height="3" fill="#16487d"/>
<text x="184.5" y="529.6" font-size="6.1" text-anchor="start" fill="#222">Week 6</text>
<text x="414.7" y="399.5" font-size="8.1" text-anchor="middle" fill="#222">Injected Site – T cells scRNA-seq</text>
<text x="0" y="0" font-size="7.4" text-anchor="middle" fill="#222" style="stroke-width:0.35px" transform="translate(297,453.8) rotate(-90)" textLength="61" lengthAdjust="spacingAndGlyphs">Percentage of all T cells</text>
<path d="M316.1,404.3V506.8" stroke="#222" stroke-width="0.9" fill="none"/>
<path d="M314.1,406.4H316.1" stroke="#222" stroke-width="0.8"/>
<text x="309.5" y="408.5" font-size="6" text-anchor="end" fill="#222">50</text>
<path d="M314.1,426.4H316.1" stroke="#222" stroke-width="0.8"/>
<text x="309.5" y="428.5" font-size="6" text-anchor="end" fill="#222">40</text>
<path d="M314.1,446.4H316.1" stroke="#222" stroke-width="0.8"/>
<text x="309.5" y="448.5" font-size="6" text-anchor="end" fill="#222">30</text>
<path d="M314.1,466.3H316.1" stroke="#222" stroke-width="0.8"/>
<text x="309.5" y="468.40000000000003" font-size="6" text-anchor="end" fill="#222">20</text>
<path d="M314.1,486.5H316.1" stroke="#222" stroke-width="0.8"/>
<text x="309.5" y="488.6" font-size="6" text-anchor="end" fill="#222">10</text>
<path d="M314.1,506.8H316.1" stroke="#222" stroke-width="0.8"/>
<text x="309.5" y="508.90000000000003" font-size="6" text-anchor="end" fill="#222">0</text>
<rect x="317.05" y="502.78" width="9.30" height="4.02" fill="#a9b97a"/>
<rect x="326.35" y="498.17" width="9.30" height="8.63" fill="#3aa0d8"/>
<rect x="335.65" y="504.19" width="9.30" height="2.61" fill="#16487d"/>
<path d="M322.9,491.9L331.2,473.5" stroke="#c8c8c8" stroke-width="0.45" fill="none"/>
<path d="M329.5,473.5L341.0,498.8" stroke="#c8c8c8" stroke-width="0.45" fill="none"/>
<path d="M320.7,498.8L330.4,492.7" stroke="#c8c8c8" stroke-width="0.45" fill="none"/>
<path d="M331.5,492.7L340.4,503.8" stroke="#c8c8c8" stroke-width="0.45" fill="none"/>
<path d="M321.7,501.2V504.4M320.5,501.2h2.4M320.5,504.4h2.4" stroke="#222" stroke-width="0.6" fill="none"/>
<path d="M331.0,495.6V500.8M329.8,495.6h2.4M329.8,500.8h2.4" stroke="#222" stroke-width="0.6" fill="none"/>
<path d="M340.3,503.2V505.2M339.1,503.2h2.4M339.1,505.2h2.4" stroke="#222" stroke-width="0.6" fill="none"/>
<circle cx="321.6" cy="491.9" r="0.85" fill="#111"/>
<circle cx="322.2" cy="498.8" r="0.85" fill="#111"/>
<circle cx="321.8" cy="500.8" r="0.85" fill="#111"/>
<circle cx="321.5" cy="504.8" r="0.85" fill="#111"/>
<circle cx="321.4" cy="505.8" r="0.85" fill="#111"/>
<circle cx="331.4" cy="473.5" r="0.85" fill="#111"/>
<circle cx="331.0" cy="491.9" r="0.85" fill="#111"/>
<circle cx="331.3" cy="492.7" r="0.85" fill="#111"/>
<circle cx="330.8" cy="494.8" r="0.85" fill="#111"/>
<circle cx="330.6" cy="502.8" r="0.85" fill="#111"/>
<circle cx="340.3" cy="498.8" r="0.85" fill="#111"/>
<circle cx="340.7" cy="500.8" r="0.85" fill="#111"/>
<circle cx="339.9" cy="503.8" r="0.85" fill="#111"/>
<circle cx="340.7" cy="505.8" r="0.85" fill="#111"/>
<rect x="350.45" y="498.17" width="9.30" height="8.63" fill="#a9b97a"/>
<rect x="359.75" y="493.35" width="9.30" height="13.45" fill="#3aa0d8"/>
<rect x="369.05" y="500.78" width="9.30" height="6.02" fill="#16487d"/>
<path d="M356.4,470.1L365.3,468.0" stroke="#c8c8c8" stroke-width="0.45" fill="none"/>
<path d="M356.1,480.1L362.9,474.7" stroke="#c8c8c8" stroke-width="0.45" fill="none"/>
<path d="M364.8,468.0L374.8,480.1" stroke="#c8c8c8" stroke-width="0.45" fill="none"/>
<path d="M363.0,476.7L373.0,488.7" stroke="#c8c8c8" stroke-width="0.45" fill="none"/>
<path d="M354.4,490.7L364.5,486.7" stroke="#c8c8c8" stroke-width="0.45" fill="none"/>
<path d="M355.1,494.6V501.8M353.9,494.6h2.4M353.9,501.8h2.4" stroke="#222" stroke-width="0.6" fill="none"/>
<path d="M364.4,489.3V497.4M363.2,489.3h2.4M363.2,497.4h2.4" stroke="#222" stroke-width="0.6" fill="none"/>
<path d="M373.7,499.0V502.6M372.5,499.0h2.4M372.5,502.6h2.4" stroke="#222" stroke-width="0.6" fill="none"/>
<circle cx="355.0" cy="470.1" r="0.85" fill="#111"/>
<circle cx="355.1" cy="480.1" r="0.85" fill="#111"/>
<circle cx="355.4" cy="490.7" r="0.85" fill="#111"/>
<circle cx="354.5" cy="494.8" r="0.85" fill="#111"/>
<circle cx="354.6" cy="500.8" r="0.85" fill="#111"/>
<circle cx="354.7" cy="504.8" r="0.85" fill="#111"/>
<circle cx="363.9" cy="468.0" r="0.85" fill="#111"/>
<circle cx="363.9" cy="474.7" r="0.85" fill="#111"/>
<circle cx="365.0" cy="476.7" r="0.85" fill="#111"/>
<circle cx="364.8" cy="480.7" r="0.85" fill="#111"/>
<circle cx="363.9" cy="486.7" r="0.85" fill="#111"/>
<circle cx="364.4" cy="492.7" r="0.85" fill="#111"/>
<circle cx="364.2" cy="496.8" r="0.85" fill="#111"/>
<circle cx="364.2" cy="500.8" r="0.85" fill="#111"/>
<circle cx="373.5" cy="480.1" r="0.85" fill="#111"/>
<circle cx="373.9" cy="488.7" r="0.85" fill="#111"/>
<circle cx="373.8" cy="496.8" r="0.85" fill="#111"/>
<circle cx="373.5" cy="501.8" r="0.85" fill="#111"/>
<circle cx="373.3" cy="504.8" r="0.85" fill="#111"/>
<rect x="383.85" y="495.76" width="9.30" height="11.04" fill="#a9b97a"/>
<rect x="393.15" y="487.72" width="9.30" height="19.08" fill="#3aa0d8"/>
<rect x="402.45" y="494.95" width="9.30" height="11.85" fill="#16487d"/>
<path d="M388.0,480.1L396.7,470.7" stroke="#c8c8c8" stroke-width="0.45" fill="none"/>
<path d="M388.7,488.7L398.4,478.7" stroke="#c8c8c8" stroke-width="0.45" fill="none"/>
<path d="M397.4,470.7L405.8,478.7" stroke="#c8c8c8" stroke-width="0.45" fill="none"/>
<path d="M396.8,482.7L406.7,482.7" stroke="#c8c8c8" stroke-width="0.45" fill="none"/>
<path d="M398.1,492.7L407.9,490.7" stroke="#c8c8c8" stroke-width="0.45" fill="none"/>
<path d="M388.5,492.5V499.0M387.3,492.5h2.4M387.3,499.0h2.4" stroke="#222" stroke-width="0.6" fill="none"/>
<path d="M397.8,484.7V490.7M396.6,484.7h2.4M396.6,490.7h2.4" stroke="#222" stroke-width="0.6" fill="none"/>
<path d="M407.1,492.5V497.4M405.9,492.5h2.4M405.9,497.4h2.4" stroke="#222" stroke-width="0.6" fill="none"/>
<circle cx="388.4" cy="480.1" r="0.85" fill="#111"/>
<circle cx="388.9" cy="488.7" r="0.85" fill="#111"/>
<circle cx="388.6" cy="490.7" r="0.85" fill="#111"/>
<circle cx="388.4" cy="494.8" r="0.85" fill="#111"/>
<circle cx="388.3" cy="500.8" r="0.85" fill="#111"/>
<circle cx="388.5" cy="504.8" r="0.85" fill="#111"/>
<circle cx="398.0" cy="470.7" r="0.85" fill="#111"/>
<circle cx="397.7" cy="474.7" r="0.85" fill="#111"/>
<circle cx="398.0" cy="478.7" r="0.85" fill="#111"/>
<circle cx="397.8" cy="482.7" r="0.85" fill="#111"/>
<circle cx="397.5" cy="486.7" r="0.85" fill="#111"/>
<circle cx="397.8" cy="492.7" r="0.85" fill="#111"/>
<circle cx="398.0" cy="496.8" r="0.85" fill="#111"/>
<circle cx="397.3" cy="502.8" r="0.85" fill="#111"/>
<circle cx="407.0" cy="478.7" r="0.85" fill="#111"/>
<circle cx="407.0" cy="482.7" r="0.85" fill="#111"/>
<circle cx="407.6" cy="490.7" r="0.85" fill="#111"/>
<circle cx="407.6" cy="494.8" r="0.85" fill="#111"/>
<circle cx="406.9" cy="500.8" r="0.85" fill="#111"/>
<rect x="417.25" y="492.34" width="9.30" height="14.46" fill="#a9b97a"/>
<rect x="426.55" y="479.69" width="9.30" height="27.11" fill="#3aa0d8"/>
<rect x="435.85" y="490.13" width="9.30" height="16.67" fill="#16487d"/>
<path d="M423.1,470.7L432.1,418.4" stroke="#c8c8c8" stroke-width="0.45" fill="none"/>
<path d="M421.2,482.7L431.1,458.6" stroke="#c8c8c8" stroke-width="0.45" fill="none"/>
<path d="M430.1,418.4L441.4,444.6" stroke="#c8c8c8" stroke-width="0.45" fill="none"/>
<path d="M431.7,458.6L441.7,482.7" stroke="#c8c8c8" stroke-width="0.45" fill="none"/>
<path d="M422.8,488.7L431.7,472.7" stroke="#c8c8c8" stroke-width="0.45" fill="none"/>
<path d="M431.9,478.7L440.7,488.7" stroke="#c8c8c8" stroke-width="0.45" fill="none"/>
<path d="M421.9,489.3V495.4M420.7,489.3h2.4M420.7,495.4h2.4" stroke="#222" stroke-width="0.6" fill="none"/>
<path d="M431.2,473.7V485.7M430.0,473.7h2.4M430.0,485.7h2.4" stroke="#222" stroke-width="0.6" fill="none"/>
<path d="M440.5,486.1V494.1M439.3,486.1h2.4M439.3,494.1h2.4" stroke="#222" stroke-width="0.6" fill="none"/>
<circle cx="421.4" cy="470.7" r="0.85" fill="#111"/>
<circle cx="422.0" cy="482.7" r="0.85" fill="#111"/>
<circle cx="421.3" cy="488.7" r="0.85" fill="#111"/>
<circle cx="421.5" cy="494.8" r="0.85" fill="#111"/>
<circle cx="422.2" cy="500.8" r="0.85" fill="#111"/>
<circle cx="430.7" cy="418.4" r="0.85" fill="#111"/>
<circle cx="430.7" cy="458.6" r="0.85" fill="#111"/>
<circle cx="430.7" cy="472.7" r="0.85" fill="#111"/>
<circle cx="431.7" cy="478.7" r="0.85" fill="#111"/>
<circle cx="430.8" cy="486.7" r="0.85" fill="#111"/>
<circle cx="430.6" cy="492.7" r="0.85" fill="#111"/>
<circle cx="431.6" cy="498.8" r="0.85" fill="#111"/>
<circle cx="440.0" cy="444.6" r="0.85" fill="#111"/>
<circle cx="440.9" cy="482.7" r="0.85" fill="#111"/>
<circle cx="440.7" cy="488.7" r="0.85" fill="#111"/>
<circle cx="440.9" cy="494.8" r="0.85" fill="#111"/>
<circle cx="441.0" cy="500.8" r="0.85" fill="#111"/>
<rect x="450.65" y="470.25" width="9.30" height="36.55" fill="#a9b97a"/>
<rect x="459.95" y="492.74" width="9.30" height="14.06" fill="#3aa0d8"/>
<rect x="469.25" y="494.95" width="9.30" height="11.85" fill="#16487d"/>
<path d="M455.5,419.5L465.5,482.7" stroke="#c8c8c8" stroke-width="0.45" fill="none"/>
<path d="M453.9,437.5L465.4,488.7" stroke="#c8c8c8" stroke-width="0.45" fill="none"/>
<path d="M455.3,442.9L465.2,466.6" stroke="#c8c8c8" stroke-width="0.45" fill="none"/>
<path d="M463.4,482.7L474.6,458.6" stroke="#c8c8c8" stroke-width="0.45" fill="none"/>
<path d="M456.6,458.6L463.3,490.7" stroke="#c8c8c8" stroke-width="0.45" fill="none"/>
<path d="M464.1,490.7L474.1,494.8" stroke="#c8c8c8" stroke-width="0.45" fill="none"/>
<path d="M455.3,464.2V476.3M454.1,464.2h2.4M454.1,476.3h2.4" stroke="#222" stroke-width="0.6" fill="none"/>
<path d="M464.6,489.1V496.4M463.4,489.1h2.4M463.4,496.4h2.4" stroke="#222" stroke-width="0.6" fill="none"/>
<path d="M473.9,492.5V497.4M472.7,492.5h2.4M472.7,497.4h2.4" stroke="#222" stroke-width="0.6" fill="none"/>
<circle cx="455.7" cy="419.5" r="0.85" fill="#111"/>
<circle cx="455.0" cy="437.5" r="0.85" fill="#111"/>
<circle cx="454.9" cy="442.9" r="0.85" fill="#111"/>
<circle cx="455.0" cy="458.6" r="0.85" fill="#111"/>
<circle cx="455.4" cy="470.7" r="0.85" fill="#111"/>
<circle cx="455.6" cy="482.7" r="0.85" fill="#111"/>
<circle cx="455.2" cy="488.7" r="0.85" fill="#111"/>
<circle cx="455.1" cy="498.8" r="0.85" fill="#111"/>
<circle cx="464.5" cy="482.7" r="0.85" fill="#111"/>
<circle cx="464.4" cy="488.7" r="0.85" fill="#111"/>
<circle cx="464.5" cy="490.7" r="0.85" fill="#111"/>
<circle cx="464.1" cy="494.8" r="0.85" fill="#111"/>
<circle cx="464.6" cy="498.8" r="0.85" fill="#111"/>
<circle cx="465.2" cy="502.8" r="0.85" fill="#111"/>
<circle cx="473.8" cy="458.6" r="0.85" fill="#111"/>
<circle cx="474.2" cy="482.7" r="0.85" fill="#111"/>
<circle cx="473.5" cy="488.7" r="0.85" fill="#111"/>
<circle cx="474.1" cy="494.8" r="0.85" fill="#111"/>
<circle cx="474.2" cy="500.8" r="0.85" fill="#111"/>
<rect x="484.05" y="504.79" width="9.30" height="2.01" fill="#a9b97a"/>
<rect x="493.35" y="506.00" width="9.30" height="0.80" fill="#3aa0d8"/>
<rect x="502.65" y="505.19" width="9.30" height="1.61" fill="#16487d"/>
<path d="M489.2,500.8L498.1,504.8" stroke="#c8c8c8" stroke-width="0.45" fill="none"/>
<path d="M498.0,504.8L507.7,502.8" stroke="#c8c8c8" stroke-width="0.45" fill="none"/>
<path d="M488.7,504.2V505.4M487.5,504.2h2.4M487.5,505.4h2.4" stroke="#222" stroke-width="0.6" fill="none"/>
<path d="M498.0,505.6V506.4M496.8,505.6h2.4M496.8,506.4h2.4" stroke="#222" stroke-width="0.6" fill="none"/>
<path d="M507.3,504.6V505.8M506.1,504.6h2.4M506.1,505.8h2.4" stroke="#222" stroke-width="0.6" fill="none"/>
<circle cx="489.2" cy="500.8" r="0.85" fill="#111"/>
<circle cx="488.3" cy="503.8" r="0.85" fill="#111"/>
<circle cx="488.2" cy="505.8" r="0.85" fill="#111"/>
<circle cx="498.3" cy="504.8" r="0.85" fill="#111"/>
<circle cx="498.5" cy="505.8" r="0.85" fill="#111"/>
<circle cx="507.3" cy="502.8" r="0.85" fill="#111"/>
<circle cx="507.2" cy="504.8" r="0.85" fill="#111"/>
<circle cx="507.6" cy="505.8" r="0.85" fill="#111"/>
<path d="M316.1,506.8H513.7" stroke="#222" stroke-width="0.9"/>
<path d="M331,506.8V508.8" stroke="#222" stroke-width="0.8"/>
<path d="M364.4,506.8V508.8" stroke="#222" stroke-width="0.8"/>
<path d="M397.8,506.8V508.8" stroke="#222" stroke-width="0.8"/>
<path d="M431.2,506.8V508.8" stroke="#222" stroke-width="0.8"/>
<path d="M464.6,506.8V508.8" stroke="#222" stroke-width="0.8"/>
<path d="M498,506.8V508.8" stroke="#222" stroke-width="0.8"/>
<path d="M321,412.8H330.6" stroke="#555" stroke-width="0.6"/>
<text x="325.8" y="412.2" font-size="5.5" text-anchor="middle" fill="#333">*</text>
<path d="M354,412.8H363.8" stroke="#555" stroke-width="0.6"/>
<text x="358.9" y="412.2" font-size="5.5" text-anchor="middle" fill="#333">**</text>
<path d="M387.8,412.8H397" stroke="#555" stroke-width="0.6"/>
<text x="392.4" y="412.2" font-size="5.5" text-anchor="middle" fill="#333">**</text>
<path d="M455,407H473.8" stroke="#555" stroke-width="0.6"/>
<text x="464.4" y="406.4" font-size="5.5" text-anchor="middle" fill="#333">*</text>
<path d="M455,412.3H464.5" stroke="#555" stroke-width="0.6"/>
<text x="459.75" y="411.7" font-size="5.5" text-anchor="middle" fill="#333">*</text>
<path d="M488.4,407H507" stroke="#555" stroke-width="0.6"/>
<text x="497.7" y="406.4" font-size="5.5" text-anchor="middle" fill="#333">*</text>
<text x="330" y="517.8" font-size="6.1" text-anchor="middle" fill="#222">CD8<tspan font-size="3.78" dy="1.6">N</tspan></text>
<text x="363.5" y="517.8" font-size="6.1" text-anchor="middle" fill="#222">CD4<tspan font-size="3.78" dy="1.6">N</tspan></text>
<text x="396.5" y="517.8" font-size="6.1" text-anchor="middle" fill="#222">CD4<tspan font-size="3.78" dy="1.6">M</tspan></text>
<text x="430.5" y="517.8" font-size="6.1" text-anchor="middle" fill="#222">T<tspan font-size="3.78" dy="1.6">EM</tspan></text>
<text x="464" y="517.8" font-size="6.1" text-anchor="middle" fill="#222">T<tspan font-size="3.78" dy="1.6">PR</tspan></text>
<text x="496.5" y="517.8" font-size="6.1" text-anchor="middle" fill="#222">T<tspan font-size="3.78" dy="1.6">X1</tspan></text>
<text x="357.5" y="530" font-size="6.1" text-anchor="start" fill="#222">Timepoint</text>
<rect x="389.5" y="526" width="3" height="3" fill="#a9b97a"/>
<text x="395" y="530" font-size="6.1" text-anchor="start" fill="#222">Pre Tx</text>
<rect x="417.3" y="526" width="3" height="3" fill="#3aa0d8"/>
<text x="423.5" y="530" font-size="6.1" text-anchor="start" fill="#222">Day 8</text>
<rect x="444.5" y="526" width="3" height="3" fill="#16487d"/>
<text x="451" y="530" font-size="6.1" text-anchor="start" fill="#222">Week 6</text>
<rect x="0.5" y="0.5" width="519" height="537" fill="none" stroke="#666" stroke-width="1"/>
</svg></body></html>
